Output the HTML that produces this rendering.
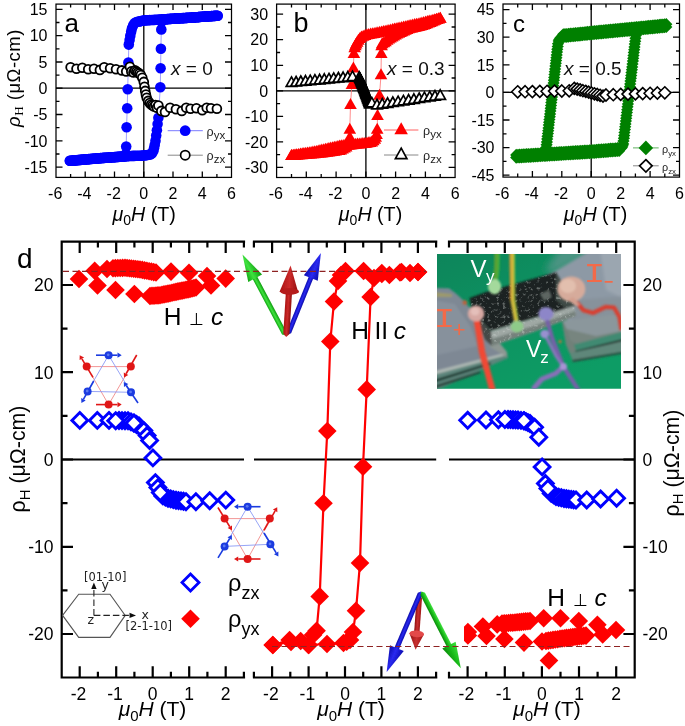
<!DOCTYPE html>
<html lang="en"><head><meta charset="utf-8"><title>Hall resistivity figure</title>
<style>html,body{margin:0;padding:0;background:#fff}body{width:685px;height:726px;overflow:hidden}svg{display:block}text{font-kerning:normal}</style></head><body>
<svg width="685" height="726" viewBox="0 0 685 726">
<defs>
<filter id="soft" x="-5%" y="-5%" width="110%" height="110%"><feGaussianBlur stdDeviation="0.45"/></filter>
<filter id="pblur" x="-10%" y="-10%" width="120%" height="120%"><feGaussianBlur stdDeviation="1.5"/></filter>
<filter id="speck" x="0" y="0" width="100%" height="100%"><feTurbulence type="fractalNoise" baseFrequency="0.32" numOctaves="3" seed="11" result="n"/><feColorMatrix in="n" type="matrix" values="0 0 0 0 1  0 0 0 0 1  0 0 0 0 1  4.5 0 0 0 -2.55" result="m"/><feComposite in="SourceGraphic" in2="m" operator="in"/><feGaussianBlur stdDeviation="0.5"/></filter>
<filter id="pblur3" x="-30%" y="-30%" width="160%" height="160%"><feGaussianBlur stdDeviation="4"/></filter>
<filter id="pblur2" x="-10%" y="-10%" width="120%" height="120%"><feGaussianBlur stdDeviation="0.8"/></filter>
<filter id="allsoft" x="0" y="0" width="100%" height="100%"><feGaussianBlur stdDeviation="0.35"/></filter>
<clipPath id="pclip"><rect x="437" y="254" width="184" height="134.7"/></clipPath>
<linearGradient id="pgreen" x1="0" y1="0" x2="0.6" y2="1"><stop offset="0" stop-color="#09855a"/><stop offset="0.45" stop-color="#0c9160"/><stop offset="1" stop-color="#0e9c65"/></linearGradient>
<linearGradient id="gG" gradientUnits="objectBoundingBox" x1="0" y1="0" x2="0" y2="1"><stop offset="0" stop-color="#0fa50f"/><stop offset="0.45" stop-color="#3fe23f"/><stop offset="1" stop-color="#0c9a0c"/></linearGradient>
<linearGradient id="gG2" gradientUnits="objectBoundingBox" x1="0" y1="0" x2="0" y2="1"><stop offset="0" stop-color="#3fe23f"/><stop offset="0.55" stop-color="#18b818"/><stop offset="1" stop-color="#0a8a0a"/></linearGradient>
<linearGradient id="gB" gradientUnits="objectBoundingBox" x1="0" y1="0" x2="0" y2="1"><stop offset="0" stop-color="#0a0ab0"/><stop offset="0.5" stop-color="#2a2af0"/><stop offset="1" stop-color="#0a0aa8"/></linearGradient>
<linearGradient id="gR" gradientUnits="objectBoundingBox" x1="0" y1="0" x2="0" y2="1"><stop offset="0" stop-color="#a81212"/><stop offset="0.5" stop-color="#cc2a2a"/><stop offset="1" stop-color="#8e0e0e"/></linearGradient>
<linearGradient id="gR2" gradientUnits="objectBoundingBox" x1="0" y1="0" x2="0" y2="1"><stop offset="0" stop-color="#a01515"/><stop offset="0.5" stop-color="#c93030"/><stop offset="1" stop-color="#8e1010"/></linearGradient>
</defs>
<rect width="685" height="726" fill="#fff"/>
<g filter="url(#allsoft)">
<g id="panel-a"><rect x="56" y="4.1" width="175.5" height="173.3" fill="#fff" stroke="#000" stroke-width="1.25"/>
<path d="M56 88.2H231.5 M143.8 4.1V177.4" stroke="#000" stroke-width="1.3" fill="none"/>
<path d="M70.6 4.1v3.5 M70.6 177.4v-3.5 M85.2 4.1v6 M85.2 177.4v-6 M99.9 4.1v3.5 M99.9 177.4v-3.5 M114.5 4.1v6 M114.5 177.4v-6 M129.1 4.1v3.5 M129.1 177.4v-3.5 M143.8 4.1v6 M143.8 177.4v-6 M158.4 4.1v3.5 M158.4 177.4v-3.5 M173 4.1v6 M173 177.4v-6 M187.6 4.1v3.5 M187.6 177.4v-3.5 M202.3 4.1v6 M202.3 177.4v-6 M216.9 4.1v3.5 M216.9 177.4v-3.5 M56 9.4h6.5 M231.5 9.4h-6.5 M56 35.7h6.5 M231.5 35.7h-6.5 M56 62h6.5 M231.5 62h-6.5 M56 88.2h6.5 M231.5 88.2h-6.5 M56 114.5h6.5 M231.5 114.5h-6.5 M56 140.8h6.5 M231.5 140.8h-6.5 M56 167.1h6.5 M231.5 167.1h-6.5 M56 22.5h3.5 M231.5 22.5h-3.5 M56 48.8h3.5 M231.5 48.8h-3.5 M56 75.1h3.5 M231.5 75.1h-3.5 M56 101.4h3.5 M231.5 101.4h-3.5 M56 127.7h3.5 M231.5 127.7h-3.5 M56 154h3.5 M231.5 154h-3.5" stroke="#000" stroke-width="1.3" fill="none"/>
<text x="47.5" y="15.1" font-size="16" text-anchor="end" fill="#000" font-family='"Liberation Sans", sans-serif' >15</text>
<text x="47.5" y="41.4" font-size="16" text-anchor="end" fill="#000" font-family='"Liberation Sans", sans-serif' >10</text>
<text x="47.5" y="67.7" font-size="16" text-anchor="end" fill="#000" font-family='"Liberation Sans", sans-serif' >5</text>
<text x="47.5" y="94" font-size="16" text-anchor="end" fill="#000" font-family='"Liberation Sans", sans-serif' >0</text>
<text x="47.5" y="120.2" font-size="16" text-anchor="end" fill="#000" font-family='"Liberation Sans", sans-serif' >-5</text>
<text x="47.5" y="146.5" font-size="16" text-anchor="end" fill="#000" font-family='"Liberation Sans", sans-serif' >-10</text>
<text x="47.5" y="172.8" font-size="16" text-anchor="end" fill="#000" font-family='"Liberation Sans", sans-serif' >-15</text>
<text x="55.2" y="198.8" font-size="16" text-anchor="middle" fill="#000" font-family='"Liberation Sans", sans-serif' >-6</text>
<text x="84.4" y="198.8" font-size="16" text-anchor="middle" fill="#000" font-family='"Liberation Sans", sans-serif' >-4</text>
<text x="113.7" y="198.8" font-size="16" text-anchor="middle" fill="#000" font-family='"Liberation Sans", sans-serif' >-2</text>
<text x="143.8" y="198.8" font-size="16" text-anchor="middle" fill="#000" font-family='"Liberation Sans", sans-serif' >0</text>
<text x="173" y="198.8" font-size="16" text-anchor="middle" fill="#000" font-family='"Liberation Sans", sans-serif' >2</text>
<text x="202.3" y="198.8" font-size="16" text-anchor="middle" fill="#000" font-family='"Liberation Sans", sans-serif' >4</text>
<text x="231.5" y="198.8" font-size="16" text-anchor="middle" fill="#000" font-family='"Liberation Sans", sans-serif' >6</text>
<text x="144.2" y="220.8" font-size="19.7" text-anchor="middle" font-family='"Liberation Sans", sans-serif'><tspan font-style="italic">μ</tspan><tspan font-size="14" dy="4.5">0</tspan><tspan font-style="italic" dy="-4.5">H</tspan> (T)</text>
<polyline points="217.6,15.7 216.2,15.8 214.7,15.9 213.2,16 211.7,16.1 210.2,16.2 208.8,16.3 207.3,16.4 205.8,16.5 204.3,16.6 202.9,16.7 201.4,16.8 199.9,16.9 198.4,17 197,17.2 195.5,17.3 194,17.4 192.5,17.5 191.1,17.6 189.6,17.7 188.1,17.8 186.6,17.9 185.2,18 183.7,18.1 182.2,18.1 180.7,18.2 179.2,18.3 177.8,18.4 176.3,18.5 174.8,18.6 173.3,18.7 171.9,18.8 170.4,18.9 168.9,19 167.4,19.1 166,19.2 164.5,19.3 163,19.4 161.5,19.4 160.1,19.5 158.6,19.6 157.1,19.7 155.6,19.8 154.2,19.9 152.7,20 151.2,20 149.7,20.1 148.2,20.2 146.8,20.3 145.3,20.4 143.8,20.4 142.3,20.7 140.9,21.1 139.4,21.4 137.9,21.7 136.4,22 134.7,23.1 133.2,25.2 132,28.3 131.2,31.5 130.3,35.7 129.6,39.9 128.8,44.6 128.4,62.5 127.7,89.3 127.2,108.2 126.6,127.2 126.2,146.6 125.9,154 124.7,156.4 123.2,156.5 121.8,156.6 120.3,156.7 118.8,156.8 117.3,156.9 115.8,157 114.4,157.1 112.9,157.2 111.4,157.3 109.9,157.4 108.4,157.6 106.9,157.7 105.5,157.8 104,157.9 102.5,158 101,158.1 99.5,158.2 98,158.3 96.6,158.5 95.1,158.6 93.6,158.7 92.1,158.8 90.6,159 89.1,159.1 87.7,159.2 86.2,159.4 84.7,159.5 83.2,159.6 81.7,159.8 80.2,159.9 78.8,160 77.3,160.1 75.8,160.3 74.3,160.4 72.8,160.5 71.4,160.7 69.9,160.8 69.9,160.8 71.3,160.7 72.8,160.5 74.3,160.4 75.7,160.3 77.2,160.2 78.6,160 80.1,159.9 81.6,159.8 83,159.6 84.5,159.5 86,159.4 87.4,159.3 88.9,159.1 90.4,159 91.8,158.9 93.3,158.7 94.7,158.6 96.2,158.5 97.7,158.4 99.1,158.2 100.6,158.1 102.1,158 103.5,157.9 105,157.8 106.4,157.7 107.9,157.6 109.4,157.5 110.8,157.4 112.3,157.3 113.8,157.2 115.2,157.1 116.7,157 118.1,156.9 119.6,156.7 121.1,156.6 122.5,156.5 124,156.4 125.5,156.3 126.9,156.2 128.4,156.1 129.9,156 131.3,156 132.8,155.9 134.2,155.9 135.7,155.8 137.2,155.8 138.6,155.7 140.1,155.7 141.6,155.6 143,155.6 144.5,155.4 145.9,155.2 147.4,155 148.9,154.7 150.3,154.5 151.8,153.4 153.3,151.3 154,148.2 154.7,145 155.5,140.8 156.2,135.6 156.9,130.3 157.6,124 158.4,117.7 160.3,87.2 160.6,68.3 160.9,48.8 161.3,29.4 161.6,21.5 162.8,19.4 164.3,19.3 165.7,19.2 167.2,19.1 168.7,19 170.2,18.9 171.7,18.8 173.1,18.7 174.6,18.6 176.1,18.5 177.6,18.4 179.1,18.3 180.6,18.3 182,18.2 183.5,18.1 185,18 186.5,17.9 188,17.8 189.5,17.7 190.9,17.6 192.4,17.5 193.9,17.4 195.4,17.3 196.9,17.2 198.4,17.1 199.8,17 201.3,16.8 202.8,16.7 204.3,16.6 205.8,16.5 207.3,16.4 208.7,16.3 210.2,16.2 211.7,16.1 213.2,16 214.7,15.9 216.1,15.8 217.6,15.7" fill="none" stroke="#8a8aff" stroke-width="0.8" />
<circle cx="217.6" cy="15.7" r="5.3" fill="#0000ff" stroke="none" stroke-width="0"/>
<circle cx="216.2" cy="15.8" r="5.3" fill="#0000ff" stroke="none" stroke-width="0"/>
<circle cx="214.7" cy="15.9" r="5.3" fill="#0000ff" stroke="none" stroke-width="0"/>
<circle cx="213.2" cy="16" r="5.3" fill="#0000ff" stroke="none" stroke-width="0"/>
<circle cx="211.7" cy="16.1" r="5.3" fill="#0000ff" stroke="none" stroke-width="0"/>
<circle cx="210.2" cy="16.2" r="5.3" fill="#0000ff" stroke="none" stroke-width="0"/>
<circle cx="208.8" cy="16.3" r="5.3" fill="#0000ff" stroke="none" stroke-width="0"/>
<circle cx="207.3" cy="16.4" r="5.3" fill="#0000ff" stroke="none" stroke-width="0"/>
<circle cx="205.8" cy="16.5" r="5.3" fill="#0000ff" stroke="none" stroke-width="0"/>
<circle cx="204.3" cy="16.6" r="5.3" fill="#0000ff" stroke="none" stroke-width="0"/>
<circle cx="202.9" cy="16.7" r="5.3" fill="#0000ff" stroke="none" stroke-width="0"/>
<circle cx="201.4" cy="16.8" r="5.3" fill="#0000ff" stroke="none" stroke-width="0"/>
<circle cx="199.9" cy="16.9" r="5.3" fill="#0000ff" stroke="none" stroke-width="0"/>
<circle cx="198.4" cy="17" r="5.3" fill="#0000ff" stroke="none" stroke-width="0"/>
<circle cx="197" cy="17.2" r="5.3" fill="#0000ff" stroke="none" stroke-width="0"/>
<circle cx="195.5" cy="17.3" r="5.3" fill="#0000ff" stroke="none" stroke-width="0"/>
<circle cx="194" cy="17.4" r="5.3" fill="#0000ff" stroke="none" stroke-width="0"/>
<circle cx="192.5" cy="17.5" r="5.3" fill="#0000ff" stroke="none" stroke-width="0"/>
<circle cx="191.1" cy="17.6" r="5.3" fill="#0000ff" stroke="none" stroke-width="0"/>
<circle cx="189.6" cy="17.7" r="5.3" fill="#0000ff" stroke="none" stroke-width="0"/>
<circle cx="188.1" cy="17.8" r="5.3" fill="#0000ff" stroke="none" stroke-width="0"/>
<circle cx="186.6" cy="17.9" r="5.3" fill="#0000ff" stroke="none" stroke-width="0"/>
<circle cx="185.2" cy="18" r="5.3" fill="#0000ff" stroke="none" stroke-width="0"/>
<circle cx="183.7" cy="18.1" r="5.3" fill="#0000ff" stroke="none" stroke-width="0"/>
<circle cx="182.2" cy="18.1" r="5.3" fill="#0000ff" stroke="none" stroke-width="0"/>
<circle cx="180.7" cy="18.2" r="5.3" fill="#0000ff" stroke="none" stroke-width="0"/>
<circle cx="179.2" cy="18.3" r="5.3" fill="#0000ff" stroke="none" stroke-width="0"/>
<circle cx="177.8" cy="18.4" r="5.3" fill="#0000ff" stroke="none" stroke-width="0"/>
<circle cx="176.3" cy="18.5" r="5.3" fill="#0000ff" stroke="none" stroke-width="0"/>
<circle cx="174.8" cy="18.6" r="5.3" fill="#0000ff" stroke="none" stroke-width="0"/>
<circle cx="173.3" cy="18.7" r="5.3" fill="#0000ff" stroke="none" stroke-width="0"/>
<circle cx="171.9" cy="18.8" r="5.3" fill="#0000ff" stroke="none" stroke-width="0"/>
<circle cx="170.4" cy="18.9" r="5.3" fill="#0000ff" stroke="none" stroke-width="0"/>
<circle cx="168.9" cy="19" r="5.3" fill="#0000ff" stroke="none" stroke-width="0"/>
<circle cx="167.4" cy="19.1" r="5.3" fill="#0000ff" stroke="none" stroke-width="0"/>
<circle cx="166" cy="19.2" r="5.3" fill="#0000ff" stroke="none" stroke-width="0"/>
<circle cx="164.5" cy="19.3" r="5.3" fill="#0000ff" stroke="none" stroke-width="0"/>
<circle cx="163" cy="19.4" r="5.3" fill="#0000ff" stroke="none" stroke-width="0"/>
<circle cx="161.5" cy="19.4" r="5.3" fill="#0000ff" stroke="none" stroke-width="0"/>
<circle cx="160.1" cy="19.5" r="5.3" fill="#0000ff" stroke="none" stroke-width="0"/>
<circle cx="158.6" cy="19.6" r="5.3" fill="#0000ff" stroke="none" stroke-width="0"/>
<circle cx="157.1" cy="19.7" r="5.3" fill="#0000ff" stroke="none" stroke-width="0"/>
<circle cx="155.6" cy="19.8" r="5.3" fill="#0000ff" stroke="none" stroke-width="0"/>
<circle cx="154.2" cy="19.9" r="5.3" fill="#0000ff" stroke="none" stroke-width="0"/>
<circle cx="152.7" cy="20" r="5.3" fill="#0000ff" stroke="none" stroke-width="0"/>
<circle cx="151.2" cy="20" r="5.3" fill="#0000ff" stroke="none" stroke-width="0"/>
<circle cx="149.7" cy="20.1" r="5.3" fill="#0000ff" stroke="none" stroke-width="0"/>
<circle cx="148.2" cy="20.2" r="5.3" fill="#0000ff" stroke="none" stroke-width="0"/>
<circle cx="146.8" cy="20.3" r="5.3" fill="#0000ff" stroke="none" stroke-width="0"/>
<circle cx="145.3" cy="20.4" r="5.3" fill="#0000ff" stroke="none" stroke-width="0"/>
<circle cx="143.8" cy="20.4" r="5.3" fill="#0000ff" stroke="none" stroke-width="0"/>
<circle cx="142.3" cy="20.7" r="5.3" fill="#0000ff" stroke="none" stroke-width="0"/>
<circle cx="140.9" cy="21.1" r="5.3" fill="#0000ff" stroke="none" stroke-width="0"/>
<circle cx="139.4" cy="21.4" r="5.3" fill="#0000ff" stroke="none" stroke-width="0"/>
<circle cx="137.9" cy="21.7" r="5.3" fill="#0000ff" stroke="none" stroke-width="0"/>
<circle cx="136.4" cy="22" r="5.3" fill="#0000ff" stroke="none" stroke-width="0"/>
<circle cx="134.7" cy="23.1" r="5.3" fill="#0000ff" stroke="none" stroke-width="0"/>
<circle cx="133.2" cy="25.2" r="5.3" fill="#0000ff" stroke="none" stroke-width="0"/>
<circle cx="132" cy="28.3" r="5.3" fill="#0000ff" stroke="none" stroke-width="0"/>
<circle cx="131.2" cy="31.5" r="5.3" fill="#0000ff" stroke="none" stroke-width="0"/>
<circle cx="130.3" cy="35.7" r="5.3" fill="#0000ff" stroke="none" stroke-width="0"/>
<circle cx="129.6" cy="39.9" r="5.3" fill="#0000ff" stroke="none" stroke-width="0"/>
<circle cx="128.8" cy="44.6" r="5.3" fill="#0000ff" stroke="none" stroke-width="0"/>
<circle cx="128.4" cy="62.5" r="5.3" fill="#0000ff" stroke="none" stroke-width="0"/>
<circle cx="127.7" cy="89.3" r="5.3" fill="#0000ff" stroke="none" stroke-width="0"/>
<circle cx="127.2" cy="108.2" r="5.3" fill="#0000ff" stroke="none" stroke-width="0"/>
<circle cx="126.6" cy="127.2" r="5.3" fill="#0000ff" stroke="none" stroke-width="0"/>
<circle cx="126.2" cy="146.6" r="5.3" fill="#0000ff" stroke="none" stroke-width="0"/>
<circle cx="125.9" cy="154" r="5.3" fill="#0000ff" stroke="none" stroke-width="0"/>
<circle cx="124.7" cy="156.4" r="5.3" fill="#0000ff" stroke="none" stroke-width="0"/>
<circle cx="123.2" cy="156.5" r="5.3" fill="#0000ff" stroke="none" stroke-width="0"/>
<circle cx="121.8" cy="156.6" r="5.3" fill="#0000ff" stroke="none" stroke-width="0"/>
<circle cx="120.3" cy="156.7" r="5.3" fill="#0000ff" stroke="none" stroke-width="0"/>
<circle cx="118.8" cy="156.8" r="5.3" fill="#0000ff" stroke="none" stroke-width="0"/>
<circle cx="117.3" cy="156.9" r="5.3" fill="#0000ff" stroke="none" stroke-width="0"/>
<circle cx="115.8" cy="157" r="5.3" fill="#0000ff" stroke="none" stroke-width="0"/>
<circle cx="114.4" cy="157.1" r="5.3" fill="#0000ff" stroke="none" stroke-width="0"/>
<circle cx="112.9" cy="157.2" r="5.3" fill="#0000ff" stroke="none" stroke-width="0"/>
<circle cx="111.4" cy="157.3" r="5.3" fill="#0000ff" stroke="none" stroke-width="0"/>
<circle cx="109.9" cy="157.4" r="5.3" fill="#0000ff" stroke="none" stroke-width="0"/>
<circle cx="108.4" cy="157.6" r="5.3" fill="#0000ff" stroke="none" stroke-width="0"/>
<circle cx="106.9" cy="157.7" r="5.3" fill="#0000ff" stroke="none" stroke-width="0"/>
<circle cx="105.5" cy="157.8" r="5.3" fill="#0000ff" stroke="none" stroke-width="0"/>
<circle cx="104" cy="157.9" r="5.3" fill="#0000ff" stroke="none" stroke-width="0"/>
<circle cx="102.5" cy="158" r="5.3" fill="#0000ff" stroke="none" stroke-width="0"/>
<circle cx="101" cy="158.1" r="5.3" fill="#0000ff" stroke="none" stroke-width="0"/>
<circle cx="99.5" cy="158.2" r="5.3" fill="#0000ff" stroke="none" stroke-width="0"/>
<circle cx="98" cy="158.3" r="5.3" fill="#0000ff" stroke="none" stroke-width="0"/>
<circle cx="96.6" cy="158.5" r="5.3" fill="#0000ff" stroke="none" stroke-width="0"/>
<circle cx="95.1" cy="158.6" r="5.3" fill="#0000ff" stroke="none" stroke-width="0"/>
<circle cx="93.6" cy="158.7" r="5.3" fill="#0000ff" stroke="none" stroke-width="0"/>
<circle cx="92.1" cy="158.8" r="5.3" fill="#0000ff" stroke="none" stroke-width="0"/>
<circle cx="90.6" cy="159" r="5.3" fill="#0000ff" stroke="none" stroke-width="0"/>
<circle cx="89.1" cy="159.1" r="5.3" fill="#0000ff" stroke="none" stroke-width="0"/>
<circle cx="87.7" cy="159.2" r="5.3" fill="#0000ff" stroke="none" stroke-width="0"/>
<circle cx="86.2" cy="159.4" r="5.3" fill="#0000ff" stroke="none" stroke-width="0"/>
<circle cx="84.7" cy="159.5" r="5.3" fill="#0000ff" stroke="none" stroke-width="0"/>
<circle cx="83.2" cy="159.6" r="5.3" fill="#0000ff" stroke="none" stroke-width="0"/>
<circle cx="81.7" cy="159.8" r="5.3" fill="#0000ff" stroke="none" stroke-width="0"/>
<circle cx="80.2" cy="159.9" r="5.3" fill="#0000ff" stroke="none" stroke-width="0"/>
<circle cx="78.8" cy="160" r="5.3" fill="#0000ff" stroke="none" stroke-width="0"/>
<circle cx="77.3" cy="160.1" r="5.3" fill="#0000ff" stroke="none" stroke-width="0"/>
<circle cx="75.8" cy="160.3" r="5.3" fill="#0000ff" stroke="none" stroke-width="0"/>
<circle cx="74.3" cy="160.4" r="5.3" fill="#0000ff" stroke="none" stroke-width="0"/>
<circle cx="72.8" cy="160.5" r="5.3" fill="#0000ff" stroke="none" stroke-width="0"/>
<circle cx="71.4" cy="160.7" r="5.3" fill="#0000ff" stroke="none" stroke-width="0"/>
<circle cx="69.9" cy="160.8" r="5.3" fill="#0000ff" stroke="none" stroke-width="0"/>
<circle cx="69.9" cy="160.8" r="5.3" fill="#0000ff" stroke="none" stroke-width="0"/>
<circle cx="71.3" cy="160.7" r="5.3" fill="#0000ff" stroke="none" stroke-width="0"/>
<circle cx="72.8" cy="160.5" r="5.3" fill="#0000ff" stroke="none" stroke-width="0"/>
<circle cx="74.3" cy="160.4" r="5.3" fill="#0000ff" stroke="none" stroke-width="0"/>
<circle cx="75.7" cy="160.3" r="5.3" fill="#0000ff" stroke="none" stroke-width="0"/>
<circle cx="77.2" cy="160.2" r="5.3" fill="#0000ff" stroke="none" stroke-width="0"/>
<circle cx="78.6" cy="160" r="5.3" fill="#0000ff" stroke="none" stroke-width="0"/>
<circle cx="80.1" cy="159.9" r="5.3" fill="#0000ff" stroke="none" stroke-width="0"/>
<circle cx="81.6" cy="159.8" r="5.3" fill="#0000ff" stroke="none" stroke-width="0"/>
<circle cx="83" cy="159.6" r="5.3" fill="#0000ff" stroke="none" stroke-width="0"/>
<circle cx="84.5" cy="159.5" r="5.3" fill="#0000ff" stroke="none" stroke-width="0"/>
<circle cx="86" cy="159.4" r="5.3" fill="#0000ff" stroke="none" stroke-width="0"/>
<circle cx="87.4" cy="159.3" r="5.3" fill="#0000ff" stroke="none" stroke-width="0"/>
<circle cx="88.9" cy="159.1" r="5.3" fill="#0000ff" stroke="none" stroke-width="0"/>
<circle cx="90.4" cy="159" r="5.3" fill="#0000ff" stroke="none" stroke-width="0"/>
<circle cx="91.8" cy="158.9" r="5.3" fill="#0000ff" stroke="none" stroke-width="0"/>
<circle cx="93.3" cy="158.7" r="5.3" fill="#0000ff" stroke="none" stroke-width="0"/>
<circle cx="94.7" cy="158.6" r="5.3" fill="#0000ff" stroke="none" stroke-width="0"/>
<circle cx="96.2" cy="158.5" r="5.3" fill="#0000ff" stroke="none" stroke-width="0"/>
<circle cx="97.7" cy="158.4" r="5.3" fill="#0000ff" stroke="none" stroke-width="0"/>
<circle cx="99.1" cy="158.2" r="5.3" fill="#0000ff" stroke="none" stroke-width="0"/>
<circle cx="100.6" cy="158.1" r="5.3" fill="#0000ff" stroke="none" stroke-width="0"/>
<circle cx="102.1" cy="158" r="5.3" fill="#0000ff" stroke="none" stroke-width="0"/>
<circle cx="103.5" cy="157.9" r="5.3" fill="#0000ff" stroke="none" stroke-width="0"/>
<circle cx="105" cy="157.8" r="5.3" fill="#0000ff" stroke="none" stroke-width="0"/>
<circle cx="106.4" cy="157.7" r="5.3" fill="#0000ff" stroke="none" stroke-width="0"/>
<circle cx="107.9" cy="157.6" r="5.3" fill="#0000ff" stroke="none" stroke-width="0"/>
<circle cx="109.4" cy="157.5" r="5.3" fill="#0000ff" stroke="none" stroke-width="0"/>
<circle cx="110.8" cy="157.4" r="5.3" fill="#0000ff" stroke="none" stroke-width="0"/>
<circle cx="112.3" cy="157.3" r="5.3" fill="#0000ff" stroke="none" stroke-width="0"/>
<circle cx="113.8" cy="157.2" r="5.3" fill="#0000ff" stroke="none" stroke-width="0"/>
<circle cx="115.2" cy="157.1" r="5.3" fill="#0000ff" stroke="none" stroke-width="0"/>
<circle cx="116.7" cy="157" r="5.3" fill="#0000ff" stroke="none" stroke-width="0"/>
<circle cx="118.1" cy="156.9" r="5.3" fill="#0000ff" stroke="none" stroke-width="0"/>
<circle cx="119.6" cy="156.7" r="5.3" fill="#0000ff" stroke="none" stroke-width="0"/>
<circle cx="121.1" cy="156.6" r="5.3" fill="#0000ff" stroke="none" stroke-width="0"/>
<circle cx="122.5" cy="156.5" r="5.3" fill="#0000ff" stroke="none" stroke-width="0"/>
<circle cx="124" cy="156.4" r="5.3" fill="#0000ff" stroke="none" stroke-width="0"/>
<circle cx="125.5" cy="156.3" r="5.3" fill="#0000ff" stroke="none" stroke-width="0"/>
<circle cx="126.9" cy="156.2" r="5.3" fill="#0000ff" stroke="none" stroke-width="0"/>
<circle cx="128.4" cy="156.1" r="5.3" fill="#0000ff" stroke="none" stroke-width="0"/>
<circle cx="129.9" cy="156" r="5.3" fill="#0000ff" stroke="none" stroke-width="0"/>
<circle cx="131.3" cy="156" r="5.3" fill="#0000ff" stroke="none" stroke-width="0"/>
<circle cx="132.8" cy="155.9" r="5.3" fill="#0000ff" stroke="none" stroke-width="0"/>
<circle cx="134.2" cy="155.9" r="5.3" fill="#0000ff" stroke="none" stroke-width="0"/>
<circle cx="135.7" cy="155.8" r="5.3" fill="#0000ff" stroke="none" stroke-width="0"/>
<circle cx="137.2" cy="155.8" r="5.3" fill="#0000ff" stroke="none" stroke-width="0"/>
<circle cx="138.6" cy="155.7" r="5.3" fill="#0000ff" stroke="none" stroke-width="0"/>
<circle cx="140.1" cy="155.7" r="5.3" fill="#0000ff" stroke="none" stroke-width="0"/>
<circle cx="141.6" cy="155.6" r="5.3" fill="#0000ff" stroke="none" stroke-width="0"/>
<circle cx="143" cy="155.6" r="5.3" fill="#0000ff" stroke="none" stroke-width="0"/>
<circle cx="144.5" cy="155.4" r="5.3" fill="#0000ff" stroke="none" stroke-width="0"/>
<circle cx="145.9" cy="155.2" r="5.3" fill="#0000ff" stroke="none" stroke-width="0"/>
<circle cx="147.4" cy="155" r="5.3" fill="#0000ff" stroke="none" stroke-width="0"/>
<circle cx="148.9" cy="154.7" r="5.3" fill="#0000ff" stroke="none" stroke-width="0"/>
<circle cx="150.3" cy="154.5" r="5.3" fill="#0000ff" stroke="none" stroke-width="0"/>
<circle cx="151.8" cy="153.4" r="5.3" fill="#0000ff" stroke="none" stroke-width="0"/>
<circle cx="153.3" cy="151.3" r="5.3" fill="#0000ff" stroke="none" stroke-width="0"/>
<circle cx="154" cy="148.2" r="5.3" fill="#0000ff" stroke="none" stroke-width="0"/>
<circle cx="154.7" cy="145" r="5.3" fill="#0000ff" stroke="none" stroke-width="0"/>
<circle cx="155.5" cy="140.8" r="5.3" fill="#0000ff" stroke="none" stroke-width="0"/>
<circle cx="156.2" cy="135.6" r="5.3" fill="#0000ff" stroke="none" stroke-width="0"/>
<circle cx="156.9" cy="130.3" r="5.3" fill="#0000ff" stroke="none" stroke-width="0"/>
<circle cx="157.6" cy="124" r="5.3" fill="#0000ff" stroke="none" stroke-width="0"/>
<circle cx="158.4" cy="117.7" r="5.3" fill="#0000ff" stroke="none" stroke-width="0"/>
<circle cx="160.3" cy="87.2" r="5.3" fill="#0000ff" stroke="none" stroke-width="0"/>
<circle cx="160.6" cy="68.3" r="5.3" fill="#0000ff" stroke="none" stroke-width="0"/>
<circle cx="160.9" cy="48.8" r="5.3" fill="#0000ff" stroke="none" stroke-width="0"/>
<circle cx="161.3" cy="29.4" r="5.3" fill="#0000ff" stroke="none" stroke-width="0"/>
<circle cx="161.6" cy="21.5" r="5.3" fill="#0000ff" stroke="none" stroke-width="0"/>
<circle cx="162.8" cy="19.4" r="5.3" fill="#0000ff" stroke="none" stroke-width="0"/>
<circle cx="164.3" cy="19.3" r="5.3" fill="#0000ff" stroke="none" stroke-width="0"/>
<circle cx="165.7" cy="19.2" r="5.3" fill="#0000ff" stroke="none" stroke-width="0"/>
<circle cx="167.2" cy="19.1" r="5.3" fill="#0000ff" stroke="none" stroke-width="0"/>
<circle cx="168.7" cy="19" r="5.3" fill="#0000ff" stroke="none" stroke-width="0"/>
<circle cx="170.2" cy="18.9" r="5.3" fill="#0000ff" stroke="none" stroke-width="0"/>
<circle cx="171.7" cy="18.8" r="5.3" fill="#0000ff" stroke="none" stroke-width="0"/>
<circle cx="173.1" cy="18.7" r="5.3" fill="#0000ff" stroke="none" stroke-width="0"/>
<circle cx="174.6" cy="18.6" r="5.3" fill="#0000ff" stroke="none" stroke-width="0"/>
<circle cx="176.1" cy="18.5" r="5.3" fill="#0000ff" stroke="none" stroke-width="0"/>
<circle cx="177.6" cy="18.4" r="5.3" fill="#0000ff" stroke="none" stroke-width="0"/>
<circle cx="179.1" cy="18.3" r="5.3" fill="#0000ff" stroke="none" stroke-width="0"/>
<circle cx="180.6" cy="18.3" r="5.3" fill="#0000ff" stroke="none" stroke-width="0"/>
<circle cx="182" cy="18.2" r="5.3" fill="#0000ff" stroke="none" stroke-width="0"/>
<circle cx="183.5" cy="18.1" r="5.3" fill="#0000ff" stroke="none" stroke-width="0"/>
<circle cx="185" cy="18" r="5.3" fill="#0000ff" stroke="none" stroke-width="0"/>
<circle cx="186.5" cy="17.9" r="5.3" fill="#0000ff" stroke="none" stroke-width="0"/>
<circle cx="188" cy="17.8" r="5.3" fill="#0000ff" stroke="none" stroke-width="0"/>
<circle cx="189.5" cy="17.7" r="5.3" fill="#0000ff" stroke="none" stroke-width="0"/>
<circle cx="190.9" cy="17.6" r="5.3" fill="#0000ff" stroke="none" stroke-width="0"/>
<circle cx="192.4" cy="17.5" r="5.3" fill="#0000ff" stroke="none" stroke-width="0"/>
<circle cx="193.9" cy="17.4" r="5.3" fill="#0000ff" stroke="none" stroke-width="0"/>
<circle cx="195.4" cy="17.3" r="5.3" fill="#0000ff" stroke="none" stroke-width="0"/>
<circle cx="196.9" cy="17.2" r="5.3" fill="#0000ff" stroke="none" stroke-width="0"/>
<circle cx="198.4" cy="17.1" r="5.3" fill="#0000ff" stroke="none" stroke-width="0"/>
<circle cx="199.8" cy="17" r="5.3" fill="#0000ff" stroke="none" stroke-width="0"/>
<circle cx="201.3" cy="16.8" r="5.3" fill="#0000ff" stroke="none" stroke-width="0"/>
<circle cx="202.8" cy="16.7" r="5.3" fill="#0000ff" stroke="none" stroke-width="0"/>
<circle cx="204.3" cy="16.6" r="5.3" fill="#0000ff" stroke="none" stroke-width="0"/>
<circle cx="205.8" cy="16.5" r="5.3" fill="#0000ff" stroke="none" stroke-width="0"/>
<circle cx="207.3" cy="16.4" r="5.3" fill="#0000ff" stroke="none" stroke-width="0"/>
<circle cx="208.7" cy="16.3" r="5.3" fill="#0000ff" stroke="none" stroke-width="0"/>
<circle cx="210.2" cy="16.2" r="5.3" fill="#0000ff" stroke="none" stroke-width="0"/>
<circle cx="211.7" cy="16.1" r="5.3" fill="#0000ff" stroke="none" stroke-width="0"/>
<circle cx="213.2" cy="16" r="5.3" fill="#0000ff" stroke="none" stroke-width="0"/>
<circle cx="214.7" cy="15.9" r="5.3" fill="#0000ff" stroke="none" stroke-width="0"/>
<circle cx="216.1" cy="15.8" r="5.3" fill="#0000ff" stroke="none" stroke-width="0"/>
<circle cx="217.6" cy="15.7" r="5.3" fill="#0000ff" stroke="none" stroke-width="0"/>
<polyline points="70.6,67.2 76.5,68.8 82.3,67.7 88.2,69.3 94,68.8 99.9,69.9 104.2,67.2 110.1,68.3 116,69.3 121.8,70.4 126.2,71.4 129.9,66.7 131.3,71.4 133.5,72.5 135,70.4 136.4,71.4 137.9,72.5 139.4,73.5 140.8,75.1 142.3,77.7 143.8,81.9 144.5,86.7 145.2,90.9 145.9,94.6 146.7,97.7 148.1,100.9 149.6,103 151.1,104.5 152.5,105.6 154,106.6 155.5,105.1 156.9,107.7 158.4,105.6 161.3,110.9 165,111.9 170.1,107.7 175.9,109.3 181.8,110.9 186.2,107.7 190.6,108.8 196.4,108.2 202.3,110.3 206.7,107.7 211,108.2 216.9,108.8" fill="none" stroke="#000" stroke-width="0.8" />
<circle cx="70.6" cy="67.2" r="4.4" fill="#fff" stroke="#000" stroke-width="1.8"/>
<circle cx="76.5" cy="68.8" r="4.4" fill="#fff" stroke="#000" stroke-width="1.8"/>
<circle cx="82.3" cy="67.7" r="4.4" fill="#fff" stroke="#000" stroke-width="1.8"/>
<circle cx="88.2" cy="69.3" r="4.4" fill="#fff" stroke="#000" stroke-width="1.8"/>
<circle cx="94" cy="68.8" r="4.4" fill="#fff" stroke="#000" stroke-width="1.8"/>
<circle cx="99.9" cy="69.9" r="4.4" fill="#fff" stroke="#000" stroke-width="1.8"/>
<circle cx="104.2" cy="67.2" r="4.4" fill="#fff" stroke="#000" stroke-width="1.8"/>
<circle cx="110.1" cy="68.3" r="4.4" fill="#fff" stroke="#000" stroke-width="1.8"/>
<circle cx="116" cy="69.3" r="4.4" fill="#fff" stroke="#000" stroke-width="1.8"/>
<circle cx="121.8" cy="70.4" r="4.4" fill="#fff" stroke="#000" stroke-width="1.8"/>
<circle cx="126.2" cy="71.4" r="4.4" fill="#fff" stroke="#000" stroke-width="1.8"/>
<circle cx="129.9" cy="66.7" r="4.4" fill="#fff" stroke="#000" stroke-width="1.8"/>
<circle cx="131.3" cy="71.4" r="4.4" fill="#fff" stroke="#000" stroke-width="1.8"/>
<circle cx="133.5" cy="72.5" r="4.4" fill="#fff" stroke="#000" stroke-width="1.8"/>
<circle cx="135" cy="70.4" r="4.4" fill="#fff" stroke="#000" stroke-width="1.8"/>
<circle cx="136.4" cy="71.4" r="4.4" fill="#fff" stroke="#000" stroke-width="1.8"/>
<circle cx="137.9" cy="72.5" r="4.4" fill="#fff" stroke="#000" stroke-width="1.8"/>
<circle cx="139.4" cy="73.5" r="4.4" fill="#fff" stroke="#000" stroke-width="1.8"/>
<circle cx="140.8" cy="75.1" r="4.4" fill="#fff" stroke="#000" stroke-width="1.8"/>
<circle cx="142.3" cy="77.7" r="4.4" fill="#fff" stroke="#000" stroke-width="1.8"/>
<circle cx="143.8" cy="81.9" r="4.4" fill="#fff" stroke="#000" stroke-width="1.8"/>
<circle cx="144.5" cy="86.7" r="4.4" fill="#fff" stroke="#000" stroke-width="1.8"/>
<circle cx="145.2" cy="90.9" r="4.4" fill="#fff" stroke="#000" stroke-width="1.8"/>
<circle cx="145.9" cy="94.6" r="4.4" fill="#fff" stroke="#000" stroke-width="1.8"/>
<circle cx="146.7" cy="97.7" r="4.4" fill="#fff" stroke="#000" stroke-width="1.8"/>
<circle cx="148.1" cy="100.9" r="4.4" fill="#fff" stroke="#000" stroke-width="1.8"/>
<circle cx="149.6" cy="103" r="4.4" fill="#fff" stroke="#000" stroke-width="1.8"/>
<circle cx="151.1" cy="104.5" r="4.4" fill="#fff" stroke="#000" stroke-width="1.8"/>
<circle cx="152.5" cy="105.6" r="4.4" fill="#fff" stroke="#000" stroke-width="1.8"/>
<circle cx="154" cy="106.6" r="4.4" fill="#fff" stroke="#000" stroke-width="1.8"/>
<circle cx="155.5" cy="105.1" r="4.4" fill="#fff" stroke="#000" stroke-width="1.8"/>
<circle cx="156.9" cy="107.7" r="4.4" fill="#fff" stroke="#000" stroke-width="1.8"/>
<circle cx="158.4" cy="105.6" r="4.4" fill="#fff" stroke="#000" stroke-width="1.8"/>
<circle cx="161.3" cy="110.9" r="4.4" fill="#fff" stroke="#000" stroke-width="1.8"/>
<circle cx="165" cy="111.9" r="4.4" fill="#fff" stroke="#000" stroke-width="1.8"/>
<circle cx="170.1" cy="107.7" r="4.4" fill="#fff" stroke="#000" stroke-width="1.8"/>
<circle cx="175.9" cy="109.3" r="4.4" fill="#fff" stroke="#000" stroke-width="1.8"/>
<circle cx="181.8" cy="110.9" r="4.4" fill="#fff" stroke="#000" stroke-width="1.8"/>
<circle cx="186.2" cy="107.7" r="4.4" fill="#fff" stroke="#000" stroke-width="1.8"/>
<circle cx="190.6" cy="108.8" r="4.4" fill="#fff" stroke="#000" stroke-width="1.8"/>
<circle cx="196.4" cy="108.2" r="4.4" fill="#fff" stroke="#000" stroke-width="1.8"/>
<circle cx="202.3" cy="110.3" r="4.4" fill="#fff" stroke="#000" stroke-width="1.8"/>
<circle cx="206.7" cy="107.7" r="4.4" fill="#fff" stroke="#000" stroke-width="1.8"/>
<circle cx="211" cy="108.2" r="4.4" fill="#fff" stroke="#000" stroke-width="1.8"/>
<circle cx="216.9" cy="108.8" r="4.4" fill="#fff" stroke="#000" stroke-width="1.8"/>
<text x="64.5" y="31.5" font-size="26" text-anchor="start" fill="#000" font-family='"Liberation Sans", sans-serif' >a</text>
<text x="171" y="75" font-size="19" font-family='"Liberation Sans", sans-serif' fill="#111"><tspan font-style="italic">x</tspan> = 0</text>
<path d="M167.7 130.7H202.8" stroke="#7a7aff" stroke-width="1"/>
<circle cx="185.2" cy="130.7" r="5.4" fill="#0000ff" stroke="none" stroke-width="0"/>
<path d="M167.7 155.2H202.8" stroke="#888" stroke-width="1"/>
<circle cx="185.2" cy="155.2" r="4.6" fill="#fff" stroke="#000" stroke-width="1.7"/>
<text x="206.5" y="135.9" font-size="12.5" fill="#222" font-family='"Liberation Sans", sans-serif'>ρ<tspan font-size="11.5" dy="3">yx</tspan></text>
<text x="206.5" y="160.4" font-size="12.5" fill="#222" font-family='"Liberation Sans", sans-serif'>ρ<tspan font-size="11.5" dy="3">zx</tspan></text>
<text transform="translate(19.5,78) rotate(-90)" font-size="18.5" letter-spacing="0.5" text-anchor="middle" font-family='"Liberation Sans", sans-serif'><tspan font-style="italic">ρ</tspan><tspan font-size="13" dy="3" font-family='"Liberation Serif", serif'>H</tspan><tspan dy="-3"> (μΩ-cm)</tspan></text></g>
<g id="panel-b"><rect x="276.6" y="4.1" width="178.5" height="173.4" fill="#fff" stroke="#000" stroke-width="1.25"/>
<path d="M276.6 90.8H455.1 M365.9 4.1V177.5" stroke="#000" stroke-width="1.3" fill="none"/>
<path d="M291.5 4.1v3.5 M291.5 177.5v-3.5 M306.3 4.1v6 M306.3 177.5v-6 M321.2 4.1v3.5 M321.2 177.5v-3.5 M336.1 4.1v6 M336.1 177.5v-6 M351 4.1v3.5 M351 177.5v-3.5 M365.9 4.1v6 M365.9 177.5v-6 M380.7 4.1v3.5 M380.7 177.5v-3.5 M395.6 4.1v6 M395.6 177.5v-6 M410.5 4.1v3.5 M410.5 177.5v-3.5 M425.4 4.1v6 M425.4 177.5v-6 M440.2 4.1v3.5 M440.2 177.5v-3.5 M276.6 14.2h6.5 M455.1 14.2h-6.5 M276.6 39.7h6.5 M455.1 39.7h-6.5 M276.6 65.3h6.5 M455.1 65.3h-6.5 M276.6 90.8h6.5 M455.1 90.8h-6.5 M276.6 116.3h6.5 M455.1 116.3h-6.5 M276.6 141.9h6.5 M455.1 141.9h-6.5 M276.6 167.4h6.5 M455.1 167.4h-6.5 M276.6 27h3.5 M455.1 27h-3.5 M276.6 52.5h3.5 M455.1 52.5h-3.5 M276.6 78h3.5 M455.1 78h-3.5 M276.6 103.6h3.5 M455.1 103.6h-3.5 M276.6 129.1h3.5 M455.1 129.1h-3.5 M276.6 154.6h3.5 M455.1 154.6h-3.5" stroke="#000" stroke-width="1.3" fill="none"/>
<text x="268.1" y="19.9" font-size="16" text-anchor="end" fill="#000" font-family='"Liberation Sans", sans-serif' >30</text>
<text x="268.1" y="45.4" font-size="16" text-anchor="end" fill="#000" font-family='"Liberation Sans", sans-serif' >20</text>
<text x="268.1" y="71" font-size="16" text-anchor="end" fill="#000" font-family='"Liberation Sans", sans-serif' >10</text>
<text x="268.1" y="96.5" font-size="16" text-anchor="end" fill="#000" font-family='"Liberation Sans", sans-serif' >0</text>
<text x="268.1" y="122" font-size="16" text-anchor="end" fill="#000" font-family='"Liberation Sans", sans-serif' >-10</text>
<text x="268.1" y="147.6" font-size="16" text-anchor="end" fill="#000" font-family='"Liberation Sans", sans-serif' >-20</text>
<text x="268.1" y="173.1" font-size="16" text-anchor="end" fill="#000" font-family='"Liberation Sans", sans-serif' >-30</text>
<text x="275.8" y="198.8" font-size="16" text-anchor="middle" fill="#000" font-family='"Liberation Sans", sans-serif' >-6</text>
<text x="305.5" y="198.8" font-size="16" text-anchor="middle" fill="#000" font-family='"Liberation Sans", sans-serif' >-4</text>
<text x="335.3" y="198.8" font-size="16" text-anchor="middle" fill="#000" font-family='"Liberation Sans", sans-serif' >-2</text>
<text x="365.9" y="198.8" font-size="16" text-anchor="middle" fill="#000" font-family='"Liberation Sans", sans-serif' >0</text>
<text x="395.6" y="198.8" font-size="16" text-anchor="middle" fill="#000" font-family='"Liberation Sans", sans-serif' >2</text>
<text x="425.4" y="198.8" font-size="16" text-anchor="middle" fill="#000" font-family='"Liberation Sans", sans-serif' >4</text>
<text x="455.1" y="198.8" font-size="16" text-anchor="middle" fill="#000" font-family='"Liberation Sans", sans-serif' >6</text>
<text x="370.5" y="220.8" font-size="19.7" text-anchor="middle" font-family='"Liberation Sans", sans-serif'><tspan font-style="italic">μ</tspan><tspan font-size="14" dy="4.5">0</tspan><tspan font-style="italic" dy="-4.5">H</tspan> (T)</text>
<polyline points="440.2,18.3 438.4,18.8 436.6,19.3 434.7,19.8 432.9,20.3 431.1,20.8 429.2,21.2 427.4,21.7 425.6,22.2 423.7,22.7 421.9,23.2 420.1,23.6 418.2,24 416.4,24.3 414.6,24.7 412.7,25.1 410.9,25.5 409.1,25.9 407.2,26.4 405.4,26.8 403.6,27.2 401.7,27.6 399.9,28 398.1,28.4 396.2,28.8 394.4,29.2 392.6,29.7 390.7,30.1 388.9,30.5 387.1,30.9 385.2,31.3 383.4,31.7 381.6,32 379.7,32.4 377.9,32.8 376.1,33.1 374.2,33.5 372.4,33.8 370.6,34.2 368.7,34.6 366.9,34.9 365.1,35.5 363.2,36.3 361.4,37.2 359.9,38.5 358.4,40.3 357.2,42.3 356.2,44.1 355.4,45.9 354.7,47.9 353.9,53.5 353.4,68.2 351.9,84.5 350.5,104.5 349.8,129.4 349.8,137.3 349.8,142.6 348,145 346.2,147.1 344.5,148.1 342.7,149.1 340.9,150.1 339.2,150.5 337.4,150.7 335.6,151 333.9,151.3 332.1,151.5 330.3,151.8 328.6,152 326.8,152.3 325,152.5 323.3,152.8 321.5,153.1 319.7,153.2 318,153.4 316.2,153.6 314.4,153.8 312.7,153.9 310.9,154.1 309.1,154.2 307.4,154.4 305.6,154.5 303.8,154.7 302.1,154.8 300.3,154.9 298.5,155.1 296.8,155.2 295,155.4 293.2,155.5 291.5,155.6 291.5,155.6 293.2,155.4 295,155.1 296.8,154.8 298.6,154.5 300.4,154.2 302.2,153.9 303.9,153.6 305.7,153.4 307.5,153.1 309.3,152.8 311.1,152.5 312.9,152.2 314.7,151.9 316.4,151.5 318.2,151.1 320,150.6 321.8,150.2 323.6,149.8 325.4,149.4 327.2,149 328.9,148.6 330.7,148.2 332.5,147.8 334.3,147.4 336.1,147 337.9,146.6 339.7,146.1 341.4,145.9 343.2,145.7 345,145.5 346.8,145.3 348.6,145.1 350.4,145 352.2,144.8 353.9,144.6 355.7,144.4 357.5,144.2 359.3,144.1 361.1,143.9 362.9,143.7 364.7,143.5 366.4,143.3 368.2,142.9 370,142.5 371.8,142.1 373.3,140.8 374.8,139.3 375.7,137.3 376.6,134.7 377.2,129.4 377.5,115.7 379.5,95.3 381,74.8 381.3,53.5 381.6,45.9 382.2,43.8 383.9,42.8 385.5,41.8 387.2,40.4 388.9,39.1 390.5,38 392.2,37 393.8,36 395.5,35.1 397.1,34.1 398.8,33.4 400.5,32.6 402.1,31.9 403.8,31.1 405.4,30.4 407.1,29.6 408.7,28.9 410.4,28.4 412.1,28 413.7,27.7 415.4,27.3 417,26.9 418.7,26.5 420.4,26.1 422,25.7 423.7,25.2 425.3,24.5 427,23.8 428.6,23.1 430.3,22.5 432,21.8 433.6,21.1 435.3,20.4 436.9,19.7 438.6,19 440.2,18.3" fill="none" stroke="#ff7070" stroke-width="0.8" />
<path d="M440.2 11.7L446.6 22.7L433.9 22.7Z" fill="#ff0000" stroke="none" stroke-width="0"/>
<path d="M438.4 12.2L444.7 23.2L432.1 23.2Z" fill="#ff0000" stroke="none" stroke-width="0"/>
<path d="M436.6 12.7L442.9 23.7L430.3 23.7Z" fill="#ff0000" stroke="none" stroke-width="0"/>
<path d="M434.7 13.2L441 24.2L428.4 24.2Z" fill="#ff0000" stroke="none" stroke-width="0"/>
<path d="M432.9 13.7L439.2 24.7L426.6 24.7Z" fill="#ff0000" stroke="none" stroke-width="0"/>
<path d="M431.1 14.2L437.4 25.2L424.8 25.2Z" fill="#ff0000" stroke="none" stroke-width="0"/>
<path d="M429.2 14.6L435.5 25.6L422.9 25.6Z" fill="#ff0000" stroke="none" stroke-width="0"/>
<path d="M427.4 15.1L433.7 26.1L421.1 26.1Z" fill="#ff0000" stroke="none" stroke-width="0"/>
<path d="M425.6 15.6L431.9 26.6L419.3 26.6Z" fill="#ff0000" stroke="none" stroke-width="0"/>
<path d="M423.7 16.1L430 27.1L417.4 27.1Z" fill="#ff0000" stroke="none" stroke-width="0"/>
<path d="M421.9 16.6L428.2 27.6L415.6 27.6Z" fill="#ff0000" stroke="none" stroke-width="0"/>
<path d="M420.1 17L426.4 28L413.8 28Z" fill="#ff0000" stroke="none" stroke-width="0"/>
<path d="M418.2 17.4L424.5 28.4L411.9 28.4Z" fill="#ff0000" stroke="none" stroke-width="0"/>
<path d="M416.4 17.7L422.7 28.7L410.1 28.7Z" fill="#ff0000" stroke="none" stroke-width="0"/>
<path d="M414.6 18.1L420.9 29.1L408.3 29.1Z" fill="#ff0000" stroke="none" stroke-width="0"/>
<path d="M412.7 18.5L419 29.5L406.4 29.5Z" fill="#ff0000" stroke="none" stroke-width="0"/>
<path d="M410.9 18.9L417.2 29.9L404.6 29.9Z" fill="#ff0000" stroke="none" stroke-width="0"/>
<path d="M409.1 19.3L415.4 30.3L402.8 30.3Z" fill="#ff0000" stroke="none" stroke-width="0"/>
<path d="M407.2 19.8L413.5 30.8L400.9 30.8Z" fill="#ff0000" stroke="none" stroke-width="0"/>
<path d="M405.4 20.2L411.7 31.2L399.1 31.2Z" fill="#ff0000" stroke="none" stroke-width="0"/>
<path d="M403.6 20.6L409.9 31.6L397.3 31.6Z" fill="#ff0000" stroke="none" stroke-width="0"/>
<path d="M401.7 21L408 32L395.4 32Z" fill="#ff0000" stroke="none" stroke-width="0"/>
<path d="M399.9 21.4L406.2 32.4L393.6 32.4Z" fill="#ff0000" stroke="none" stroke-width="0"/>
<path d="M398.1 21.8L404.4 32.8L391.8 32.8Z" fill="#ff0000" stroke="none" stroke-width="0"/>
<path d="M396.2 22.2L402.5 33.2L389.9 33.2Z" fill="#ff0000" stroke="none" stroke-width="0"/>
<path d="M394.4 22.6L400.7 33.6L388.1 33.6Z" fill="#ff0000" stroke="none" stroke-width="0"/>
<path d="M392.6 23.1L398.9 34.1L386.3 34.1Z" fill="#ff0000" stroke="none" stroke-width="0"/>
<path d="M390.7 23.5L397 34.5L384.4 34.5Z" fill="#ff0000" stroke="none" stroke-width="0"/>
<path d="M388.9 23.9L395.2 34.9L382.6 34.9Z" fill="#ff0000" stroke="none" stroke-width="0"/>
<path d="M387.1 24.3L393.4 35.3L380.8 35.3Z" fill="#ff0000" stroke="none" stroke-width="0"/>
<path d="M385.2 24.7L391.5 35.7L378.9 35.7Z" fill="#ff0000" stroke="none" stroke-width="0"/>
<path d="M383.4 25.1L389.7 36.1L377.1 36.1Z" fill="#ff0000" stroke="none" stroke-width="0"/>
<path d="M381.6 25.4L387.9 36.4L375.3 36.4Z" fill="#ff0000" stroke="none" stroke-width="0"/>
<path d="M379.7 25.8L386 36.8L373.4 36.8Z" fill="#ff0000" stroke="none" stroke-width="0"/>
<path d="M377.9 26.2L384.2 37.2L371.6 37.2Z" fill="#ff0000" stroke="none" stroke-width="0"/>
<path d="M376.1 26.5L382.4 37.5L369.8 37.5Z" fill="#ff0000" stroke="none" stroke-width="0"/>
<path d="M374.2 26.9L380.5 37.9L367.9 37.9Z" fill="#ff0000" stroke="none" stroke-width="0"/>
<path d="M372.4 27.2L378.7 38.2L366.1 38.2Z" fill="#ff0000" stroke="none" stroke-width="0"/>
<path d="M370.6 27.6L376.9 38.6L364.3 38.6Z" fill="#ff0000" stroke="none" stroke-width="0"/>
<path d="M368.7 28L375 39L362.4 39Z" fill="#ff0000" stroke="none" stroke-width="0"/>
<path d="M366.9 28.3L373.2 39.3L360.6 39.3Z" fill="#ff0000" stroke="none" stroke-width="0"/>
<path d="M365.1 28.9L371.4 39.9L358.8 39.9Z" fill="#ff0000" stroke="none" stroke-width="0"/>
<path d="M363.2 29.7L369.5 40.7L356.9 40.7Z" fill="#ff0000" stroke="none" stroke-width="0"/>
<path d="M361.4 30.6L367.7 41.6L355.1 41.6Z" fill="#ff0000" stroke="none" stroke-width="0"/>
<path d="M359.9 31.9L366.2 42.9L353.6 42.9Z" fill="#ff0000" stroke="none" stroke-width="0"/>
<path d="M358.4 33.7L364.7 44.7L352.1 44.7Z" fill="#ff0000" stroke="none" stroke-width="0"/>
<path d="M357.2 35.7L363.5 46.7L350.9 46.7Z" fill="#ff0000" stroke="none" stroke-width="0"/>
<path d="M356.2 37.5L362.5 48.5L349.9 48.5Z" fill="#ff0000" stroke="none" stroke-width="0"/>
<path d="M355.4 39.3L361.7 50.3L349.1 50.3Z" fill="#ff0000" stroke="none" stroke-width="0"/>
<path d="M354.7 41.3L361 52.3L348.4 52.3Z" fill="#ff0000" stroke="none" stroke-width="0"/>
<path d="M353.9 46.9L360.2 57.9L347.6 57.9Z" fill="#ff0000" stroke="none" stroke-width="0"/>
<path d="M353.4 61.6L359.7 72.6L347.1 72.6Z" fill="#ff0000" stroke="none" stroke-width="0"/>
<path d="M351.9 77.9L358.2 88.9L345.6 88.9Z" fill="#ff0000" stroke="none" stroke-width="0"/>
<path d="M350.5 97.9L356.8 108.9L344.2 108.9Z" fill="#ff0000" stroke="none" stroke-width="0"/>
<path d="M349.8 122.8L356.1 133.8L343.5 133.8Z" fill="#ff0000" stroke="none" stroke-width="0"/>
<path d="M349.8 130.7L356.1 141.7L343.5 141.7Z" fill="#ff0000" stroke="none" stroke-width="0"/>
<path d="M349.8 136L356.1 147L343.5 147Z" fill="#ff0000" stroke="none" stroke-width="0"/>
<path d="M348 138.4L354.3 149.4L341.7 149.4Z" fill="#ff0000" stroke="none" stroke-width="0"/>
<path d="M346.2 140.5L352.5 151.5L339.9 151.5Z" fill="#ff0000" stroke="none" stroke-width="0"/>
<path d="M344.5 141.5L350.8 152.5L338.2 152.5Z" fill="#ff0000" stroke="none" stroke-width="0"/>
<path d="M342.7 142.5L349 153.5L336.4 153.5Z" fill="#ff0000" stroke="none" stroke-width="0"/>
<path d="M340.9 143.5L347.2 154.5L334.6 154.5Z" fill="#ff0000" stroke="none" stroke-width="0"/>
<path d="M339.2 143.9L345.5 154.9L332.9 154.9Z" fill="#ff0000" stroke="none" stroke-width="0"/>
<path d="M337.4 144.1L343.7 155.1L331.1 155.1Z" fill="#ff0000" stroke="none" stroke-width="0"/>
<path d="M335.6 144.4L341.9 155.4L329.3 155.4Z" fill="#ff0000" stroke="none" stroke-width="0"/>
<path d="M333.9 144.7L340.2 155.7L327.6 155.7Z" fill="#ff0000" stroke="none" stroke-width="0"/>
<path d="M332.1 144.9L338.4 155.9L325.8 155.9Z" fill="#ff0000" stroke="none" stroke-width="0"/>
<path d="M330.3 145.2L336.6 156.2L324 156.2Z" fill="#ff0000" stroke="none" stroke-width="0"/>
<path d="M328.6 145.4L334.9 156.4L322.3 156.4Z" fill="#ff0000" stroke="none" stroke-width="0"/>
<path d="M326.8 145.7L333.1 156.7L320.5 156.7Z" fill="#ff0000" stroke="none" stroke-width="0"/>
<path d="M325 145.9L331.3 156.9L318.7 156.9Z" fill="#ff0000" stroke="none" stroke-width="0"/>
<path d="M323.3 146.2L329.6 157.2L317 157.2Z" fill="#ff0000" stroke="none" stroke-width="0"/>
<path d="M321.5 146.5L327.8 157.5L315.2 157.5Z" fill="#ff0000" stroke="none" stroke-width="0"/>
<path d="M319.7 146.6L326 157.6L313.4 157.6Z" fill="#ff0000" stroke="none" stroke-width="0"/>
<path d="M318 146.8L324.3 157.8L311.7 157.8Z" fill="#ff0000" stroke="none" stroke-width="0"/>
<path d="M316.2 147L322.5 158L309.9 158Z" fill="#ff0000" stroke="none" stroke-width="0"/>
<path d="M314.4 147.2L320.7 158.2L308.1 158.2Z" fill="#ff0000" stroke="none" stroke-width="0"/>
<path d="M312.7 147.3L319 158.3L306.4 158.3Z" fill="#ff0000" stroke="none" stroke-width="0"/>
<path d="M310.9 147.5L317.2 158.5L304.6 158.5Z" fill="#ff0000" stroke="none" stroke-width="0"/>
<path d="M309.1 147.6L315.4 158.6L302.8 158.6Z" fill="#ff0000" stroke="none" stroke-width="0"/>
<path d="M307.4 147.8L313.7 158.8L301.1 158.8Z" fill="#ff0000" stroke="none" stroke-width="0"/>
<path d="M305.6 147.9L311.9 158.9L299.3 158.9Z" fill="#ff0000" stroke="none" stroke-width="0"/>
<path d="M303.8 148.1L310.1 159.1L297.5 159.1Z" fill="#ff0000" stroke="none" stroke-width="0"/>
<path d="M302.1 148.2L308.4 159.2L295.8 159.2Z" fill="#ff0000" stroke="none" stroke-width="0"/>
<path d="M300.3 148.3L306.6 159.3L294 159.3Z" fill="#ff0000" stroke="none" stroke-width="0"/>
<path d="M298.5 148.5L304.8 159.5L292.2 159.5Z" fill="#ff0000" stroke="none" stroke-width="0"/>
<path d="M296.8 148.6L303.1 159.6L290.5 159.6Z" fill="#ff0000" stroke="none" stroke-width="0"/>
<path d="M295 148.8L301.3 159.8L288.7 159.8Z" fill="#ff0000" stroke="none" stroke-width="0"/>
<path d="M293.2 148.9L299.5 159.9L286.9 159.9Z" fill="#ff0000" stroke="none" stroke-width="0"/>
<path d="M291.5 149L297.8 160L285.2 160Z" fill="#ff0000" stroke="none" stroke-width="0"/>
<path d="M291.5 149L297.8 160L285.2 160Z" fill="#ff0000" stroke="none" stroke-width="0"/>
<path d="M293.2 148.8L299.5 159.8L286.9 159.8Z" fill="#ff0000" stroke="none" stroke-width="0"/>
<path d="M295 148.5L301.3 159.5L288.7 159.5Z" fill="#ff0000" stroke="none" stroke-width="0"/>
<path d="M296.8 148.2L303.1 159.2L290.5 159.2Z" fill="#ff0000" stroke="none" stroke-width="0"/>
<path d="M298.6 147.9L304.9 158.9L292.3 158.9Z" fill="#ff0000" stroke="none" stroke-width="0"/>
<path d="M300.4 147.6L306.7 158.6L294.1 158.6Z" fill="#ff0000" stroke="none" stroke-width="0"/>
<path d="M302.2 147.3L308.5 158.3L295.9 158.3Z" fill="#ff0000" stroke="none" stroke-width="0"/>
<path d="M303.9 147L310.2 158L297.6 158Z" fill="#ff0000" stroke="none" stroke-width="0"/>
<path d="M305.7 146.8L312 157.8L299.4 157.8Z" fill="#ff0000" stroke="none" stroke-width="0"/>
<path d="M307.5 146.5L313.8 157.5L301.2 157.5Z" fill="#ff0000" stroke="none" stroke-width="0"/>
<path d="M309.3 146.2L315.6 157.2L303 157.2Z" fill="#ff0000" stroke="none" stroke-width="0"/>
<path d="M311.1 145.9L317.4 156.9L304.8 156.9Z" fill="#ff0000" stroke="none" stroke-width="0"/>
<path d="M312.9 145.6L319.2 156.6L306.6 156.6Z" fill="#ff0000" stroke="none" stroke-width="0"/>
<path d="M314.7 145.3L321 156.3L308.4 156.3Z" fill="#ff0000" stroke="none" stroke-width="0"/>
<path d="M316.4 144.9L322.7 155.9L310.1 155.9Z" fill="#ff0000" stroke="none" stroke-width="0"/>
<path d="M318.2 144.5L324.5 155.5L311.9 155.5Z" fill="#ff0000" stroke="none" stroke-width="0"/>
<path d="M320 144L326.3 155L313.7 155Z" fill="#ff0000" stroke="none" stroke-width="0"/>
<path d="M321.8 143.6L328.1 154.6L315.5 154.6Z" fill="#ff0000" stroke="none" stroke-width="0"/>
<path d="M323.6 143.2L329.9 154.2L317.3 154.2Z" fill="#ff0000" stroke="none" stroke-width="0"/>
<path d="M325.4 142.8L331.7 153.8L319.1 153.8Z" fill="#ff0000" stroke="none" stroke-width="0"/>
<path d="M327.2 142.4L333.5 153.4L320.9 153.4Z" fill="#ff0000" stroke="none" stroke-width="0"/>
<path d="M328.9 142L335.2 153L322.6 153Z" fill="#ff0000" stroke="none" stroke-width="0"/>
<path d="M330.7 141.6L337 152.6L324.4 152.6Z" fill="#ff0000" stroke="none" stroke-width="0"/>
<path d="M332.5 141.2L338.8 152.2L326.2 152.2Z" fill="#ff0000" stroke="none" stroke-width="0"/>
<path d="M334.3 140.8L340.6 151.8L328 151.8Z" fill="#ff0000" stroke="none" stroke-width="0"/>
<path d="M336.1 140.4L342.4 151.4L329.8 151.4Z" fill="#ff0000" stroke="none" stroke-width="0"/>
<path d="M337.9 140L344.2 151L331.6 151Z" fill="#ff0000" stroke="none" stroke-width="0"/>
<path d="M339.7 139.5L346 150.5L333.4 150.5Z" fill="#ff0000" stroke="none" stroke-width="0"/>
<path d="M341.4 139.3L347.7 150.3L335.1 150.3Z" fill="#ff0000" stroke="none" stroke-width="0"/>
<path d="M343.2 139.1L349.5 150.1L336.9 150.1Z" fill="#ff0000" stroke="none" stroke-width="0"/>
<path d="M345 138.9L351.3 149.9L338.7 149.9Z" fill="#ff0000" stroke="none" stroke-width="0"/>
<path d="M346.8 138.7L353.1 149.7L340.5 149.7Z" fill="#ff0000" stroke="none" stroke-width="0"/>
<path d="M348.6 138.5L354.9 149.5L342.3 149.5Z" fill="#ff0000" stroke="none" stroke-width="0"/>
<path d="M350.4 138.4L356.7 149.4L344.1 149.4Z" fill="#ff0000" stroke="none" stroke-width="0"/>
<path d="M352.2 138.2L358.5 149.2L345.9 149.2Z" fill="#ff0000" stroke="none" stroke-width="0"/>
<path d="M353.9 138L360.2 149L347.6 149Z" fill="#ff0000" stroke="none" stroke-width="0"/>
<path d="M355.7 137.8L362 148.8L349.4 148.8Z" fill="#ff0000" stroke="none" stroke-width="0"/>
<path d="M357.5 137.6L363.8 148.6L351.2 148.6Z" fill="#ff0000" stroke="none" stroke-width="0"/>
<path d="M359.3 137.5L365.6 148.5L353 148.5Z" fill="#ff0000" stroke="none" stroke-width="0"/>
<path d="M361.1 137.3L367.4 148.3L354.8 148.3Z" fill="#ff0000" stroke="none" stroke-width="0"/>
<path d="M362.9 137.1L369.2 148.1L356.6 148.1Z" fill="#ff0000" stroke="none" stroke-width="0"/>
<path d="M364.7 136.9L371 147.9L358.4 147.9Z" fill="#ff0000" stroke="none" stroke-width="0"/>
<path d="M366.4 136.7L372.7 147.7L360.1 147.7Z" fill="#ff0000" stroke="none" stroke-width="0"/>
<path d="M368.2 136.3L374.5 147.3L361.9 147.3Z" fill="#ff0000" stroke="none" stroke-width="0"/>
<path d="M370 135.9L376.3 146.9L363.7 146.9Z" fill="#ff0000" stroke="none" stroke-width="0"/>
<path d="M371.8 135.5L378.1 146.5L365.5 146.5Z" fill="#ff0000" stroke="none" stroke-width="0"/>
<path d="M373.3 134.2L379.6 145.2L367 145.2Z" fill="#ff0000" stroke="none" stroke-width="0"/>
<path d="M374.8 132.7L381.1 143.7L368.5 143.7Z" fill="#ff0000" stroke="none" stroke-width="0"/>
<path d="M375.7 130.7L382 141.7L369.4 141.7Z" fill="#ff0000" stroke="none" stroke-width="0"/>
<path d="M376.6 128.1L382.9 139.1L370.3 139.1Z" fill="#ff0000" stroke="none" stroke-width="0"/>
<path d="M377.2 122.8L383.5 133.8L370.9 133.8Z" fill="#ff0000" stroke="none" stroke-width="0"/>
<path d="M377.5 109.1L383.8 120.1L371.2 120.1Z" fill="#ff0000" stroke="none" stroke-width="0"/>
<path d="M379.5 88.7L385.8 99.7L373.2 99.7Z" fill="#ff0000" stroke="none" stroke-width="0"/>
<path d="M381 68.2L387.3 79.2L374.7 79.2Z" fill="#ff0000" stroke="none" stroke-width="0"/>
<path d="M381.3 46.9L387.6 57.9L375 57.9Z" fill="#ff0000" stroke="none" stroke-width="0"/>
<path d="M381.6 39.3L387.9 50.3L375.3 50.3Z" fill="#ff0000" stroke="none" stroke-width="0"/>
<path d="M382.2 37.2L388.5 48.2L375.9 48.2Z" fill="#ff0000" stroke="none" stroke-width="0"/>
<path d="M383.9 36.2L390.2 47.2L377.6 47.2Z" fill="#ff0000" stroke="none" stroke-width="0"/>
<path d="M385.5 35.2L391.8 46.2L379.2 46.2Z" fill="#ff0000" stroke="none" stroke-width="0"/>
<path d="M387.2 33.8L393.5 44.8L380.9 44.8Z" fill="#ff0000" stroke="none" stroke-width="0"/>
<path d="M388.9 32.5L395.2 43.5L382.6 43.5Z" fill="#ff0000" stroke="none" stroke-width="0"/>
<path d="M390.5 31.4L396.8 42.4L384.2 42.4Z" fill="#ff0000" stroke="none" stroke-width="0"/>
<path d="M392.2 30.4L398.5 41.4L385.9 41.4Z" fill="#ff0000" stroke="none" stroke-width="0"/>
<path d="M393.8 29.4L400.1 40.4L387.5 40.4Z" fill="#ff0000" stroke="none" stroke-width="0"/>
<path d="M395.5 28.5L401.8 39.5L389.2 39.5Z" fill="#ff0000" stroke="none" stroke-width="0"/>
<path d="M397.1 27.5L403.4 38.5L390.8 38.5Z" fill="#ff0000" stroke="none" stroke-width="0"/>
<path d="M398.8 26.8L405.1 37.8L392.5 37.8Z" fill="#ff0000" stroke="none" stroke-width="0"/>
<path d="M400.5 26L406.8 37L394.2 37Z" fill="#ff0000" stroke="none" stroke-width="0"/>
<path d="M402.1 25.3L408.4 36.3L395.8 36.3Z" fill="#ff0000" stroke="none" stroke-width="0"/>
<path d="M403.8 24.5L410.1 35.5L397.5 35.5Z" fill="#ff0000" stroke="none" stroke-width="0"/>
<path d="M405.4 23.8L411.7 34.8L399.1 34.8Z" fill="#ff0000" stroke="none" stroke-width="0"/>
<path d="M407.1 23L413.4 34L400.8 34Z" fill="#ff0000" stroke="none" stroke-width="0"/>
<path d="M408.7 22.3L415 33.3L402.4 33.3Z" fill="#ff0000" stroke="none" stroke-width="0"/>
<path d="M410.4 21.8L416.7 32.8L404.1 32.8Z" fill="#ff0000" stroke="none" stroke-width="0"/>
<path d="M412.1 21.4L418.4 32.4L405.8 32.4Z" fill="#ff0000" stroke="none" stroke-width="0"/>
<path d="M413.7 21.1L420 32.1L407.4 32.1Z" fill="#ff0000" stroke="none" stroke-width="0"/>
<path d="M415.4 20.7L421.7 31.7L409.1 31.7Z" fill="#ff0000" stroke="none" stroke-width="0"/>
<path d="M417 20.3L423.3 31.3L410.7 31.3Z" fill="#ff0000" stroke="none" stroke-width="0"/>
<path d="M418.7 19.9L425 30.9L412.4 30.9Z" fill="#ff0000" stroke="none" stroke-width="0"/>
<path d="M420.4 19.5L426.7 30.5L414.1 30.5Z" fill="#ff0000" stroke="none" stroke-width="0"/>
<path d="M422 19.1L428.3 30.1L415.7 30.1Z" fill="#ff0000" stroke="none" stroke-width="0"/>
<path d="M423.7 18.6L430 29.6L417.4 29.6Z" fill="#ff0000" stroke="none" stroke-width="0"/>
<path d="M425.3 17.9L431.6 28.9L419 28.9Z" fill="#ff0000" stroke="none" stroke-width="0"/>
<path d="M427 17.2L433.3 28.2L420.7 28.2Z" fill="#ff0000" stroke="none" stroke-width="0"/>
<path d="M428.6 16.5L434.9 27.5L422.3 27.5Z" fill="#ff0000" stroke="none" stroke-width="0"/>
<path d="M430.3 15.9L436.6 26.9L424 26.9Z" fill="#ff0000" stroke="none" stroke-width="0"/>
<path d="M432 15.2L438.3 26.2L425.7 26.2Z" fill="#ff0000" stroke="none" stroke-width="0"/>
<path d="M433.6 14.5L439.9 25.5L427.3 25.5Z" fill="#ff0000" stroke="none" stroke-width="0"/>
<path d="M435.3 13.8L441.6 24.8L429 24.8Z" fill="#ff0000" stroke="none" stroke-width="0"/>
<path d="M436.9 13.1L443.2 24.1L430.6 24.1Z" fill="#ff0000" stroke="none" stroke-width="0"/>
<path d="M438.6 12.4L444.9 23.4L432.3 23.4Z" fill="#ff0000" stroke="none" stroke-width="0"/>
<path d="M440.2 11.7L446.6 22.7L433.9 22.7Z" fill="#ff0000" stroke="none" stroke-width="0"/>
<polyline points="291.5,82.6 296.1,82.2 300.8,81.7 305.5,81.3 310.2,80.9 314.9,80.4 319.6,80 324.3,79.5 329,79.1 333.7,78.6 338.4,78.2 343.1,77.8 347.8,77.3 352.5,76.9 359.2,77.3 359.5,77.8 359.8,78.5 360.1,79.2 360.4,79.9 360.7,80.7 361,81.4 361.4,82.2 361.7,83 362,83.8 362.3,84.5 362.6,85.4 362.9,86.2 363.3,87 363.6,87.8 363.9,88.6 364.2,89.5 364.5,90.3 364.8,91.2 365.2,92 365.5,92.9 365.8,93.7 366.1,94.6 366.4,95.5 366.7,96.3 367,97.2 367.4,98.1 367.7,99 368,99.9 368.3,100.7 368.6,101.6 368.9,102.5 369.3,103.4 369.6,104.3 377,105.1 382.3,104.3 387.6,103.5 392.8,102.7 398.1,101.9 403.4,101.1 408.6,100.3 413.9,99.5 419.2,98.7 424.4,97.9 429.7,97.1 435,96.3 440.2,95.5" fill="none" stroke="#000" stroke-width="1.0" />
<path d="M291.5 76.9L296.7 86.4L286.2 86.4Z" fill="#fff" stroke="#000" stroke-width="1.7"/>
<path d="M296.1 76.5L301.4 86L290.9 86Z" fill="#fff" stroke="#000" stroke-width="1.7"/>
<path d="M300.8 76L306.1 85.5L295.6 85.5Z" fill="#fff" stroke="#000" stroke-width="1.7"/>
<path d="M305.5 75.6L310.8 85.1L300.3 85.1Z" fill="#fff" stroke="#000" stroke-width="1.7"/>
<path d="M310.2 75.2L315.5 84.7L305 84.7Z" fill="#fff" stroke="#000" stroke-width="1.7"/>
<path d="M314.9 74.7L320.2 84.2L309.7 84.2Z" fill="#fff" stroke="#000" stroke-width="1.7"/>
<path d="M319.6 74.3L324.9 83.8L314.4 83.8Z" fill="#fff" stroke="#000" stroke-width="1.7"/>
<path d="M324.3 73.8L329.6 83.3L319.1 83.3Z" fill="#fff" stroke="#000" stroke-width="1.7"/>
<path d="M329 73.4L334.2 82.9L323.7 82.9Z" fill="#fff" stroke="#000" stroke-width="1.7"/>
<path d="M333.7 72.9L338.9 82.4L328.4 82.4Z" fill="#fff" stroke="#000" stroke-width="1.7"/>
<path d="M338.4 72.5L343.6 82L333.1 82Z" fill="#fff" stroke="#000" stroke-width="1.7"/>
<path d="M343.1 72.1L348.3 81.6L337.8 81.6Z" fill="#fff" stroke="#000" stroke-width="1.7"/>
<path d="M347.8 71.6L353 81.1L342.5 81.1Z" fill="#fff" stroke="#000" stroke-width="1.7"/>
<path d="M352.5 71.2L357.7 80.7L347.2 80.7Z" fill="#fff" stroke="#000" stroke-width="1.7"/>
<path d="M359.2 71.9L363.9 80.9L354.4 80.9Z" fill="#000" stroke="#000" stroke-width="1.7"/>
<path d="M359.5 72.4L364.2 81.4L354.7 81.4Z" fill="#000" stroke="#000" stroke-width="1.7"/>
<path d="M359.8 73.1L364.5 82.1L355 82.1Z" fill="#000" stroke="#000" stroke-width="1.7"/>
<path d="M360.1 73.8L364.9 82.8L355.4 82.8Z" fill="#000" stroke="#000" stroke-width="1.7"/>
<path d="M360.4 74.5L365.2 83.5L355.7 83.5Z" fill="#000" stroke="#000" stroke-width="1.7"/>
<path d="M360.7 75.3L365.5 84.3L356 84.3Z" fill="#000" stroke="#000" stroke-width="1.7"/>
<path d="M361 76L365.8 85L356.3 85Z" fill="#000" stroke="#000" stroke-width="1.7"/>
<path d="M361.4 76.8L366.1 85.8L356.6 85.8Z" fill="#000" stroke="#000" stroke-width="1.7"/>
<path d="M361.7 77.6L366.4 86.6L356.9 86.6Z" fill="#000" stroke="#000" stroke-width="1.7"/>
<path d="M362 78.4L366.7 87.4L357.2 87.4Z" fill="#000" stroke="#000" stroke-width="1.7"/>
<path d="M362.3 79.1L367.1 88.1L357.6 88.1Z" fill="#000" stroke="#000" stroke-width="1.7"/>
<path d="M362.6 80L367.4 89L357.9 89Z" fill="#000" stroke="#000" stroke-width="1.7"/>
<path d="M362.9 80.8L367.7 89.8L358.2 89.8Z" fill="#000" stroke="#000" stroke-width="1.7"/>
<path d="M363.3 81.6L368 90.6L358.5 90.6Z" fill="#000" stroke="#000" stroke-width="1.7"/>
<path d="M363.6 82.4L368.3 91.4L358.8 91.4Z" fill="#000" stroke="#000" stroke-width="1.7"/>
<path d="M363.9 83.2L368.6 92.2L359.1 92.2Z" fill="#000" stroke="#000" stroke-width="1.7"/>
<path d="M364.2 84.1L369 93.1L359.5 93.1Z" fill="#000" stroke="#000" stroke-width="1.7"/>
<path d="M364.5 84.9L369.3 93.9L359.8 93.9Z" fill="#000" stroke="#000" stroke-width="1.7"/>
<path d="M364.8 85.8L369.6 94.8L360.1 94.8Z" fill="#000" stroke="#000" stroke-width="1.7"/>
<path d="M365.2 86.6L369.9 95.6L360.4 95.6Z" fill="#000" stroke="#000" stroke-width="1.7"/>
<path d="M365.5 87.5L370.2 96.5L360.7 96.5Z" fill="#000" stroke="#000" stroke-width="1.7"/>
<path d="M365.8 88.3L370.5 97.3L361 97.3Z" fill="#000" stroke="#000" stroke-width="1.7"/>
<path d="M366.1 89.2L370.8 98.2L361.3 98.2Z" fill="#000" stroke="#000" stroke-width="1.7"/>
<path d="M366.4 90.1L371.2 99.1L361.7 99.1Z" fill="#000" stroke="#000" stroke-width="1.7"/>
<path d="M366.7 90.9L371.5 99.9L362 99.9Z" fill="#000" stroke="#000" stroke-width="1.7"/>
<path d="M367 91.8L371.8 100.8L362.3 100.8Z" fill="#000" stroke="#000" stroke-width="1.7"/>
<path d="M367.4 92.7L372.1 101.7L362.6 101.7Z" fill="#000" stroke="#000" stroke-width="1.7"/>
<path d="M367.7 93.6L372.4 102.6L362.9 102.6Z" fill="#000" stroke="#000" stroke-width="1.7"/>
<path d="M368 94.5L372.7 103.5L363.2 103.5Z" fill="#000" stroke="#000" stroke-width="1.7"/>
<path d="M368.3 95.3L373.1 104.3L363.6 104.3Z" fill="#000" stroke="#000" stroke-width="1.7"/>
<path d="M368.6 96.2L373.4 105.2L363.9 105.2Z" fill="#000" stroke="#000" stroke-width="1.7"/>
<path d="M368.9 97.1L373.7 106.1L364.2 106.1Z" fill="#000" stroke="#000" stroke-width="1.7"/>
<path d="M369.3 98L374 107L364.5 107Z" fill="#000" stroke="#000" stroke-width="1.7"/>
<path d="M369.6 98.9L374.3 107.9L364.8 107.9Z" fill="#000" stroke="#000" stroke-width="1.7"/>
<path d="M371.8 97.4L377.1 106.9L366.6 106.9Z" fill="#fff" stroke="#000" stroke-width="1.7"/>
<path d="M377 99.4L382.3 108.9L371.8 108.9Z" fill="#fff" stroke="#000" stroke-width="1.7"/>
<path d="M382.3 98.6L387.5 108.1L377 108.1Z" fill="#fff" stroke="#000" stroke-width="1.7"/>
<path d="M387.6 97.8L392.8 107.3L382.3 107.3Z" fill="#fff" stroke="#000" stroke-width="1.7"/>
<path d="M392.8 97L398.1 106.5L387.6 106.5Z" fill="#fff" stroke="#000" stroke-width="1.7"/>
<path d="M398.1 96.2L403.3 105.7L392.8 105.7Z" fill="#fff" stroke="#000" stroke-width="1.7"/>
<path d="M403.4 95.4L408.6 104.9L398.1 104.9Z" fill="#fff" stroke="#000" stroke-width="1.7"/>
<path d="M408.6 94.6L413.9 104.1L403.4 104.1Z" fill="#fff" stroke="#000" stroke-width="1.7"/>
<path d="M413.9 93.8L419.2 103.3L408.7 103.3Z" fill="#fff" stroke="#000" stroke-width="1.7"/>
<path d="M419.2 93L424.4 102.5L413.9 102.5Z" fill="#fff" stroke="#000" stroke-width="1.7"/>
<path d="M424.4 92.2L429.7 101.7L419.2 101.7Z" fill="#fff" stroke="#000" stroke-width="1.7"/>
<path d="M429.7 91.4L435 100.9L424.5 100.9Z" fill="#fff" stroke="#000" stroke-width="1.7"/>
<path d="M435 90.6L440.2 100.1L429.7 100.1Z" fill="#fff" stroke="#000" stroke-width="1.7"/>
<path d="M440.2 89.8L445.5 99.3L435 99.3Z" fill="#fff" stroke="#000" stroke-width="1.7"/>
<text x="293.5" y="31.5" font-size="27" text-anchor="start" fill="#000" font-family='"Liberation Sans", sans-serif' >b</text>
<text x="387" y="74.5" font-size="19" font-family='"Liberation Sans", sans-serif' fill="#111"><tspan font-style="italic">x</tspan> = 0.3</text>
<path d="M384 130H418.4" stroke="#ff6060" stroke-width="1"/>
<path d="M401.2 122.3L407.9 134.3L394.4 134.3Z" fill="#ff0000" stroke="none" stroke-width="0"/>
<path d="M384 155H418.4" stroke="#888" stroke-width="1"/>
<path d="M401.2 148.2L406.9 158.7L395.4 158.7Z" fill="#fff" stroke="#000" stroke-width="1.7"/>
<text x="423" y="135.2" font-size="12.5" fill="#222" font-family='"Liberation Sans", sans-serif'>ρ<tspan font-size="11.5" dy="3">yx</tspan></text>
<text x="423" y="160.2" font-size="12.5" fill="#222" font-family='"Liberation Sans", sans-serif'>ρ<tspan font-size="11.5" dy="3">zx</tspan></text></g>
<g id="panel-c"><rect x="503" y="4" width="176.5" height="173.1" fill="#fff" stroke="#000" stroke-width="1.25"/>
<path d="M503 92.4H679.5 M591.2 4V177.1" stroke="#000" stroke-width="1.3" fill="none"/>
<path d="M517.7 4v3.5 M517.7 177.1v-3.5 M532.4 4v6 M532.4 177.1v-6 M547.1 4v3.5 M547.1 177.1v-3.5 M561.8 4v6 M561.8 177.1v-6 M576.5 4v3.5 M576.5 177.1v-3.5 M591.2 4v6 M591.2 177.1v-6 M606 4v3.5 M606 177.1v-3.5 M620.7 4v6 M620.7 177.1v-6 M635.4 4v3.5 M635.4 177.1v-3.5 M650.1 4v6 M650.1 177.1v-6 M664.8 4v3.5 M664.8 177.1v-3.5 M503 9.6h6.5 M679.5 9.6h-6.5 M503 37.2h6.5 M679.5 37.2h-6.5 M503 64.8h6.5 M679.5 64.8h-6.5 M503 92.4h6.5 M679.5 92.4h-6.5 M503 120h6.5 M679.5 120h-6.5 M503 147.6h6.5 M679.5 147.6h-6.5 M503 175.2h6.5 M679.5 175.2h-6.5 M503 23.4h3.5 M679.5 23.4h-3.5 M503 51h3.5 M679.5 51h-3.5 M503 78.6h3.5 M679.5 78.6h-3.5 M503 106.2h3.5 M679.5 106.2h-3.5 M503 133.8h3.5 M679.5 133.8h-3.5 M503 161.4h3.5 M679.5 161.4h-3.5" stroke="#000" stroke-width="1.3" fill="none"/>
<text x="494.5" y="15.3" font-size="16" text-anchor="end" fill="#000" font-family='"Liberation Sans", sans-serif' >45</text>
<text x="494.5" y="42.9" font-size="16" text-anchor="end" fill="#000" font-family='"Liberation Sans", sans-serif' >30</text>
<text x="494.5" y="70.5" font-size="16" text-anchor="end" fill="#000" font-family='"Liberation Sans", sans-serif' >15</text>
<text x="494.5" y="98.1" font-size="16" text-anchor="end" fill="#000" font-family='"Liberation Sans", sans-serif' >0</text>
<text x="494.5" y="125.7" font-size="16" text-anchor="end" fill="#000" font-family='"Liberation Sans", sans-serif' >-15</text>
<text x="494.5" y="153.3" font-size="16" text-anchor="end" fill="#000" font-family='"Liberation Sans", sans-serif' >-30</text>
<text x="494.5" y="180.9" font-size="16" text-anchor="end" fill="#000" font-family='"Liberation Sans", sans-serif' >-45</text>
<text x="502.2" y="198.8" font-size="16" text-anchor="middle" fill="#000" font-family='"Liberation Sans", sans-serif' >-6</text>
<text x="531.6" y="198.8" font-size="16" text-anchor="middle" fill="#000" font-family='"Liberation Sans", sans-serif' >-4</text>
<text x="561" y="198.8" font-size="16" text-anchor="middle" fill="#000" font-family='"Liberation Sans", sans-serif' >-2</text>
<text x="591.2" y="198.8" font-size="16" text-anchor="middle" fill="#000" font-family='"Liberation Sans", sans-serif' >0</text>
<text x="620.7" y="198.8" font-size="16" text-anchor="middle" fill="#000" font-family='"Liberation Sans", sans-serif' >2</text>
<text x="650.1" y="198.8" font-size="16" text-anchor="middle" fill="#000" font-family='"Liberation Sans", sans-serif' >4</text>
<text x="679.5" y="198.8" font-size="16" text-anchor="middle" fill="#000" font-family='"Liberation Sans", sans-serif' >6</text>
<text x="595.5" y="220.8" font-size="19.7" text-anchor="middle" font-family='"Liberation Sans", sans-serif'><tspan font-style="italic">μ</tspan><tspan font-size="14" dy="4.5">0</tspan><tspan font-style="italic" dy="-4.5">H</tspan> (T)</text>
<path d="M666.3 18.1L672.4 24.2L666.3 30.3L660.2 24.2Z" fill="#008000" stroke="none" stroke-width="0" stroke-linejoin="miter"/>
<path d="M664.5 18.3L670.6 24.4L664.5 30.5L658.4 24.4Z" fill="#008000" stroke="none" stroke-width="0" stroke-linejoin="miter"/>
<path d="M662.8 18.5L668.9 24.6L662.8 30.7L656.7 24.6Z" fill="#008000" stroke="none" stroke-width="0" stroke-linejoin="miter"/>
<path d="M661 18.6L667.1 24.7L661 30.8L654.9 24.7Z" fill="#008000" stroke="none" stroke-width="0" stroke-linejoin="miter"/>
<path d="M659.3 18.8L665.4 24.9L659.3 31L653.2 24.9Z" fill="#008000" stroke="none" stroke-width="0" stroke-linejoin="miter"/>
<path d="M657.5 19L663.6 25.1L657.5 31.2L651.4 25.1Z" fill="#008000" stroke="none" stroke-width="0" stroke-linejoin="miter"/>
<path d="M655.8 19.2L661.9 25.3L655.8 31.4L649.7 25.3Z" fill="#008000" stroke="none" stroke-width="0" stroke-linejoin="miter"/>
<path d="M654.1 19.3L660.2 25.4L654.1 31.5L648 25.4Z" fill="#008000" stroke="none" stroke-width="0" stroke-linejoin="miter"/>
<path d="M652.3 19.5L658.4 25.6L652.3 31.7L646.2 25.6Z" fill="#008000" stroke="none" stroke-width="0" stroke-linejoin="miter"/>
<path d="M650.6 19.7L656.7 25.8L650.6 31.9L644.5 25.8Z" fill="#008000" stroke="none" stroke-width="0" stroke-linejoin="miter"/>
<path d="M648.8 19.8L654.9 25.9L648.8 32L642.7 25.9Z" fill="#008000" stroke="none" stroke-width="0" stroke-linejoin="miter"/>
<path d="M647.1 20L653.2 26.1L647.1 32.2L641 26.1Z" fill="#008000" stroke="none" stroke-width="0" stroke-linejoin="miter"/>
<path d="M645.3 20.2L651.4 26.3L645.3 32.4L639.2 26.3Z" fill="#008000" stroke="none" stroke-width="0" stroke-linejoin="miter"/>
<path d="M643.6 20.4L649.7 26.5L643.6 32.6L637.5 26.5Z" fill="#008000" stroke="none" stroke-width="0" stroke-linejoin="miter"/>
<path d="M641.8 20.5L647.9 26.6L641.8 32.7L635.7 26.6Z" fill="#008000" stroke="none" stroke-width="0" stroke-linejoin="miter"/>
<path d="M640.1 20.7L646.2 26.8L640.1 32.9L634 26.8Z" fill="#008000" stroke="none" stroke-width="0" stroke-linejoin="miter"/>
<path d="M638.3 20.9L644.4 27L638.3 33.1L632.2 27Z" fill="#008000" stroke="none" stroke-width="0" stroke-linejoin="miter"/>
<path d="M636.6 21L642.7 27.1L636.6 33.2L630.5 27.1Z" fill="#008000" stroke="none" stroke-width="0" stroke-linejoin="miter"/>
<path d="M634.9 21.2L641 27.3L634.9 33.4L628.8 27.3Z" fill="#008000" stroke="none" stroke-width="0" stroke-linejoin="miter"/>
<path d="M633.1 21.4L639.2 27.5L633.1 33.6L627 27.5Z" fill="#008000" stroke="none" stroke-width="0" stroke-linejoin="miter"/>
<path d="M631.4 21.6L637.5 27.7L631.4 33.8L625.3 27.7Z" fill="#008000" stroke="none" stroke-width="0" stroke-linejoin="miter"/>
<path d="M629.6 21.7L635.7 27.8L629.6 33.9L623.5 27.8Z" fill="#008000" stroke="none" stroke-width="0" stroke-linejoin="miter"/>
<path d="M627.9 21.9L634 28L627.9 34.1L621.8 28Z" fill="#008000" stroke="none" stroke-width="0" stroke-linejoin="miter"/>
<path d="M626.1 22.1L632.2 28.2L626.1 34.3L620 28.2Z" fill="#008000" stroke="none" stroke-width="0" stroke-linejoin="miter"/>
<path d="M624.4 22.2L630.5 28.3L624.4 34.4L618.3 28.3Z" fill="#008000" stroke="none" stroke-width="0" stroke-linejoin="miter"/>
<path d="M622.6 22.4L628.7 28.5L622.6 34.6L616.5 28.5Z" fill="#008000" stroke="none" stroke-width="0" stroke-linejoin="miter"/>
<path d="M620.9 22.6L627 28.7L620.9 34.8L614.8 28.7Z" fill="#008000" stroke="none" stroke-width="0" stroke-linejoin="miter"/>
<path d="M619.1 22.8L625.2 28.9L619.1 35L613 28.9Z" fill="#008000" stroke="none" stroke-width="0" stroke-linejoin="miter"/>
<path d="M617.4 22.9L623.5 29L617.4 35.1L611.3 29Z" fill="#008000" stroke="none" stroke-width="0" stroke-linejoin="miter"/>
<path d="M615.7 23.1L621.8 29.2L615.7 35.3L609.6 29.2Z" fill="#008000" stroke="none" stroke-width="0" stroke-linejoin="miter"/>
<path d="M613.9 23.3L620 29.4L613.9 35.5L607.8 29.4Z" fill="#008000" stroke="none" stroke-width="0" stroke-linejoin="miter"/>
<path d="M612.2 23.4L618.3 29.5L612.2 35.6L606.1 29.5Z" fill="#008000" stroke="none" stroke-width="0" stroke-linejoin="miter"/>
<path d="M610.4 23.6L616.5 29.7L610.4 35.8L604.3 29.7Z" fill="#008000" stroke="none" stroke-width="0" stroke-linejoin="miter"/>
<path d="M608.7 23.8L614.8 29.9L608.7 36L602.6 29.9Z" fill="#008000" stroke="none" stroke-width="0" stroke-linejoin="miter"/>
<path d="M606.9 23.9L613 30L606.9 36.1L600.8 30Z" fill="#008000" stroke="none" stroke-width="0" stroke-linejoin="miter"/>
<path d="M605.2 24.1L611.3 30.2L605.2 36.3L599.1 30.2Z" fill="#008000" stroke="none" stroke-width="0" stroke-linejoin="miter"/>
<path d="M603.4 24.3L609.5 30.4L603.4 36.5L597.3 30.4Z" fill="#008000" stroke="none" stroke-width="0" stroke-linejoin="miter"/>
<path d="M601.7 24.5L607.8 30.6L601.7 36.7L595.6 30.6Z" fill="#008000" stroke="none" stroke-width="0" stroke-linejoin="miter"/>
<path d="M600 24.6L606.1 30.7L600 36.8L593.9 30.7Z" fill="#008000" stroke="none" stroke-width="0" stroke-linejoin="miter"/>
<path d="M598.2 24.8L604.3 30.9L598.2 37L592.1 30.9Z" fill="#008000" stroke="none" stroke-width="0" stroke-linejoin="miter"/>
<path d="M596.5 25L602.6 31.1L596.5 37.2L590.4 31.1Z" fill="#008000" stroke="none" stroke-width="0" stroke-linejoin="miter"/>
<path d="M594.7 25.1L600.8 31.2L594.7 37.3L588.6 31.2Z" fill="#008000" stroke="none" stroke-width="0" stroke-linejoin="miter"/>
<path d="M593 25.3L599.1 31.4L593 37.5L586.9 31.4Z" fill="#008000" stroke="none" stroke-width="0" stroke-linejoin="miter"/>
<path d="M591.2 25.5L597.3 31.6L591.2 37.7L585.1 31.6Z" fill="#008000" stroke="none" stroke-width="0" stroke-linejoin="miter"/>
<path d="M589.5 25.7L595.6 31.8L589.5 37.9L583.4 31.8Z" fill="#008000" stroke="none" stroke-width="0" stroke-linejoin="miter"/>
<path d="M587.7 25.8L593.8 31.9L587.7 38L581.6 31.9Z" fill="#008000" stroke="none" stroke-width="0" stroke-linejoin="miter"/>
<path d="M586 26L592.1 32.1L586 38.2L579.9 32.1Z" fill="#008000" stroke="none" stroke-width="0" stroke-linejoin="miter"/>
<path d="M584.2 26.2L590.3 32.3L584.2 38.4L578.1 32.3Z" fill="#008000" stroke="none" stroke-width="0" stroke-linejoin="miter"/>
<path d="M582.5 26.4L588.6 32.5L582.5 38.6L576.4 32.5Z" fill="#008000" stroke="none" stroke-width="0" stroke-linejoin="miter"/>
<path d="M580.8 26.5L586.9 32.6L580.8 38.7L574.7 32.6Z" fill="#008000" stroke="none" stroke-width="0" stroke-linejoin="miter"/>
<path d="M579 26.7L585.1 32.8L579 38.9L572.9 32.8Z" fill="#008000" stroke="none" stroke-width="0" stroke-linejoin="miter"/>
<path d="M577.3 26.9L583.4 33L577.3 39.1L571.2 33Z" fill="#008000" stroke="none" stroke-width="0" stroke-linejoin="miter"/>
<path d="M575.5 27L581.6 33.1L575.5 39.2L569.4 33.1Z" fill="#008000" stroke="none" stroke-width="0" stroke-linejoin="miter"/>
<path d="M573.8 27.2L579.9 33.3L573.8 39.4L567.7 33.3Z" fill="#008000" stroke="none" stroke-width="0" stroke-linejoin="miter"/>
<path d="M572 27.4L578.1 33.5L572 39.6L565.9 33.5Z" fill="#008000" stroke="none" stroke-width="0" stroke-linejoin="miter"/>
<path d="M570.3 27.6L576.4 33.7L570.3 39.8L564.2 33.7Z" fill="#008000" stroke="none" stroke-width="0" stroke-linejoin="miter"/>
<path d="M568.5 27.7L574.6 33.8L568.5 39.9L562.4 33.8Z" fill="#008000" stroke="none" stroke-width="0" stroke-linejoin="miter"/>
<path d="M566.8 27.9L572.9 34L566.8 40.1L560.7 34Z" fill="#008000" stroke="none" stroke-width="0" stroke-linejoin="miter"/>
<path d="M565 28.1L571.1 34.2L565 40.3L558.9 34.2Z" fill="#008000" stroke="none" stroke-width="0" stroke-linejoin="miter"/>
<path d="M563.3 28.2L569.4 34.3L563.3 40.4L557.2 34.3Z" fill="#008000" stroke="none" stroke-width="0" stroke-linejoin="miter"/>
<path d="M666.3 20.9L672.4 27L666.3 33.1L660.2 27Z" fill="#008000" stroke="none" stroke-width="0" stroke-linejoin="miter"/>
<path d="M664.5 21.1L670.6 27.2L664.5 33.3L658.4 27.2Z" fill="#008000" stroke="none" stroke-width="0" stroke-linejoin="miter"/>
<path d="M662.8 21.2L668.9 27.3L662.8 33.4L656.7 27.3Z" fill="#008000" stroke="none" stroke-width="0" stroke-linejoin="miter"/>
<path d="M661 21.4L667.1 27.5L661 33.6L654.9 27.5Z" fill="#008000" stroke="none" stroke-width="0" stroke-linejoin="miter"/>
<path d="M659.3 21.6L665.4 27.7L659.3 33.8L653.2 27.7Z" fill="#008000" stroke="none" stroke-width="0" stroke-linejoin="miter"/>
<path d="M657.5 21.7L663.6 27.8L657.5 33.9L651.4 27.8Z" fill="#008000" stroke="none" stroke-width="0" stroke-linejoin="miter"/>
<path d="M655.8 21.9L661.9 28L655.8 34.1L649.7 28Z" fill="#008000" stroke="none" stroke-width="0" stroke-linejoin="miter"/>
<path d="M654.1 22.1L660.2 28.2L654.1 34.3L648 28.2Z" fill="#008000" stroke="none" stroke-width="0" stroke-linejoin="miter"/>
<path d="M652.3 22.3L658.4 28.4L652.3 34.5L646.2 28.4Z" fill="#008000" stroke="none" stroke-width="0" stroke-linejoin="miter"/>
<path d="M650.6 22.4L656.7 28.5L650.6 34.6L644.5 28.5Z" fill="#008000" stroke="none" stroke-width="0" stroke-linejoin="miter"/>
<path d="M648.8 22.6L654.9 28.7L648.8 34.8L642.7 28.7Z" fill="#008000" stroke="none" stroke-width="0" stroke-linejoin="miter"/>
<path d="M647.1 22.8L653.2 28.9L647.1 35L641 28.9Z" fill="#008000" stroke="none" stroke-width="0" stroke-linejoin="miter"/>
<path d="M645.3 22.9L651.4 29L645.3 35.1L639.2 29Z" fill="#008000" stroke="none" stroke-width="0" stroke-linejoin="miter"/>
<path d="M643.6 23.1L649.7 29.2L643.6 35.3L637.5 29.2Z" fill="#008000" stroke="none" stroke-width="0" stroke-linejoin="miter"/>
<path d="M641.8 23.3L647.9 29.4L641.8 35.5L635.7 29.4Z" fill="#008000" stroke="none" stroke-width="0" stroke-linejoin="miter"/>
<path d="M640.1 23.5L646.2 29.6L640.1 35.7L634 29.6Z" fill="#008000" stroke="none" stroke-width="0" stroke-linejoin="miter"/>
<path d="M638.3 23.6L644.4 29.7L638.3 35.8L632.2 29.7Z" fill="#008000" stroke="none" stroke-width="0" stroke-linejoin="miter"/>
<path d="M636.6 23.8L642.7 29.9L636.6 36L630.5 29.9Z" fill="#008000" stroke="none" stroke-width="0" stroke-linejoin="miter"/>
<path d="M634.9 24L641 30.1L634.9 36.2L628.8 30.1Z" fill="#008000" stroke="none" stroke-width="0" stroke-linejoin="miter"/>
<path d="M633.1 24.1L639.2 30.2L633.1 36.3L627 30.2Z" fill="#008000" stroke="none" stroke-width="0" stroke-linejoin="miter"/>
<path d="M631.4 24.3L637.5 30.4L631.4 36.5L625.3 30.4Z" fill="#008000" stroke="none" stroke-width="0" stroke-linejoin="miter"/>
<path d="M629.6 24.5L635.7 30.6L629.6 36.7L623.5 30.6Z" fill="#008000" stroke="none" stroke-width="0" stroke-linejoin="miter"/>
<path d="M627.9 24.7L634 30.8L627.9 36.9L621.8 30.8Z" fill="#008000" stroke="none" stroke-width="0" stroke-linejoin="miter"/>
<path d="M626.1 24.8L632.2 30.9L626.1 37L620 30.9Z" fill="#008000" stroke="none" stroke-width="0" stroke-linejoin="miter"/>
<path d="M624.4 25L630.5 31.1L624.4 37.2L618.3 31.1Z" fill="#008000" stroke="none" stroke-width="0" stroke-linejoin="miter"/>
<path d="M622.6 25.2L628.7 31.3L622.6 37.4L616.5 31.3Z" fill="#008000" stroke="none" stroke-width="0" stroke-linejoin="miter"/>
<path d="M620.9 25.3L627 31.4L620.9 37.5L614.8 31.4Z" fill="#008000" stroke="none" stroke-width="0" stroke-linejoin="miter"/>
<path d="M619.1 25.5L625.2 31.6L619.1 37.7L613 31.6Z" fill="#008000" stroke="none" stroke-width="0" stroke-linejoin="miter"/>
<path d="M617.4 25.7L623.5 31.8L617.4 37.9L611.3 31.8Z" fill="#008000" stroke="none" stroke-width="0" stroke-linejoin="miter"/>
<path d="M615.7 25.9L621.8 32L615.7 38.1L609.6 32Z" fill="#008000" stroke="none" stroke-width="0" stroke-linejoin="miter"/>
<path d="M613.9 26L620 32.1L613.9 38.2L607.8 32.1Z" fill="#008000" stroke="none" stroke-width="0" stroke-linejoin="miter"/>
<path d="M612.2 26.2L618.3 32.3L612.2 38.4L606.1 32.3Z" fill="#008000" stroke="none" stroke-width="0" stroke-linejoin="miter"/>
<path d="M610.4 26.4L616.5 32.5L610.4 38.6L604.3 32.5Z" fill="#008000" stroke="none" stroke-width="0" stroke-linejoin="miter"/>
<path d="M608.7 26.5L614.8 32.6L608.7 38.7L602.6 32.6Z" fill="#008000" stroke="none" stroke-width="0" stroke-linejoin="miter"/>
<path d="M606.9 26.7L613 32.8L606.9 38.9L600.8 32.8Z" fill="#008000" stroke="none" stroke-width="0" stroke-linejoin="miter"/>
<path d="M605.2 26.9L611.3 33L605.2 39.1L599.1 33Z" fill="#008000" stroke="none" stroke-width="0" stroke-linejoin="miter"/>
<path d="M603.4 27.1L609.5 33.2L603.4 39.3L597.3 33.2Z" fill="#008000" stroke="none" stroke-width="0" stroke-linejoin="miter"/>
<path d="M601.7 27.2L607.8 33.3L601.7 39.4L595.6 33.3Z" fill="#008000" stroke="none" stroke-width="0" stroke-linejoin="miter"/>
<path d="M600 27.4L606.1 33.5L600 39.6L593.9 33.5Z" fill="#008000" stroke="none" stroke-width="0" stroke-linejoin="miter"/>
<path d="M598.2 27.6L604.3 33.7L598.2 39.8L592.1 33.7Z" fill="#008000" stroke="none" stroke-width="0" stroke-linejoin="miter"/>
<path d="M596.5 27.7L602.6 33.8L596.5 39.9L590.4 33.8Z" fill="#008000" stroke="none" stroke-width="0" stroke-linejoin="miter"/>
<path d="M594.7 27.9L600.8 34L594.7 40.1L588.6 34Z" fill="#008000" stroke="none" stroke-width="0" stroke-linejoin="miter"/>
<path d="M593 28.1L599.1 34.2L593 40.3L586.9 34.2Z" fill="#008000" stroke="none" stroke-width="0" stroke-linejoin="miter"/>
<path d="M591.2 28.3L597.3 34.4L591.2 40.5L585.1 34.4Z" fill="#008000" stroke="none" stroke-width="0" stroke-linejoin="miter"/>
<path d="M589.5 28.4L595.6 34.5L589.5 40.6L583.4 34.5Z" fill="#008000" stroke="none" stroke-width="0" stroke-linejoin="miter"/>
<path d="M587.7 28.6L593.8 34.7L587.7 40.8L581.6 34.7Z" fill="#008000" stroke="none" stroke-width="0" stroke-linejoin="miter"/>
<path d="M586 28.8L592.1 34.9L586 41L579.9 34.9Z" fill="#008000" stroke="none" stroke-width="0" stroke-linejoin="miter"/>
<path d="M584.2 28.9L590.3 35L584.2 41.1L578.1 35Z" fill="#008000" stroke="none" stroke-width="0" stroke-linejoin="miter"/>
<path d="M582.5 29.1L588.6 35.2L582.5 41.3L576.4 35.2Z" fill="#008000" stroke="none" stroke-width="0" stroke-linejoin="miter"/>
<path d="M580.8 29.3L586.9 35.4L580.8 41.5L574.7 35.4Z" fill="#008000" stroke="none" stroke-width="0" stroke-linejoin="miter"/>
<path d="M579 29.5L585.1 35.6L579 41.7L572.9 35.6Z" fill="#008000" stroke="none" stroke-width="0" stroke-linejoin="miter"/>
<path d="M577.3 29.6L583.4 35.7L577.3 41.8L571.2 35.7Z" fill="#008000" stroke="none" stroke-width="0" stroke-linejoin="miter"/>
<path d="M575.5 29.8L581.6 35.9L575.5 42L569.4 35.9Z" fill="#008000" stroke="none" stroke-width="0" stroke-linejoin="miter"/>
<path d="M573.8 30L579.9 36.1L573.8 42.2L567.7 36.1Z" fill="#008000" stroke="none" stroke-width="0" stroke-linejoin="miter"/>
<path d="M572 30.1L578.1 36.2L572 42.3L565.9 36.2Z" fill="#008000" stroke="none" stroke-width="0" stroke-linejoin="miter"/>
<path d="M570.3 30.3L576.4 36.4L570.3 42.5L564.2 36.4Z" fill="#008000" stroke="none" stroke-width="0" stroke-linejoin="miter"/>
<path d="M568.5 30.5L574.6 36.6L568.5 42.7L562.4 36.6Z" fill="#008000" stroke="none" stroke-width="0" stroke-linejoin="miter"/>
<path d="M566.8 30.7L572.9 36.8L566.8 42.9L560.7 36.8Z" fill="#008000" stroke="none" stroke-width="0" stroke-linejoin="miter"/>
<path d="M565 30.8L571.1 36.9L565 43L558.9 36.9Z" fill="#008000" stroke="none" stroke-width="0" stroke-linejoin="miter"/>
<path d="M563.3 31L569.4 37.1L563.3 43.2L557.2 37.1Z" fill="#008000" stroke="none" stroke-width="0" stroke-linejoin="miter"/>
<path d="M561.8 30.5L567.9 36.6L561.8 42.7L555.7 36.6Z" fill="#008000" stroke="none" stroke-width="0" stroke-linejoin="miter"/>
<path d="M560.4 31.8L566.5 37.9L560.4 44L554.3 37.9Z" fill="#008000" stroke="none" stroke-width="0" stroke-linejoin="miter"/>
<path d="M559.3 33.3L565.4 39.4L559.3 45.5L553.2 39.4Z" fill="#008000" stroke="none" stroke-width="0" stroke-linejoin="miter"/>
<path d="M558.7 34.8L564.8 40.9L558.7 47L552.6 40.9Z" fill="#008000" stroke="none" stroke-width="0" stroke-linejoin="miter"/>
<path d="M558 37.6L564.1 43.7L558 49.8L551.9 43.7Z" fill="#008000" stroke="none" stroke-width="0" stroke-linejoin="miter"/>
<path d="M557.7 40.4L563.8 46.5L557.7 52.6L551.6 46.5Z" fill="#008000" stroke="none" stroke-width="0" stroke-linejoin="miter"/>
<path d="M557.3 43.2L563.4 49.3L557.3 55.4L551.2 49.3Z" fill="#008000" stroke="none" stroke-width="0" stroke-linejoin="miter"/>
<path d="M557 46L563.1 52.1L557 58.2L550.9 52.1Z" fill="#008000" stroke="none" stroke-width="0" stroke-linejoin="miter"/>
<path d="M556.7 48.8L562.8 54.9L556.7 61L550.6 54.9Z" fill="#008000" stroke="none" stroke-width="0" stroke-linejoin="miter"/>
<path d="M556.4 51.6L562.5 57.7L556.4 63.8L550.3 57.7Z" fill="#008000" stroke="none" stroke-width="0" stroke-linejoin="miter"/>
<path d="M556.1 54.4L562.2 60.5L556.1 66.6L550 60.5Z" fill="#008000" stroke="none" stroke-width="0" stroke-linejoin="miter"/>
<path d="M555.8 57.2L561.9 63.3L555.8 69.4L549.7 63.3Z" fill="#008000" stroke="none" stroke-width="0" stroke-linejoin="miter"/>
<path d="M555.4 60L561.5 66.1L555.4 72.2L549.3 66.1Z" fill="#008000" stroke="none" stroke-width="0" stroke-linejoin="miter"/>
<path d="M555.1 62.9L561.2 69L555.1 75.1L549 69Z" fill="#008000" stroke="none" stroke-width="0" stroke-linejoin="miter"/>
<path d="M554.8 65.7L560.9 71.8L554.8 77.9L548.7 71.8Z" fill="#008000" stroke="none" stroke-width="0" stroke-linejoin="miter"/>
<path d="M554.5 68.5L560.6 74.6L554.5 80.7L548.4 74.6Z" fill="#008000" stroke="none" stroke-width="0" stroke-linejoin="miter"/>
<path d="M554.2 71.3L560.3 77.4L554.2 83.5L548.1 77.4Z" fill="#008000" stroke="none" stroke-width="0" stroke-linejoin="miter"/>
<path d="M553.9 74.1L560 80.2L553.9 86.3L547.8 80.2Z" fill="#008000" stroke="none" stroke-width="0" stroke-linejoin="miter"/>
<path d="M553.6 76.9L559.7 83L553.6 89.1L547.5 83Z" fill="#008000" stroke="none" stroke-width="0" stroke-linejoin="miter"/>
<path d="M553.2 79.7L559.3 85.8L553.2 91.9L547.1 85.8Z" fill="#008000" stroke="none" stroke-width="0" stroke-linejoin="miter"/>
<path d="M552.9 82.5L559 88.6L552.9 94.7L546.8 88.6Z" fill="#008000" stroke="none" stroke-width="0" stroke-linejoin="miter"/>
<path d="M552.6 85.3L558.7 91.4L552.6 97.5L546.5 91.4Z" fill="#008000" stroke="none" stroke-width="0" stroke-linejoin="miter"/>
<path d="M552.3 88.1L558.4 94.2L552.3 100.3L546.2 94.2Z" fill="#008000" stroke="none" stroke-width="0" stroke-linejoin="miter"/>
<path d="M552 90.9L558.1 97L552 103.1L545.9 97Z" fill="#008000" stroke="none" stroke-width="0" stroke-linejoin="miter"/>
<path d="M551.7 93.7L557.8 99.8L551.7 105.9L545.6 99.8Z" fill="#008000" stroke="none" stroke-width="0" stroke-linejoin="miter"/>
<path d="M551.3 96.5L557.4 102.6L551.3 108.7L545.2 102.6Z" fill="#008000" stroke="none" stroke-width="0" stroke-linejoin="miter"/>
<path d="M551 99.3L557.1 105.4L551 111.5L544.9 105.4Z" fill="#008000" stroke="none" stroke-width="0" stroke-linejoin="miter"/>
<path d="M550.7 102.2L556.8 108.3L550.7 114.4L544.6 108.3Z" fill="#008000" stroke="none" stroke-width="0" stroke-linejoin="miter"/>
<path d="M550.4 105L556.5 111.1L550.4 117.2L544.3 111.1Z" fill="#008000" stroke="none" stroke-width="0" stroke-linejoin="miter"/>
<path d="M550.1 107.8L556.2 113.9L550.1 120L544 113.9Z" fill="#008000" stroke="none" stroke-width="0" stroke-linejoin="miter"/>
<path d="M549.8 110.6L555.9 116.7L549.8 122.8L543.7 116.7Z" fill="#008000" stroke="none" stroke-width="0" stroke-linejoin="miter"/>
<path d="M549.4 113.4L555.5 119.5L549.4 125.6L543.3 119.5Z" fill="#008000" stroke="none" stroke-width="0" stroke-linejoin="miter"/>
<path d="M549.1 116.2L555.2 122.3L549.1 128.4L543 122.3Z" fill="#008000" stroke="none" stroke-width="0" stroke-linejoin="miter"/>
<path d="M548.8 119L554.9 125.1L548.8 131.2L542.7 125.1Z" fill="#008000" stroke="none" stroke-width="0" stroke-linejoin="miter"/>
<path d="M548.5 121.8L554.6 127.9L548.5 134L542.4 127.9Z" fill="#008000" stroke="none" stroke-width="0" stroke-linejoin="miter"/>
<path d="M548.2 124.6L554.3 130.7L548.2 136.8L542.1 130.7Z" fill="#008000" stroke="none" stroke-width="0" stroke-linejoin="miter"/>
<path d="M547.9 127.4L554 133.5L547.9 139.6L541.8 133.5Z" fill="#008000" stroke="none" stroke-width="0" stroke-linejoin="miter"/>
<path d="M547.5 130.2L553.6 136.3L547.5 142.4L541.4 136.3Z" fill="#008000" stroke="none" stroke-width="0" stroke-linejoin="miter"/>
<path d="M547.2 133L553.3 139.1L547.2 145.2L541.1 139.1Z" fill="#008000" stroke="none" stroke-width="0" stroke-linejoin="miter"/>
<path d="M546.9 135.8L553 141.9L546.9 148L540.8 141.9Z" fill="#008000" stroke="none" stroke-width="0" stroke-linejoin="miter"/>
<path d="M546.6 138.6L552.7 144.7L546.6 150.8L540.5 144.7Z" fill="#008000" stroke="none" stroke-width="0" stroke-linejoin="miter"/>
<path d="M546.3 141.5L552.4 147.6L546.3 153.7L540.2 147.6Z" fill="#008000" stroke="none" stroke-width="0" stroke-linejoin="miter"/>
<path d="M546 144.3L552.1 150.4L546 156.5L539.9 150.4Z" fill="#008000" stroke="none" stroke-width="0" stroke-linejoin="miter"/>
<path d="M516.2 148.8L522.3 154.9L516.2 161L510.1 154.9Z" fill="#008000" stroke="none" stroke-width="0" stroke-linejoin="miter"/>
<path d="M518 148.7L524.1 154.8L518 160.9L511.9 154.8Z" fill="#008000" stroke="none" stroke-width="0" stroke-linejoin="miter"/>
<path d="M519.7 148.6L525.8 154.7L519.7 160.8L513.6 154.7Z" fill="#008000" stroke="none" stroke-width="0" stroke-linejoin="miter"/>
<path d="M521.5 148.4L527.6 154.5L521.5 160.6L515.4 154.5Z" fill="#008000" stroke="none" stroke-width="0" stroke-linejoin="miter"/>
<path d="M523.2 148.3L529.3 154.4L523.2 160.5L517.1 154.4Z" fill="#008000" stroke="none" stroke-width="0" stroke-linejoin="miter"/>
<path d="M525 148.2L531.1 154.3L525 160.4L518.9 154.3Z" fill="#008000" stroke="none" stroke-width="0" stroke-linejoin="miter"/>
<path d="M526.7 148.1L532.8 154.2L526.7 160.3L520.6 154.2Z" fill="#008000" stroke="none" stroke-width="0" stroke-linejoin="miter"/>
<path d="M528.4 148L534.5 154.1L528.4 160.2L522.3 154.1Z" fill="#008000" stroke="none" stroke-width="0" stroke-linejoin="miter"/>
<path d="M530.2 147.9L536.3 154L530.2 160.1L524.1 154Z" fill="#008000" stroke="none" stroke-width="0" stroke-linejoin="miter"/>
<path d="M531.9 147.8L538 153.9L531.9 160L525.8 153.9Z" fill="#008000" stroke="none" stroke-width="0" stroke-linejoin="miter"/>
<path d="M533.7 147.7L539.8 153.8L533.7 159.9L527.6 153.8Z" fill="#008000" stroke="none" stroke-width="0" stroke-linejoin="miter"/>
<path d="M535.4 147.6L541.5 153.7L535.4 159.8L529.3 153.7Z" fill="#008000" stroke="none" stroke-width="0" stroke-linejoin="miter"/>
<path d="M537.2 147.5L543.3 153.6L537.2 159.7L531.1 153.6Z" fill="#008000" stroke="none" stroke-width="0" stroke-linejoin="miter"/>
<path d="M538.9 147.4L545 153.5L538.9 159.6L532.8 153.5Z" fill="#008000" stroke="none" stroke-width="0" stroke-linejoin="miter"/>
<path d="M540.7 147.3L546.8 153.4L540.7 159.5L534.6 153.4Z" fill="#008000" stroke="none" stroke-width="0" stroke-linejoin="miter"/>
<path d="M542.4 147.2L548.5 153.3L542.4 159.4L536.3 153.3Z" fill="#008000" stroke="none" stroke-width="0" stroke-linejoin="miter"/>
<path d="M544.2 147.1L550.3 153.2L544.2 159.3L538.1 153.2Z" fill="#008000" stroke="none" stroke-width="0" stroke-linejoin="miter"/>
<path d="M545.9 146.9L552 153L545.9 159.1L539.8 153Z" fill="#008000" stroke="none" stroke-width="0" stroke-linejoin="miter"/>
<path d="M547.6 146.8L553.7 152.9L547.6 159L541.5 152.9Z" fill="#008000" stroke="none" stroke-width="0" stroke-linejoin="miter"/>
<path d="M549.4 146.7L555.5 152.8L549.4 158.9L543.3 152.8Z" fill="#008000" stroke="none" stroke-width="0" stroke-linejoin="miter"/>
<path d="M551.1 146.6L557.2 152.7L551.1 158.8L545 152.7Z" fill="#008000" stroke="none" stroke-width="0" stroke-linejoin="miter"/>
<path d="M552.9 146.5L559 152.6L552.9 158.7L546.8 152.6Z" fill="#008000" stroke="none" stroke-width="0" stroke-linejoin="miter"/>
<path d="M554.6 146.4L560.7 152.5L554.6 158.6L548.5 152.5Z" fill="#008000" stroke="none" stroke-width="0" stroke-linejoin="miter"/>
<path d="M556.4 146.3L562.5 152.4L556.4 158.5L550.3 152.4Z" fill="#008000" stroke="none" stroke-width="0" stroke-linejoin="miter"/>
<path d="M558.1 146.2L564.2 152.3L558.1 158.4L552 152.3Z" fill="#008000" stroke="none" stroke-width="0" stroke-linejoin="miter"/>
<path d="M559.9 146.1L566 152.2L559.9 158.3L553.8 152.2Z" fill="#008000" stroke="none" stroke-width="0" stroke-linejoin="miter"/>
<path d="M561.6 146L567.7 152.1L561.6 158.2L555.5 152.1Z" fill="#008000" stroke="none" stroke-width="0" stroke-linejoin="miter"/>
<path d="M563.4 145.9L569.5 152L563.4 158.1L557.3 152Z" fill="#008000" stroke="none" stroke-width="0" stroke-linejoin="miter"/>
<path d="M565.1 145.8L571.2 151.9L565.1 158L559 151.9Z" fill="#008000" stroke="none" stroke-width="0" stroke-linejoin="miter"/>
<path d="M566.8 145.7L572.9 151.8L566.8 157.9L560.7 151.8Z" fill="#008000" stroke="none" stroke-width="0" stroke-linejoin="miter"/>
<path d="M568.6 145.6L574.7 151.7L568.6 157.8L562.5 151.7Z" fill="#008000" stroke="none" stroke-width="0" stroke-linejoin="miter"/>
<path d="M570.3 145.5L576.4 151.6L570.3 157.7L564.2 151.6Z" fill="#008000" stroke="none" stroke-width="0" stroke-linejoin="miter"/>
<path d="M572.1 145.3L578.2 151.4L572.1 157.5L566 151.4Z" fill="#008000" stroke="none" stroke-width="0" stroke-linejoin="miter"/>
<path d="M573.8 145.2L579.9 151.3L573.8 157.4L567.7 151.3Z" fill="#008000" stroke="none" stroke-width="0" stroke-linejoin="miter"/>
<path d="M575.6 145.1L581.7 151.2L575.6 157.3L569.5 151.2Z" fill="#008000" stroke="none" stroke-width="0" stroke-linejoin="miter"/>
<path d="M577.3 145L583.4 151.1L577.3 157.2L571.2 151.1Z" fill="#008000" stroke="none" stroke-width="0" stroke-linejoin="miter"/>
<path d="M579.1 144.9L585.2 151L579.1 157.1L573 151Z" fill="#008000" stroke="none" stroke-width="0" stroke-linejoin="miter"/>
<path d="M580.8 144.8L586.9 150.9L580.8 157L574.7 150.9Z" fill="#008000" stroke="none" stroke-width="0" stroke-linejoin="miter"/>
<path d="M582.5 144.7L588.6 150.8L582.5 156.9L576.4 150.8Z" fill="#008000" stroke="none" stroke-width="0" stroke-linejoin="miter"/>
<path d="M584.3 144.6L590.4 150.7L584.3 156.8L578.2 150.7Z" fill="#008000" stroke="none" stroke-width="0" stroke-linejoin="miter"/>
<path d="M586 144.5L592.1 150.6L586 156.7L579.9 150.6Z" fill="#008000" stroke="none" stroke-width="0" stroke-linejoin="miter"/>
<path d="M587.8 144.4L593.9 150.5L587.8 156.6L581.7 150.5Z" fill="#008000" stroke="none" stroke-width="0" stroke-linejoin="miter"/>
<path d="M589.5 144.3L595.6 150.4L589.5 156.5L583.4 150.4Z" fill="#008000" stroke="none" stroke-width="0" stroke-linejoin="miter"/>
<path d="M591.3 144.2L597.4 150.3L591.3 156.4L585.2 150.3Z" fill="#008000" stroke="none" stroke-width="0" stroke-linejoin="miter"/>
<path d="M593 144L599.1 150.1L593 156.2L586.9 150.1Z" fill="#008000" stroke="none" stroke-width="0" stroke-linejoin="miter"/>
<path d="M594.8 143.9L600.9 150L594.8 156.1L588.7 150Z" fill="#008000" stroke="none" stroke-width="0" stroke-linejoin="miter"/>
<path d="M596.5 143.8L602.6 149.9L596.5 156L590.4 149.9Z" fill="#008000" stroke="none" stroke-width="0" stroke-linejoin="miter"/>
<path d="M598.3 143.6L604.4 149.7L598.3 155.8L592.2 149.7Z" fill="#008000" stroke="none" stroke-width="0" stroke-linejoin="miter"/>
<path d="M600 143.5L606.1 149.6L600 155.7L593.9 149.6Z" fill="#008000" stroke="none" stroke-width="0" stroke-linejoin="miter"/>
<path d="M601.7 143.3L607.8 149.4L601.7 155.5L595.6 149.4Z" fill="#008000" stroke="none" stroke-width="0" stroke-linejoin="miter"/>
<path d="M603.5 143.2L609.6 149.3L603.5 155.4L597.4 149.3Z" fill="#008000" stroke="none" stroke-width="0" stroke-linejoin="miter"/>
<path d="M605.2 143.1L611.3 149.2L605.2 155.3L599.1 149.2Z" fill="#008000" stroke="none" stroke-width="0" stroke-linejoin="miter"/>
<path d="M607 142.9L613.1 149L607 155.1L600.9 149Z" fill="#008000" stroke="none" stroke-width="0" stroke-linejoin="miter"/>
<path d="M608.7 142.8L614.8 148.9L608.7 155L602.6 148.9Z" fill="#008000" stroke="none" stroke-width="0" stroke-linejoin="miter"/>
<path d="M610.5 142.6L616.6 148.7L610.5 154.8L604.4 148.7Z" fill="#008000" stroke="none" stroke-width="0" stroke-linejoin="miter"/>
<path d="M612.2 142.5L618.3 148.6L612.2 154.7L606.1 148.6Z" fill="#008000" stroke="none" stroke-width="0" stroke-linejoin="miter"/>
<path d="M614 142.4L620.1 148.5L614 154.6L607.9 148.5Z" fill="#008000" stroke="none" stroke-width="0" stroke-linejoin="miter"/>
<path d="M615.7 142.2L621.8 148.3L615.7 154.4L609.6 148.3Z" fill="#008000" stroke="none" stroke-width="0" stroke-linejoin="miter"/>
<path d="M617.5 142.1L623.6 148.2L617.5 154.3L611.4 148.2Z" fill="#008000" stroke="none" stroke-width="0" stroke-linejoin="miter"/>
<path d="M619.2 142L625.3 148.1L619.2 154.2L613.1 148.1Z" fill="#008000" stroke="none" stroke-width="0" stroke-linejoin="miter"/>
<path d="M516.2 151.5L522.3 157.6L516.2 163.7L510.1 157.6Z" fill="#008000" stroke="none" stroke-width="0" stroke-linejoin="miter"/>
<path d="M518 151.4L524.1 157.5L518 163.6L511.9 157.5Z" fill="#008000" stroke="none" stroke-width="0" stroke-linejoin="miter"/>
<path d="M519.7 151.3L525.8 157.4L519.7 163.5L513.6 157.4Z" fill="#008000" stroke="none" stroke-width="0" stroke-linejoin="miter"/>
<path d="M521.5 151.2L527.6 157.3L521.5 163.4L515.4 157.3Z" fill="#008000" stroke="none" stroke-width="0" stroke-linejoin="miter"/>
<path d="M523.2 151.1L529.3 157.2L523.2 163.3L517.1 157.2Z" fill="#008000" stroke="none" stroke-width="0" stroke-linejoin="miter"/>
<path d="M525 151L531.1 157.1L525 163.2L518.9 157.1Z" fill="#008000" stroke="none" stroke-width="0" stroke-linejoin="miter"/>
<path d="M526.7 150.9L532.8 157L526.7 163.1L520.6 157Z" fill="#008000" stroke="none" stroke-width="0" stroke-linejoin="miter"/>
<path d="M528.4 150.8L534.5 156.9L528.4 163L522.3 156.9Z" fill="#008000" stroke="none" stroke-width="0" stroke-linejoin="miter"/>
<path d="M530.2 150.7L536.3 156.8L530.2 162.9L524.1 156.8Z" fill="#008000" stroke="none" stroke-width="0" stroke-linejoin="miter"/>
<path d="M531.9 150.6L538 156.7L531.9 162.8L525.8 156.7Z" fill="#008000" stroke="none" stroke-width="0" stroke-linejoin="miter"/>
<path d="M533.7 150.5L539.8 156.6L533.7 162.7L527.6 156.6Z" fill="#008000" stroke="none" stroke-width="0" stroke-linejoin="miter"/>
<path d="M535.4 150.4L541.5 156.5L535.4 162.6L529.3 156.5Z" fill="#008000" stroke="none" stroke-width="0" stroke-linejoin="miter"/>
<path d="M537.2 150.2L543.3 156.3L537.2 162.4L531.1 156.3Z" fill="#008000" stroke="none" stroke-width="0" stroke-linejoin="miter"/>
<path d="M538.9 150.1L545 156.2L538.9 162.3L532.8 156.2Z" fill="#008000" stroke="none" stroke-width="0" stroke-linejoin="miter"/>
<path d="M540.7 150L546.8 156.1L540.7 162.2L534.6 156.1Z" fill="#008000" stroke="none" stroke-width="0" stroke-linejoin="miter"/>
<path d="M542.4 149.9L548.5 156L542.4 162.1L536.3 156Z" fill="#008000" stroke="none" stroke-width="0" stroke-linejoin="miter"/>
<path d="M544.2 149.8L550.3 155.9L544.2 162L538.1 155.9Z" fill="#008000" stroke="none" stroke-width="0" stroke-linejoin="miter"/>
<path d="M545.9 149.7L552 155.8L545.9 161.9L539.8 155.8Z" fill="#008000" stroke="none" stroke-width="0" stroke-linejoin="miter"/>
<path d="M547.6 149.6L553.7 155.7L547.6 161.8L541.5 155.7Z" fill="#008000" stroke="none" stroke-width="0" stroke-linejoin="miter"/>
<path d="M549.4 149.5L555.5 155.6L549.4 161.7L543.3 155.6Z" fill="#008000" stroke="none" stroke-width="0" stroke-linejoin="miter"/>
<path d="M551.1 149.4L557.2 155.5L551.1 161.6L545 155.5Z" fill="#008000" stroke="none" stroke-width="0" stroke-linejoin="miter"/>
<path d="M552.9 149.3L559 155.4L552.9 161.5L546.8 155.4Z" fill="#008000" stroke="none" stroke-width="0" stroke-linejoin="miter"/>
<path d="M554.6 149.2L560.7 155.3L554.6 161.4L548.5 155.3Z" fill="#008000" stroke="none" stroke-width="0" stroke-linejoin="miter"/>
<path d="M556.4 149.1L562.5 155.2L556.4 161.3L550.3 155.2Z" fill="#008000" stroke="none" stroke-width="0" stroke-linejoin="miter"/>
<path d="M558.1 149L564.2 155.1L558.1 161.2L552 155.1Z" fill="#008000" stroke="none" stroke-width="0" stroke-linejoin="miter"/>
<path d="M559.9 148.9L566 155L559.9 161.1L553.8 155Z" fill="#008000" stroke="none" stroke-width="0" stroke-linejoin="miter"/>
<path d="M561.6 148.7L567.7 154.8L561.6 160.9L555.5 154.8Z" fill="#008000" stroke="none" stroke-width="0" stroke-linejoin="miter"/>
<path d="M563.4 148.6L569.5 154.7L563.4 160.8L557.3 154.7Z" fill="#008000" stroke="none" stroke-width="0" stroke-linejoin="miter"/>
<path d="M565.1 148.5L571.2 154.6L565.1 160.7L559 154.6Z" fill="#008000" stroke="none" stroke-width="0" stroke-linejoin="miter"/>
<path d="M566.8 148.4L572.9 154.5L566.8 160.6L560.7 154.5Z" fill="#008000" stroke="none" stroke-width="0" stroke-linejoin="miter"/>
<path d="M568.6 148.3L574.7 154.4L568.6 160.5L562.5 154.4Z" fill="#008000" stroke="none" stroke-width="0" stroke-linejoin="miter"/>
<path d="M570.3 148.2L576.4 154.3L570.3 160.4L564.2 154.3Z" fill="#008000" stroke="none" stroke-width="0" stroke-linejoin="miter"/>
<path d="M572.1 148.1L578.2 154.2L572.1 160.3L566 154.2Z" fill="#008000" stroke="none" stroke-width="0" stroke-linejoin="miter"/>
<path d="M573.8 148L579.9 154.1L573.8 160.2L567.7 154.1Z" fill="#008000" stroke="none" stroke-width="0" stroke-linejoin="miter"/>
<path d="M575.6 147.9L581.7 154L575.6 160.1L569.5 154Z" fill="#008000" stroke="none" stroke-width="0" stroke-linejoin="miter"/>
<path d="M577.3 147.8L583.4 153.9L577.3 160L571.2 153.9Z" fill="#008000" stroke="none" stroke-width="0" stroke-linejoin="miter"/>
<path d="M579.1 147.7L585.2 153.8L579.1 159.9L573 153.8Z" fill="#008000" stroke="none" stroke-width="0" stroke-linejoin="miter"/>
<path d="M580.8 147.6L586.9 153.7L580.8 159.8L574.7 153.7Z" fill="#008000" stroke="none" stroke-width="0" stroke-linejoin="miter"/>
<path d="M582.5 147.5L588.6 153.6L582.5 159.7L576.4 153.6Z" fill="#008000" stroke="none" stroke-width="0" stroke-linejoin="miter"/>
<path d="M584.3 147.4L590.4 153.5L584.3 159.6L578.2 153.5Z" fill="#008000" stroke="none" stroke-width="0" stroke-linejoin="miter"/>
<path d="M586 147.2L592.1 153.3L586 159.4L579.9 153.3Z" fill="#008000" stroke="none" stroke-width="0" stroke-linejoin="miter"/>
<path d="M587.8 147.1L593.9 153.2L587.8 159.3L581.7 153.2Z" fill="#008000" stroke="none" stroke-width="0" stroke-linejoin="miter"/>
<path d="M589.5 147L595.6 153.1L589.5 159.2L583.4 153.1Z" fill="#008000" stroke="none" stroke-width="0" stroke-linejoin="miter"/>
<path d="M591.3 146.9L597.4 153L591.3 159.1L585.2 153Z" fill="#008000" stroke="none" stroke-width="0" stroke-linejoin="miter"/>
<path d="M593 146.8L599.1 152.9L593 159L586.9 152.9Z" fill="#008000" stroke="none" stroke-width="0" stroke-linejoin="miter"/>
<path d="M594.8 146.7L600.9 152.8L594.8 158.9L588.7 152.8Z" fill="#008000" stroke="none" stroke-width="0" stroke-linejoin="miter"/>
<path d="M596.5 146.5L602.6 152.6L596.5 158.7L590.4 152.6Z" fill="#008000" stroke="none" stroke-width="0" stroke-linejoin="miter"/>
<path d="M598.3 146.4L604.4 152.5L598.3 158.6L592.2 152.5Z" fill="#008000" stroke="none" stroke-width="0" stroke-linejoin="miter"/>
<path d="M600 146.2L606.1 152.3L600 158.4L593.9 152.3Z" fill="#008000" stroke="none" stroke-width="0" stroke-linejoin="miter"/>
<path d="M601.7 146.1L607.8 152.2L601.7 158.3L595.6 152.2Z" fill="#008000" stroke="none" stroke-width="0" stroke-linejoin="miter"/>
<path d="M603.5 146L609.6 152.1L603.5 158.2L597.4 152.1Z" fill="#008000" stroke="none" stroke-width="0" stroke-linejoin="miter"/>
<path d="M605.2 145.8L611.3 151.9L605.2 158L599.1 151.9Z" fill="#008000" stroke="none" stroke-width="0" stroke-linejoin="miter"/>
<path d="M607 145.7L613.1 151.8L607 157.9L600.9 151.8Z" fill="#008000" stroke="none" stroke-width="0" stroke-linejoin="miter"/>
<path d="M608.7 145.5L614.8 151.6L608.7 157.7L602.6 151.6Z" fill="#008000" stroke="none" stroke-width="0" stroke-linejoin="miter"/>
<path d="M610.5 145.4L616.6 151.5L610.5 157.6L604.4 151.5Z" fill="#008000" stroke="none" stroke-width="0" stroke-linejoin="miter"/>
<path d="M612.2 145.3L618.3 151.4L612.2 157.5L606.1 151.4Z" fill="#008000" stroke="none" stroke-width="0" stroke-linejoin="miter"/>
<path d="M614 145.1L620.1 151.2L614 157.3L607.9 151.2Z" fill="#008000" stroke="none" stroke-width="0" stroke-linejoin="miter"/>
<path d="M615.7 145L621.8 151.1L615.7 157.2L609.6 151.1Z" fill="#008000" stroke="none" stroke-width="0" stroke-linejoin="miter"/>
<path d="M617.5 144.9L623.6 151L617.5 157.1L611.4 151Z" fill="#008000" stroke="none" stroke-width="0" stroke-linejoin="miter"/>
<path d="M619.2 144.7L625.3 150.8L619.2 156.9L613.1 150.8Z" fill="#008000" stroke="none" stroke-width="0" stroke-linejoin="miter"/>
<path d="M620.7 142.4L626.8 148.5L620.7 154.6L614.6 148.5Z" fill="#008000" stroke="none" stroke-width="0" stroke-linejoin="miter"/>
<path d="M621.8 141.5L627.9 147.6L621.8 153.7L615.7 147.6Z" fill="#008000" stroke="none" stroke-width="0" stroke-linejoin="miter"/>
<path d="M622.6 139.7L628.7 145.8L622.6 151.9L616.5 145.8Z" fill="#008000" stroke="none" stroke-width="0" stroke-linejoin="miter"/>
<path d="M623.2 137.8L629.3 143.9L623.2 150L617.1 143.9Z" fill="#008000" stroke="none" stroke-width="0" stroke-linejoin="miter"/>
<path d="M623.5 135L629.6 141.1L623.5 147.2L617.4 141.1Z" fill="#008000" stroke="none" stroke-width="0" stroke-linejoin="miter"/>
<path d="M623.9 132.1L630 138.2L623.9 144.3L617.8 138.2Z" fill="#008000" stroke="none" stroke-width="0" stroke-linejoin="miter"/>
<path d="M624.2 129.3L630.3 135.4L624.2 141.5L618.1 135.4Z" fill="#008000" stroke="none" stroke-width="0" stroke-linejoin="miter"/>
<path d="M624.5 126.4L630.6 132.5L624.5 138.6L618.4 132.5Z" fill="#008000" stroke="none" stroke-width="0" stroke-linejoin="miter"/>
<path d="M624.9 123.5L631 129.6L624.9 135.7L618.8 129.6Z" fill="#008000" stroke="none" stroke-width="0" stroke-linejoin="miter"/>
<path d="M625.2 120.7L631.3 126.8L625.2 132.9L619.1 126.8Z" fill="#008000" stroke="none" stroke-width="0" stroke-linejoin="miter"/>
<path d="M625.5 117.8L631.6 123.9L625.5 130L619.4 123.9Z" fill="#008000" stroke="none" stroke-width="0" stroke-linejoin="miter"/>
<path d="M625.9 115L632 121.1L625.9 127.2L619.8 121.1Z" fill="#008000" stroke="none" stroke-width="0" stroke-linejoin="miter"/>
<path d="M626.2 112.1L632.3 118.2L626.2 124.3L620.1 118.2Z" fill="#008000" stroke="none" stroke-width="0" stroke-linejoin="miter"/>
<path d="M626.5 109.3L632.6 115.4L626.5 121.5L620.4 115.4Z" fill="#008000" stroke="none" stroke-width="0" stroke-linejoin="miter"/>
<path d="M626.9 106.4L633 112.5L626.9 118.6L620.8 112.5Z" fill="#008000" stroke="none" stroke-width="0" stroke-linejoin="miter"/>
<path d="M627.2 103.6L633.3 109.7L627.2 115.8L621.1 109.7Z" fill="#008000" stroke="none" stroke-width="0" stroke-linejoin="miter"/>
<path d="M627.5 100.7L633.6 106.8L627.5 112.9L621.4 106.8Z" fill="#008000" stroke="none" stroke-width="0" stroke-linejoin="miter"/>
<path d="M627.9 97.9L634 104L627.9 110.1L621.8 104Z" fill="#008000" stroke="none" stroke-width="0" stroke-linejoin="miter"/>
<path d="M628.2 95L634.3 101.1L628.2 107.2L622.1 101.1Z" fill="#008000" stroke="none" stroke-width="0" stroke-linejoin="miter"/>
<path d="M628.5 92.2L634.6 98.3L628.5 104.4L622.4 98.3Z" fill="#008000" stroke="none" stroke-width="0" stroke-linejoin="miter"/>
<path d="M628.9 89.3L635 95.4L628.9 101.5L622.8 95.4Z" fill="#008000" stroke="none" stroke-width="0" stroke-linejoin="miter"/>
<path d="M629.2 86.4L635.3 92.5L629.2 98.6L623.1 92.5Z" fill="#008000" stroke="none" stroke-width="0" stroke-linejoin="miter"/>
<path d="M629.5 83.6L635.6 89.7L629.5 95.8L623.4 89.7Z" fill="#008000" stroke="none" stroke-width="0" stroke-linejoin="miter"/>
<path d="M629.9 80.7L636 86.8L629.9 92.9L623.8 86.8Z" fill="#008000" stroke="none" stroke-width="0" stroke-linejoin="miter"/>
<path d="M630.2 77.9L636.3 84L630.2 90.1L624.1 84Z" fill="#008000" stroke="none" stroke-width="0" stroke-linejoin="miter"/>
<path d="M630.5 75L636.6 81.1L630.5 87.2L624.4 81.1Z" fill="#008000" stroke="none" stroke-width="0" stroke-linejoin="miter"/>
<path d="M630.9 72.2L637 78.3L630.9 84.4L624.8 78.3Z" fill="#008000" stroke="none" stroke-width="0" stroke-linejoin="miter"/>
<path d="M631.2 69.3L637.3 75.4L631.2 81.5L625.1 75.4Z" fill="#008000" stroke="none" stroke-width="0" stroke-linejoin="miter"/>
<path d="M631.5 66.5L637.6 72.6L631.5 78.7L625.4 72.6Z" fill="#008000" stroke="none" stroke-width="0" stroke-linejoin="miter"/>
<path d="M631.9 63.6L638 69.7L631.9 75.8L625.8 69.7Z" fill="#008000" stroke="none" stroke-width="0" stroke-linejoin="miter"/>
<path d="M632.2 60.8L638.3 66.9L632.2 73L626.1 66.9Z" fill="#008000" stroke="none" stroke-width="0" stroke-linejoin="miter"/>
<path d="M632.5 57.9L638.6 64L632.5 70.1L626.4 64Z" fill="#008000" stroke="none" stroke-width="0" stroke-linejoin="miter"/>
<path d="M632.9 55L639 61.1L632.9 67.2L626.8 61.1Z" fill="#008000" stroke="none" stroke-width="0" stroke-linejoin="miter"/>
<path d="M633.2 52.2L639.3 58.3L633.2 64.4L627.1 58.3Z" fill="#008000" stroke="none" stroke-width="0" stroke-linejoin="miter"/>
<path d="M633.5 49.3L639.6 55.4L633.5 61.5L627.4 55.4Z" fill="#008000" stroke="none" stroke-width="0" stroke-linejoin="miter"/>
<path d="M633.8 46.5L639.9 52.6L633.8 58.7L627.7 52.6Z" fill="#008000" stroke="none" stroke-width="0" stroke-linejoin="miter"/>
<path d="M634.2 43.6L640.3 49.7L634.2 55.8L628.1 49.7Z" fill="#008000" stroke="none" stroke-width="0" stroke-linejoin="miter"/>
<path d="M634.5 40.8L640.6 46.9L634.5 53L628.4 46.9Z" fill="#008000" stroke="none" stroke-width="0" stroke-linejoin="miter"/>
<path d="M634.8 37.9L640.9 44L634.8 50.1L628.7 44Z" fill="#008000" stroke="none" stroke-width="0" stroke-linejoin="miter"/>
<path d="M635.2 35.1L641.3 41.2L635.2 47.3L629.1 41.2Z" fill="#008000" stroke="none" stroke-width="0" stroke-linejoin="miter"/>
<path d="M635.5 32.2L641.6 38.3L635.5 44.4L629.4 38.3Z" fill="#008000" stroke="none" stroke-width="0" stroke-linejoin="miter"/>
<path d="M635.8 29.4L641.9 35.5L635.8 41.6L629.7 35.5Z" fill="#008000" stroke="none" stroke-width="0" stroke-linejoin="miter"/>
<path d="M636.2 26.5L642.3 32.6L636.2 38.7L630.1 32.6Z" fill="#008000" stroke="none" stroke-width="0" stroke-linejoin="miter"/>
<path d="M517.7 85.8L523.7 91.8L517.7 97.8L511.7 91.8Z" fill="#fff" stroke="#000" stroke-width="1.6" stroke-linejoin="miter"/>
<path d="M525.1 85.7L531.1 91.7L525.1 97.7L519.1 91.7Z" fill="#fff" stroke="#000" stroke-width="1.6" stroke-linejoin="miter"/>
<path d="M532.4 85.6L538.4 91.6L532.4 97.6L526.4 91.6Z" fill="#fff" stroke="#000" stroke-width="1.6" stroke-linejoin="miter"/>
<path d="M539.8 85.4L545.8 91.4L539.8 97.4L533.8 91.4Z" fill="#fff" stroke="#000" stroke-width="1.6" stroke-linejoin="miter"/>
<path d="M547.1 85.3L553.1 91.3L547.1 97.3L541.1 91.3Z" fill="#fff" stroke="#000" stroke-width="1.6" stroke-linejoin="miter"/>
<path d="M554.5 85.1L560.5 91.1L554.5 97.1L548.5 91.1Z" fill="#fff" stroke="#000" stroke-width="1.6" stroke-linejoin="miter"/>
<path d="M561.8 85L567.8 91L561.8 97L555.8 91Z" fill="#fff" stroke="#000" stroke-width="1.6" stroke-linejoin="miter"/>
<path d="M569.2 84.8L575.2 90.8L569.2 96.8L563.2 90.8Z" fill="#fff" stroke="#000" stroke-width="1.6" stroke-linejoin="miter"/>
<path d="M574.3 82.4L580.3 88.4L574.3 94.4L568.3 88.4Z" fill="#fff" stroke="#000" stroke-width="1.6" stroke-linejoin="miter"/>
<path d="M577.2 83.1L583.2 89.1L577.2 95.1L571.2 89.1Z" fill="#fff" stroke="#000" stroke-width="1.6" stroke-linejoin="miter"/>
<path d="M580.1 83.9L586.1 89.9L580.1 95.9L574.1 89.9Z" fill="#fff" stroke="#000" stroke-width="1.6" stroke-linejoin="miter"/>
<path d="M582.9 84.7L588.9 90.7L582.9 96.7L576.9 90.7Z" fill="#fff" stroke="#000" stroke-width="1.6" stroke-linejoin="miter"/>
<path d="M585.8 85.4L591.8 91.4L585.8 97.4L579.8 91.4Z" fill="#fff" stroke="#000" stroke-width="1.6" stroke-linejoin="miter"/>
<path d="M588.7 86.2L594.7 92.2L588.7 98.2L582.7 92.2Z" fill="#fff" stroke="#000" stroke-width="1.6" stroke-linejoin="miter"/>
<path d="M591.5 87L597.5 93L591.5 99L585.5 93Z" fill="#fff" stroke="#000" stroke-width="1.6" stroke-linejoin="miter"/>
<path d="M594.4 87.8L600.4 93.8L594.4 99.8L588.4 93.8Z" fill="#fff" stroke="#000" stroke-width="1.6" stroke-linejoin="miter"/>
<path d="M597.3 88.5L603.3 94.5L597.3 100.5L591.3 94.5Z" fill="#fff" stroke="#000" stroke-width="1.6" stroke-linejoin="miter"/>
<path d="M600.1 89.3L606.1 95.3L600.1 101.3L594.1 95.3Z" fill="#fff" stroke="#000" stroke-width="1.6" stroke-linejoin="miter"/>
<path d="M603 90.1L609 96.1L603 102.1L597 96.1Z" fill="#fff" stroke="#000" stroke-width="1.6" stroke-linejoin="miter"/>
<path d="M606 89L612 95L606 101L600 95Z" fill="#fff" stroke="#000" stroke-width="1.6" stroke-linejoin="miter"/>
<path d="M613.3 88.7L619.3 94.7L613.3 100.7L607.3 94.7Z" fill="#fff" stroke="#000" stroke-width="1.6" stroke-linejoin="miter"/>
<path d="M620.7 88.4L626.7 94.4L620.7 100.4L614.7 94.4Z" fill="#fff" stroke="#000" stroke-width="1.6" stroke-linejoin="miter"/>
<path d="M628 88.1L634 94.1L628 100.1L622 94.1Z" fill="#fff" stroke="#000" stroke-width="1.6" stroke-linejoin="miter"/>
<path d="M635.4 87.9L641.4 93.9L635.4 99.9L629.4 93.9Z" fill="#fff" stroke="#000" stroke-width="1.6" stroke-linejoin="miter"/>
<path d="M642.7 87.6L648.7 93.6L642.7 99.6L636.7 93.6Z" fill="#fff" stroke="#000" stroke-width="1.6" stroke-linejoin="miter"/>
<path d="M650.1 87.3L656.1 93.3L650.1 99.3L644.1 93.3Z" fill="#fff" stroke="#000" stroke-width="1.6" stroke-linejoin="miter"/>
<path d="M657.4 87L663.4 93L657.4 99L651.4 93Z" fill="#fff" stroke="#000" stroke-width="1.6" stroke-linejoin="miter"/>
<path d="M664.8 86.8L670.8 92.8L664.8 98.8L658.8 92.8Z" fill="#fff" stroke="#000" stroke-width="1.6" stroke-linejoin="miter"/>
<text x="513" y="31.8" font-size="24" text-anchor="start" fill="#000" font-family='"Liberation Sans", sans-serif' >c</text>
<text x="564" y="74.5" font-size="19" font-family='"Liberation Sans", sans-serif' fill="#111"><tspan font-style="italic">x</tspan> = 0.5</text>
<path d="M633 147.9H658.7" stroke="#60b060" stroke-width="1"/>
<path d="M645.9 140.6L653.1 147.9L645.9 155.2L638.6 147.9Z" fill="#008000" stroke="none" stroke-width="0" stroke-linejoin="miter"/>
<path d="M633 165.8H658.7" stroke="#888" stroke-width="1"/>
<path d="M645.9 159.6L652.1 165.8L645.9 172L639.6 165.8Z" fill="#fff" stroke="#000" stroke-width="1.7" stroke-linejoin="miter"/>
<text x="662" y="153.1" font-size="10.8" fill="#222" font-family='"Liberation Sans", sans-serif'>ρ<tspan font-size="7.8" dy="3">yx</tspan></text>
<text x="662" y="171" font-size="10.8" fill="#222" font-family='"Liberation Sans", sans-serif'>ρ<tspan font-size="7.8" dy="3">zx</tspan></text></g>
<g id="panel-d"><path d="M61.7 240.5V678.6 M634.7 240.5V678.6 M60.6 241.6H245.1 M60.6 677.5H245.1 M79.7 241.6v11.3 M79.7 677.5v-11.3 M97.9 241.6v5.8 M97.9 677.5v-5.8 M116.2 241.6v11.3 M116.2 677.5v-11.3 M134.4 241.6v5.8 M134.4 677.5v-5.8 M152.7 241.6v11.3 M152.7 677.5v-11.3 M170.9 241.6v5.8 M170.9 677.5v-5.8 M189.2 241.6v11.3 M189.2 677.5v-11.3 M207.4 241.6v5.8 M207.4 677.5v-5.8 M225.7 241.6v11.3 M225.7 677.5v-11.3 M243.9 241.6v5.8 M243.9 677.5v-5.8 M252.9 241.6H437.3 M252.9 677.5H437.3 M253.9 241.6v5.8 M253.9 677.5v-5.8 M272.1 241.6v11.3 M272.1 677.5v-11.3 M290.3 241.6v5.8 M290.3 677.5v-5.8 M308.6 241.6v11.3 M308.6 677.5v-11.3 M326.8 241.6v5.8 M326.8 677.5v-5.8 M345 241.6v11.3 M345 677.5v-11.3 M363.2 241.6v5.8 M363.2 677.5v-5.8 M381.4 241.6v11.3 M381.4 677.5v-11.3 M399.7 241.6v5.8 M399.7 677.5v-5.8 M417.9 241.6v11.3 M417.9 677.5v-11.3 M436.1 241.6v5.8 M436.1 677.5v-5.8 M447.9 241.6H635.8 M447.9 677.5H635.8 M449 241.6v5.8 M449 677.5v-5.8 M467.6 241.6v11.3 M467.6 677.5v-11.3 M486.2 241.6v5.8 M486.2 677.5v-5.8 M504.8 241.6v11.3 M504.8 677.5v-11.3 M523.3 241.6v5.8 M523.3 677.5v-5.8 M541.9 241.6v11.3 M541.9 677.5v-11.3 M560.5 241.6v5.8 M560.5 677.5v-5.8 M579 241.6v11.3 M579 677.5v-11.3 M597.6 241.6v5.8 M597.6 677.5v-5.8 M616.2 241.6v11.3 M616.2 677.5v-11.3 M61.7 634h11.3 M634.7 634h-11.3 M61.7 590.4h5.8 M634.7 590.4h-5.8 M61.7 546.8h11.3 M634.7 546.8h-11.3 M61.7 503.1h5.8 M634.7 503.1h-5.8 M61.7 459.5h11.3 M634.7 459.5h-11.3 M61.7 415.9h5.8 M634.7 415.9h-5.8 M61.7 372.2h11.3 M634.7 372.2h-11.3 M61.7 328.6h5.8 M634.7 328.6h-5.8 M61.7 285h11.3 M634.7 285h-11.3" stroke="#000" stroke-width="2.2" fill="none"/>
<path d="M61.7 459.5H244 M254 459.5H436.2 M449 459.5H634.7" stroke="#000" stroke-width="2" fill="none"/>
<text x="53.5" y="291.3" font-size="17.5" text-anchor="end" fill="#000" font-family='"Liberation Sans", sans-serif' >20</text>
<text x="642.5" y="291.3" font-size="17.5" text-anchor="start" fill="#000" font-family='"Liberation Sans", sans-serif' >20</text>
<text x="53.5" y="378.6" font-size="17.5" text-anchor="end" fill="#000" font-family='"Liberation Sans", sans-serif' >10</text>
<text x="642.5" y="378.6" font-size="17.5" text-anchor="start" fill="#000" font-family='"Liberation Sans", sans-serif' >10</text>
<text x="53.5" y="465.8" font-size="17.5" text-anchor="end" fill="#000" font-family='"Liberation Sans", sans-serif' >0</text>
<text x="642.5" y="465.8" font-size="17.5" text-anchor="start" fill="#000" font-family='"Liberation Sans", sans-serif' >0</text>
<text x="53.5" y="553" font-size="17.5" text-anchor="end" fill="#000" font-family='"Liberation Sans", sans-serif' >-10</text>
<text x="642.5" y="553" font-size="17.5" text-anchor="start" fill="#000" font-family='"Liberation Sans", sans-serif' >-10</text>
<text x="53.5" y="640.3" font-size="17.5" text-anchor="end" fill="#000" font-family='"Liberation Sans", sans-serif' >-20</text>
<text x="642.5" y="640.3" font-size="17.5" text-anchor="start" fill="#000" font-family='"Liberation Sans", sans-serif' >-20</text>
<text x="78.5" y="699.5" font-size="17.5" text-anchor="middle" fill="#000" font-family='"Liberation Sans", sans-serif' >-2</text>
<text x="115" y="699.5" font-size="17.5" text-anchor="middle" fill="#000" font-family='"Liberation Sans", sans-serif' >-1</text>
<text x="152.7" y="699.5" font-size="17.5" text-anchor="middle" fill="#000" font-family='"Liberation Sans", sans-serif' >0</text>
<text x="189.2" y="699.5" font-size="17.5" text-anchor="middle" fill="#000" font-family='"Liberation Sans", sans-serif' >1</text>
<text x="225.7" y="699.5" font-size="17.5" text-anchor="middle" fill="#000" font-family='"Liberation Sans", sans-serif' >2</text>
<text x="270.9" y="699.5" font-size="17.5" text-anchor="middle" fill="#000" font-family='"Liberation Sans", sans-serif' >-2</text>
<text x="307.4" y="699.5" font-size="17.5" text-anchor="middle" fill="#000" font-family='"Liberation Sans", sans-serif' >-1</text>
<text x="345" y="699.5" font-size="17.5" text-anchor="middle" fill="#000" font-family='"Liberation Sans", sans-serif' >0</text>
<text x="381.4" y="699.5" font-size="17.5" text-anchor="middle" fill="#000" font-family='"Liberation Sans", sans-serif' >1</text>
<text x="417.9" y="699.5" font-size="17.5" text-anchor="middle" fill="#000" font-family='"Liberation Sans", sans-serif' >2</text>
<text x="466.4" y="699.5" font-size="17.5" text-anchor="middle" fill="#000" font-family='"Liberation Sans", sans-serif' >-2</text>
<text x="503.6" y="699.5" font-size="17.5" text-anchor="middle" fill="#000" font-family='"Liberation Sans", sans-serif' >-1</text>
<text x="541.9" y="699.5" font-size="17.5" text-anchor="middle" fill="#000" font-family='"Liberation Sans", sans-serif' >0</text>
<text x="579" y="699.5" font-size="17.5" text-anchor="middle" fill="#000" font-family='"Liberation Sans", sans-serif' >1</text>
<text x="616.2" y="699.5" font-size="17.5" text-anchor="middle" fill="#000" font-family='"Liberation Sans", sans-serif' >2</text>
<text x="152.5" y="716" font-size="21" text-anchor="middle" font-family='"Liberation Sans", sans-serif'><tspan font-style="italic">μ</tspan><tspan font-size="15" dy="5">0</tspan><tspan font-style="italic" dy="-5">H</tspan> (T)</text>
<text x="351" y="716" font-size="21" text-anchor="middle" font-family='"Liberation Sans", sans-serif'><tspan font-style="italic">μ</tspan><tspan font-size="15" dy="5">0</tspan><tspan font-style="italic" dy="-5">H</tspan> (T)</text>
<text x="547" y="716" font-size="21" text-anchor="middle" font-family='"Liberation Sans", sans-serif'><tspan font-style="italic">μ</tspan><tspan font-size="15" dy="5">0</tspan><tspan font-style="italic" dy="-5">H</tspan> (T)</text>
<text transform="translate(25,459) rotate(-90)" font-size="21.3" text-anchor="middle" font-family='"Liberation Sans", sans-serif'>ρ<tspan font-size="15" dy="4.5">H</tspan><tspan dy="-4.5"> (μΩ-cm)</tspan></text>
<text transform="translate(678.5,463) rotate(-90)" font-size="21.3" text-anchor="middle" font-family='"Liberation Sans", sans-serif'>ρ<tspan font-size="15" dy="4.5">H</tspan><tspan dy="-4.5"> (μΩ-cm)</tspan></text>
<text x="17" y="268" font-size="28" text-anchor="start" fill="#000" font-family='"Liberation Sans", sans-serif' >d</text>
<path d="M79 269.7L88.3 279L79 288.3L69.7 279Z" fill="#ff0000" stroke="none" stroke-width="0" stroke-linejoin="miter"/>
<path d="M94.7 261.5L104 270.8L94.7 280.1L85.4 270.8Z" fill="#ff0000" stroke="none" stroke-width="0" stroke-linejoin="miter"/>
<path d="M107 259.7L116.3 269L107 278.3L97.7 269Z" fill="#ff0000" stroke="none" stroke-width="0" stroke-linejoin="miter"/>
<path d="M113 258.9L122.3 268.2L113 277.5L103.7 268.2Z" fill="#ff0000" stroke="none" stroke-width="0" stroke-linejoin="miter"/>
<path d="M115.4 258.8L124.7 268.1L115.4 277.4L106.1 268.1Z" fill="#ff0000" stroke="none" stroke-width="0" stroke-linejoin="miter"/>
<path d="M117.8 258.7L127.1 268L117.8 277.3L108.5 268Z" fill="#ff0000" stroke="none" stroke-width="0" stroke-linejoin="miter"/>
<path d="M120.2 258.7L129.5 268L120.2 277.3L110.9 268Z" fill="#ff0000" stroke="none" stroke-width="0" stroke-linejoin="miter"/>
<path d="M122.6 258.6L131.9 267.9L122.6 277.2L113.3 267.9Z" fill="#ff0000" stroke="none" stroke-width="0" stroke-linejoin="miter"/>
<path d="M125 258.5L134.3 267.8L125 277.1L115.7 267.8Z" fill="#ff0000" stroke="none" stroke-width="0" stroke-linejoin="miter"/>
<path d="M127.1 258.7L136.4 268L127.1 277.3L117.8 268Z" fill="#ff0000" stroke="none" stroke-width="0" stroke-linejoin="miter"/>
<path d="M129.3 259L138.6 268.3L129.3 277.6L120 268.3Z" fill="#ff0000" stroke="none" stroke-width="0" stroke-linejoin="miter"/>
<path d="M131.4 259.2L140.7 268.5L131.4 277.8L122.1 268.5Z" fill="#ff0000" stroke="none" stroke-width="0" stroke-linejoin="miter"/>
<path d="M133.6 259.5L142.9 268.8L133.6 278.1L124.3 268.8Z" fill="#ff0000" stroke="none" stroke-width="0" stroke-linejoin="miter"/>
<path d="M135.7 259.7L145 269L135.7 278.3L126.4 269Z" fill="#ff0000" stroke="none" stroke-width="0" stroke-linejoin="miter"/>
<path d="M137.9 260L147.2 269.3L137.9 278.6L128.6 269.3Z" fill="#ff0000" stroke="none" stroke-width="0" stroke-linejoin="miter"/>
<path d="M140 260.2L149.3 269.5L140 278.8L130.7 269.5Z" fill="#ff0000" stroke="none" stroke-width="0" stroke-linejoin="miter"/>
<path d="M142.3 260.6L151.6 269.9L142.3 279.2L133 269.9Z" fill="#ff0000" stroke="none" stroke-width="0" stroke-linejoin="miter"/>
<path d="M144.6 261.1L153.9 270.4L144.6 279.7L135.3 270.4Z" fill="#ff0000" stroke="none" stroke-width="0" stroke-linejoin="miter"/>
<path d="M146.9 261.5L156.2 270.8L146.9 280.1L137.6 270.8Z" fill="#ff0000" stroke="none" stroke-width="0" stroke-linejoin="miter"/>
<path d="M149.1 261.9L158.4 271.2L149.1 280.5L139.8 271.2Z" fill="#ff0000" stroke="none" stroke-width="0" stroke-linejoin="miter"/>
<path d="M151.4 262.3L160.7 271.6L151.4 280.9L142.1 271.6Z" fill="#ff0000" stroke="none" stroke-width="0" stroke-linejoin="miter"/>
<path d="M153.7 262.8L163 272.1L153.7 281.4L144.4 272.1Z" fill="#ff0000" stroke="none" stroke-width="0" stroke-linejoin="miter"/>
<path d="M156 263.2L165.3 272.5L156 281.8L146.7 272.5Z" fill="#ff0000" stroke="none" stroke-width="0" stroke-linejoin="miter"/>
<path d="M171 262.3L180.3 271.6L171 280.9L161.7 271.6Z" fill="#ff0000" stroke="none" stroke-width="0" stroke-linejoin="miter"/>
<path d="M189 263.5L198.3 272.8L189 282.1L179.7 272.8Z" fill="#ff0000" stroke="none" stroke-width="0" stroke-linejoin="miter"/>
<path d="M207 266.7L216.3 276L207 285.3L197.7 276Z" fill="#ff0000" stroke="none" stroke-width="0" stroke-linejoin="miter"/>
<path d="M225.7 269.3L235 278.6L225.7 287.9L216.4 278.6Z" fill="#ff0000" stroke="none" stroke-width="0" stroke-linejoin="miter"/>
<path d="M97.5 276.2L106.8 285.5L97.5 294.8L88.2 285.5Z" fill="#ff0000" stroke="none" stroke-width="0" stroke-linejoin="miter"/>
<path d="M115.5 280.7L124.8 290L115.5 299.3L106.2 290Z" fill="#ff0000" stroke="none" stroke-width="0" stroke-linejoin="miter"/>
<path d="M134.4 284.7L143.7 294L134.4 303.3L125.1 294Z" fill="#ff0000" stroke="none" stroke-width="0" stroke-linejoin="miter"/>
<path d="M150 286.7L159.3 296L150 305.3L140.7 296Z" fill="#ff0000" stroke="none" stroke-width="0" stroke-linejoin="miter"/>
<path d="M152 286.5L161.3 295.8L152 305.1L142.7 295.8Z" fill="#ff0000" stroke="none" stroke-width="0" stroke-linejoin="miter"/>
<path d="M154 286.4L163.3 295.7L154 305L144.7 295.7Z" fill="#ff0000" stroke="none" stroke-width="0" stroke-linejoin="miter"/>
<path d="M156 286.2L165.3 295.5L156 304.8L146.7 295.5Z" fill="#ff0000" stroke="none" stroke-width="0" stroke-linejoin="miter"/>
<path d="M158 286.1L167.3 295.4L158 304.7L148.7 295.4Z" fill="#ff0000" stroke="none" stroke-width="0" stroke-linejoin="miter"/>
<path d="M160 285.9L169.3 295.2L160 304.5L150.7 295.2Z" fill="#ff0000" stroke="none" stroke-width="0" stroke-linejoin="miter"/>
<path d="M162 285.5L171.3 294.8L162 304.1L152.7 294.8Z" fill="#ff0000" stroke="none" stroke-width="0" stroke-linejoin="miter"/>
<path d="M164 285.1L173.3 294.4L164 303.7L154.7 294.4Z" fill="#ff0000" stroke="none" stroke-width="0" stroke-linejoin="miter"/>
<path d="M166 284.7L175.3 294L166 303.3L156.7 294Z" fill="#ff0000" stroke="none" stroke-width="0" stroke-linejoin="miter"/>
<path d="M168 284.3L177.3 293.6L168 302.9L158.7 293.6Z" fill="#ff0000" stroke="none" stroke-width="0" stroke-linejoin="miter"/>
<path d="M170 283.9L179.3 293.2L170 302.5L160.7 293.2Z" fill="#ff0000" stroke="none" stroke-width="0" stroke-linejoin="miter"/>
<path d="M172 283.5L181.3 292.8L172 302.1L162.7 292.8Z" fill="#ff0000" stroke="none" stroke-width="0" stroke-linejoin="miter"/>
<path d="M174 283L183.3 292.3L174 301.6L164.7 292.3Z" fill="#ff0000" stroke="none" stroke-width="0" stroke-linejoin="miter"/>
<path d="M176 282.6L185.3 291.9L176 301.2L166.7 291.9Z" fill="#ff0000" stroke="none" stroke-width="0" stroke-linejoin="miter"/>
<path d="M178 282.1L187.3 291.4L178 300.7L168.7 291.4Z" fill="#ff0000" stroke="none" stroke-width="0" stroke-linejoin="miter"/>
<path d="M180 281.7L189.3 291L180 300.3L170.7 291Z" fill="#ff0000" stroke="none" stroke-width="0" stroke-linejoin="miter"/>
<path d="M182 281.3L191.3 290.6L182 299.9L172.7 290.6Z" fill="#ff0000" stroke="none" stroke-width="0" stroke-linejoin="miter"/>
<path d="M184 280.9L193.3 290.2L184 299.5L174.7 290.2Z" fill="#ff0000" stroke="none" stroke-width="0" stroke-linejoin="miter"/>
<path d="M186 280.5L195.3 289.8L186 299.1L176.7 289.8Z" fill="#ff0000" stroke="none" stroke-width="0" stroke-linejoin="miter"/>
<path d="M188 280.1L197.3 289.4L188 298.7L178.7 289.4Z" fill="#ff0000" stroke="none" stroke-width="0" stroke-linejoin="miter"/>
<path d="M190 279.7L199.3 289L190 298.3L180.7 289Z" fill="#ff0000" stroke="none" stroke-width="0" stroke-linejoin="miter"/>
<path d="M192 279.2L201.3 288.5L192 297.8L182.7 288.5Z" fill="#ff0000" stroke="none" stroke-width="0" stroke-linejoin="miter"/>
<path d="M194 278.7L203.3 288L194 297.3L184.7 288Z" fill="#ff0000" stroke="none" stroke-width="0" stroke-linejoin="miter"/>
<path d="M196 278.2L205.3 287.5L196 296.8L186.7 287.5Z" fill="#ff0000" stroke="none" stroke-width="0" stroke-linejoin="miter"/>
<path d="M211 276.2L220.3 285.5L211 294.8L201.7 285.5Z" fill="#ff0000" stroke="none" stroke-width="0" stroke-linejoin="miter"/>
<path d="M119 412.6L126.9 420.5L119 428.4L111.1 420.5Z" fill="#fff" stroke="#0000ff" stroke-width="2.9" stroke-linejoin="miter"/>
<path d="M122 412.7L129.9 420.6L122 428.5L114.1 420.6Z" fill="#fff" stroke="#0000ff" stroke-width="2.9" stroke-linejoin="miter"/>
<path d="M125 412.8L132.9 420.7L125 428.6L117.1 420.7Z" fill="#fff" stroke="#0000ff" stroke-width="2.9" stroke-linejoin="miter"/>
<path d="M128 412.9L135.9 420.8L128 428.7L120.1 420.8Z" fill="#fff" stroke="#0000ff" stroke-width="2.9" stroke-linejoin="miter"/>
<path d="M131 414L138.9 421.9L131 429.8L123.1 421.9Z" fill="#fff" stroke="#0000ff" stroke-width="2.9" stroke-linejoin="miter"/>
<path d="M134 415.1L141.9 423L134 430.9L126.1 423Z" fill="#fff" stroke="#0000ff" stroke-width="2.9" stroke-linejoin="miter"/>
<path d="M136.5 416.6L144.4 424.5L136.5 432.4L128.6 424.5Z" fill="#fff" stroke="#0000ff" stroke-width="2.9" stroke-linejoin="miter"/>
<path d="M139 418.1L146.9 426L139 433.9L131.1 426Z" fill="#fff" stroke="#0000ff" stroke-width="2.9" stroke-linejoin="miter"/>
<path d="M162.8 488L170.7 495.9L162.8 503.8L154.9 495.9Z" fill="#fff" stroke="#0000ff" stroke-width="2.9" stroke-linejoin="miter"/>
<path d="M165.4 489.2L173.3 497.1L165.4 505L157.5 497.1Z" fill="#fff" stroke="#0000ff" stroke-width="2.9" stroke-linejoin="miter"/>
<path d="M168 490.4L175.9 498.3L168 506.2L160.1 498.3Z" fill="#fff" stroke="#0000ff" stroke-width="2.9" stroke-linejoin="miter"/>
<path d="M170.7 491L178.6 498.9L170.7 506.8L162.8 498.9Z" fill="#fff" stroke="#0000ff" stroke-width="2.9" stroke-linejoin="miter"/>
<path d="M173.3 491.7L181.2 499.6L173.3 507.5L165.4 499.6Z" fill="#fff" stroke="#0000ff" stroke-width="2.9" stroke-linejoin="miter"/>
<path d="M176 492.3L183.9 500.2L176 508.1L168.1 500.2Z" fill="#fff" stroke="#0000ff" stroke-width="2.9" stroke-linejoin="miter"/>
<path d="M178.5 492.7L186.4 500.6L178.5 508.5L170.6 500.6Z" fill="#fff" stroke="#0000ff" stroke-width="2.9" stroke-linejoin="miter"/>
<path d="M181 493.1L188.9 500.9L181 508.8L173.1 500.9Z" fill="#fff" stroke="#0000ff" stroke-width="2.9" stroke-linejoin="miter"/>
<path d="M183.5 493.4L191.4 501.3L183.5 509.2L175.6 501.3Z" fill="#fff" stroke="#0000ff" stroke-width="2.9" stroke-linejoin="miter"/>
<path d="M186 493.8L193.9 501.7L186 509.6L178.1 501.7Z" fill="#fff" stroke="#0000ff" stroke-width="2.9" stroke-linejoin="miter"/>
<path d="M79.8 412.5L87.7 420.4L79.8 428.3L71.9 420.4Z" fill="#fff" stroke="#0000ff" stroke-width="2.9" stroke-linejoin="miter"/>
<path d="M97.3 412.5L105.2 420.4L97.3 428.3L89.4 420.4Z" fill="#fff" stroke="#0000ff" stroke-width="2.9" stroke-linejoin="miter"/>
<path d="M109 412.5L116.9 420.4L109 428.3L101.1 420.4Z" fill="#fff" stroke="#0000ff" stroke-width="2.9" stroke-linejoin="miter"/>
<path d="M115.7 412.8L123.6 420.7L115.7 428.6L107.8 420.7Z" fill="#fff" stroke="#0000ff" stroke-width="2.9" stroke-linejoin="miter"/>
<path d="M133.9 415.2L141.8 423.1L133.9 431L126 423.1Z" fill="#fff" stroke="#0000ff" stroke-width="2.9" stroke-linejoin="miter"/>
<path d="M143.8 422.7L151.7 430.6L143.8 438.5L135.9 430.6Z" fill="#fff" stroke="#0000ff" stroke-width="2.9" stroke-linejoin="miter"/>
<path d="M147.1 427.6L155 435.5L147.1 443.4L139.2 435.5Z" fill="#fff" stroke="#0000ff" stroke-width="2.9" stroke-linejoin="miter"/>
<path d="M149.6 432.6L157.5 440.5L149.6 448.4L141.7 440.5Z" fill="#fff" stroke="#0000ff" stroke-width="2.9" stroke-linejoin="miter"/>
<path d="M152.9 450L160.8 457.9L152.9 465.8L145 457.9Z" fill="#fff" stroke="#0000ff" stroke-width="2.9" stroke-linejoin="miter"/>
<path d="M155.4 474.7L163.3 482.6L155.4 490.5L147.5 482.6Z" fill="#fff" stroke="#0000ff" stroke-width="2.9" stroke-linejoin="miter"/>
<path d="M157.9 479.7L165.8 487.6L157.9 495.5L150 487.6Z" fill="#fff" stroke="#0000ff" stroke-width="2.9" stroke-linejoin="miter"/>
<path d="M160.3 484.7L168.2 492.6L160.3 500.5L152.4 492.6Z" fill="#fff" stroke="#0000ff" stroke-width="2.9" stroke-linejoin="miter"/>
<path d="M195.9 493.8L203.8 501.7L195.9 509.6L188 501.7Z" fill="#fff" stroke="#0000ff" stroke-width="2.9" stroke-linejoin="miter"/>
<path d="M209.7 492.8L217.6 500.7L209.7 508.6L201.8 500.7Z" fill="#fff" stroke="#0000ff" stroke-width="2.9" stroke-linejoin="miter"/>
<path d="M225.8 492.2L233.7 500.1L225.8 508L217.9 500.1Z" fill="#fff" stroke="#0000ff" stroke-width="2.9" stroke-linejoin="miter"/>
<path d="M508 411.6L515.9 419.5L508 427.4L500.1 419.5Z" fill="#fff" stroke="#0000ff" stroke-width="2.9" stroke-linejoin="miter"/>
<path d="M510.5 411.7L518.4 419.6L510.5 427.5L502.6 419.6Z" fill="#fff" stroke="#0000ff" stroke-width="2.9" stroke-linejoin="miter"/>
<path d="M513 411.9L520.9 419.8L513 427.6L505.1 419.8Z" fill="#fff" stroke="#0000ff" stroke-width="2.9" stroke-linejoin="miter"/>
<path d="M515.5 412L523.4 419.9L515.5 427.8L507.6 419.9Z" fill="#fff" stroke="#0000ff" stroke-width="2.9" stroke-linejoin="miter"/>
<path d="M518 412.1L525.9 420L518 427.9L510.1 420Z" fill="#fff" stroke="#0000ff" stroke-width="2.9" stroke-linejoin="miter"/>
<path d="M521 412.5L528.9 420.4L521 428.2L513.1 420.4Z" fill="#fff" stroke="#0000ff" stroke-width="2.9" stroke-linejoin="miter"/>
<path d="M524 412.8L531.9 420.7L524 428.6L516.1 420.7Z" fill="#fff" stroke="#0000ff" stroke-width="2.9" stroke-linejoin="miter"/>
<path d="M526 413.7L533.9 421.6L526 429.5L518.1 421.6Z" fill="#fff" stroke="#0000ff" stroke-width="2.9" stroke-linejoin="miter"/>
<path d="M528 414.7L535.9 422.6L528 430.5L520.1 422.6Z" fill="#fff" stroke="#0000ff" stroke-width="2.9" stroke-linejoin="miter"/>
<path d="M530 415.6L537.9 423.5L530 431.4L522.1 423.5Z" fill="#fff" stroke="#0000ff" stroke-width="2.9" stroke-linejoin="miter"/>
<path d="M551.2 485.5L559.1 493.4L551.2 501.3L543.3 493.4Z" fill="#fff" stroke="#0000ff" stroke-width="2.9" stroke-linejoin="miter"/>
<path d="M553.6 487.1L561.5 494.9L553.6 502.8L545.7 494.9Z" fill="#fff" stroke="#0000ff" stroke-width="2.9" stroke-linejoin="miter"/>
<path d="M556 488.6L563.9 496.5L556 504.4L548.1 496.5Z" fill="#fff" stroke="#0000ff" stroke-width="2.9" stroke-linejoin="miter"/>
<path d="M558.7 489.3L566.6 497.2L558.7 505.1L550.8 497.2Z" fill="#fff" stroke="#0000ff" stroke-width="2.9" stroke-linejoin="miter"/>
<path d="M561.3 489.9L569.2 497.8L561.3 505.7L553.4 497.8Z" fill="#fff" stroke="#0000ff" stroke-width="2.9" stroke-linejoin="miter"/>
<path d="M564 490.6L571.9 498.5L564 506.4L556.1 498.5Z" fill="#fff" stroke="#0000ff" stroke-width="2.9" stroke-linejoin="miter"/>
<path d="M566.4 490.9L574.3 498.8L566.4 506.7L558.5 498.8Z" fill="#fff" stroke="#0000ff" stroke-width="2.9" stroke-linejoin="miter"/>
<path d="M568.8 491.2L576.7 499.1L568.8 507L560.9 499.1Z" fill="#fff" stroke="#0000ff" stroke-width="2.9" stroke-linejoin="miter"/>
<path d="M571.2 491.5L579.1 499.4L571.2 507.3L563.3 499.4Z" fill="#fff" stroke="#0000ff" stroke-width="2.9" stroke-linejoin="miter"/>
<path d="M573.6 491.8L581.5 499.7L573.6 507.6L565.7 499.7Z" fill="#fff" stroke="#0000ff" stroke-width="2.9" stroke-linejoin="miter"/>
<path d="M576 492.1L583.9 500L576 507.9L568.1 500Z" fill="#fff" stroke="#0000ff" stroke-width="2.9" stroke-linejoin="miter"/>
<path d="M467.7 412.4L475.6 420.3L467.7 428.2L459.8 420.3Z" fill="#fff" stroke="#0000ff" stroke-width="2.9" stroke-linejoin="miter"/>
<path d="M486 412.1L493.9 420L486 427.9L478.1 420Z" fill="#fff" stroke="#0000ff" stroke-width="2.9" stroke-linejoin="miter"/>
<path d="M498.4 411.9L506.3 419.8L498.4 427.7L490.5 419.8Z" fill="#fff" stroke="#0000ff" stroke-width="2.9" stroke-linejoin="miter"/>
<path d="M504.9 411.6L512.8 419.5L504.9 427.4L497 419.5Z" fill="#fff" stroke="#0000ff" stroke-width="2.9" stroke-linejoin="miter"/>
<path d="M523.9 412.8L531.8 420.7L523.9 428.6L516 420.7Z" fill="#fff" stroke="#0000ff" stroke-width="2.9" stroke-linejoin="miter"/>
<path d="M534.6 419.4L542.5 427.3L534.6 435.2L526.7 427.3Z" fill="#fff" stroke="#0000ff" stroke-width="2.9" stroke-linejoin="miter"/>
<path d="M538.8 429.3L546.7 437.2L538.8 445.1L530.9 437.2Z" fill="#fff" stroke="#0000ff" stroke-width="2.9" stroke-linejoin="miter"/>
<path d="M542.1 459L550 466.9L542.1 474.8L534.2 466.9Z" fill="#fff" stroke="#0000ff" stroke-width="2.9" stroke-linejoin="miter"/>
<path d="M545.4 475.6L553.3 483.5L545.4 491.4L537.5 483.5Z" fill="#fff" stroke="#0000ff" stroke-width="2.9" stroke-linejoin="miter"/>
<path d="M547.9 480.5L555.8 488.4L547.9 496.3L540 488.4Z" fill="#fff" stroke="#0000ff" stroke-width="2.9" stroke-linejoin="miter"/>
<path d="M586.7 492.1L594.6 500L586.7 507.9L578.8 500Z" fill="#fff" stroke="#0000ff" stroke-width="2.9" stroke-linejoin="miter"/>
<path d="M600.6 491.1L608.5 499L600.6 506.9L592.7 499Z" fill="#fff" stroke="#0000ff" stroke-width="2.9" stroke-linejoin="miter"/>
<path d="M616.6 490.3L624.5 498.2L616.6 506.1L608.7 498.2Z" fill="#fff" stroke="#0000ff" stroke-width="2.9" stroke-linejoin="miter"/>
<path d="M467.9 622.7L477.2 632L467.9 641.3L458.6 632Z" fill="#ff0000" stroke="none" stroke-width="0" stroke-linejoin="miter"/>
<path d="M467.9 626.2L477.2 635.5L467.9 644.8L458.6 635.5Z" fill="#ff0000" stroke="none" stroke-width="0" stroke-linejoin="miter"/>
<path d="M482.9 617.2L492.2 626.5L482.9 635.8L473.6 626.5Z" fill="#ff0000" stroke="none" stroke-width="0" stroke-linejoin="miter"/>
<path d="M497.2 615.1L506.5 624.4L497.2 633.7L487.9 624.4Z" fill="#ff0000" stroke="none" stroke-width="0" stroke-linejoin="miter"/>
<path d="M502 614.2L511.3 623.5L502 632.8L492.7 623.5Z" fill="#ff0000" stroke="none" stroke-width="0" stroke-linejoin="miter"/>
<path d="M504.2 614L513.5 623.3L504.2 632.6L494.9 623.3Z" fill="#ff0000" stroke="none" stroke-width="0" stroke-linejoin="miter"/>
<path d="M506.3 613.9L515.6 623.2L506.3 632.5L497 623.2Z" fill="#ff0000" stroke="none" stroke-width="0" stroke-linejoin="miter"/>
<path d="M508.5 613.7L517.8 623L508.5 632.3L499.2 623Z" fill="#ff0000" stroke="none" stroke-width="0" stroke-linejoin="miter"/>
<path d="M510.7 613.5L520 622.8L510.7 632.1L501.4 622.8Z" fill="#ff0000" stroke="none" stroke-width="0" stroke-linejoin="miter"/>
<path d="M512.8 613.4L522.1 622.7L512.8 632L503.5 622.7Z" fill="#ff0000" stroke="none" stroke-width="0" stroke-linejoin="miter"/>
<path d="M515 613.2L524.3 622.5L515 631.8L505.7 622.5Z" fill="#ff0000" stroke="none" stroke-width="0" stroke-linejoin="miter"/>
<path d="M517.1 613L526.4 622.3L517.1 631.6L507.8 622.3Z" fill="#ff0000" stroke="none" stroke-width="0" stroke-linejoin="miter"/>
<path d="M519.3 612.8L528.6 622.1L519.3 631.4L510 622.1Z" fill="#ff0000" stroke="none" stroke-width="0" stroke-linejoin="miter"/>
<path d="M521.4 612.6L530.7 621.9L521.4 631.2L512.1 621.9Z" fill="#ff0000" stroke="none" stroke-width="0" stroke-linejoin="miter"/>
<path d="M523.6 612.3L532.9 621.6L523.6 630.9L514.3 621.6Z" fill="#ff0000" stroke="none" stroke-width="0" stroke-linejoin="miter"/>
<path d="M525.7 612.1L535 621.4L525.7 630.7L516.4 621.4Z" fill="#ff0000" stroke="none" stroke-width="0" stroke-linejoin="miter"/>
<path d="M527.9 611.9L537.2 621.2L527.9 630.5L518.6 621.2Z" fill="#ff0000" stroke="none" stroke-width="0" stroke-linejoin="miter"/>
<path d="M530 611.7L539.3 621L530 630.3L520.7 621Z" fill="#ff0000" stroke="none" stroke-width="0" stroke-linejoin="miter"/>
<path d="M543.7 609L553 618.3L543.7 627.6L534.4 618.3Z" fill="#ff0000" stroke="none" stroke-width="0" stroke-linejoin="miter"/>
<path d="M560.5 609L569.8 618.3L560.5 627.6L551.2 618.3Z" fill="#ff0000" stroke="none" stroke-width="0" stroke-linejoin="miter"/>
<path d="M578.8 611.7L588.1 621L578.8 630.3L569.5 621Z" fill="#ff0000" stroke="none" stroke-width="0" stroke-linejoin="miter"/>
<path d="M597.4 615.4L606.7 624.7L597.4 634L588.1 624.7Z" fill="#ff0000" stroke="none" stroke-width="0" stroke-linejoin="miter"/>
<path d="M616 620.7L625.3 630L616 639.3L606.7 630Z" fill="#ff0000" stroke="none" stroke-width="0" stroke-linejoin="miter"/>
<path d="M486.5 626.7L495.8 636L486.5 645.3L477.2 636Z" fill="#ff0000" stroke="none" stroke-width="0" stroke-linejoin="miter"/>
<path d="M504.4 629.7L513.7 639L504.4 648.3L495.1 639Z" fill="#ff0000" stroke="none" stroke-width="0" stroke-linejoin="miter"/>
<path d="M524 633.3L533.3 642.6L524 651.9L514.7 642.6Z" fill="#ff0000" stroke="none" stroke-width="0" stroke-linejoin="miter"/>
<path d="M542 632.2L551.3 641.5L542 650.8L532.7 641.5Z" fill="#ff0000" stroke="none" stroke-width="0" stroke-linejoin="miter"/>
<path d="M546 631.7L555.3 641L546 650.3L536.7 641Z" fill="#ff0000" stroke="none" stroke-width="0" stroke-linejoin="miter"/>
<path d="M548.3 631.3L557.6 640.6L548.3 649.9L539 640.6Z" fill="#ff0000" stroke="none" stroke-width="0" stroke-linejoin="miter"/>
<path d="M550.7 631L560 640.3L550.7 649.6L541.4 640.3Z" fill="#ff0000" stroke="none" stroke-width="0" stroke-linejoin="miter"/>
<path d="M553 630.6L562.3 639.9L553 649.2L543.7 639.9Z" fill="#ff0000" stroke="none" stroke-width="0" stroke-linejoin="miter"/>
<path d="M555.3 630.2L564.6 639.5L555.3 648.8L546 639.5Z" fill="#ff0000" stroke="none" stroke-width="0" stroke-linejoin="miter"/>
<path d="M557.7 629.9L567 639.2L557.7 648.5L548.4 639.2Z" fill="#ff0000" stroke="none" stroke-width="0" stroke-linejoin="miter"/>
<path d="M560 629.5L569.3 638.8L560 648.1L550.7 638.8Z" fill="#ff0000" stroke="none" stroke-width="0" stroke-linejoin="miter"/>
<path d="M562.1 629.2L571.4 638.5L562.1 647.8L552.8 638.5Z" fill="#ff0000" stroke="none" stroke-width="0" stroke-linejoin="miter"/>
<path d="M564.3 628.9L573.6 638.2L564.3 647.5L555 638.2Z" fill="#ff0000" stroke="none" stroke-width="0" stroke-linejoin="miter"/>
<path d="M566.4 628.6L575.7 637.9L566.4 647.2L557.1 637.9Z" fill="#ff0000" stroke="none" stroke-width="0" stroke-linejoin="miter"/>
<path d="M568.6 628.4L577.9 637.7L568.6 647L559.3 637.7Z" fill="#ff0000" stroke="none" stroke-width="0" stroke-linejoin="miter"/>
<path d="M570.7 628.1L580 637.4L570.7 646.7L561.4 637.4Z" fill="#ff0000" stroke="none" stroke-width="0" stroke-linejoin="miter"/>
<path d="M572.9 627.8L582.2 637.1L572.9 646.4L563.6 637.1Z" fill="#ff0000" stroke="none" stroke-width="0" stroke-linejoin="miter"/>
<path d="M575 627.5L584.3 636.8L575 646.1L565.7 636.8Z" fill="#ff0000" stroke="none" stroke-width="0" stroke-linejoin="miter"/>
<path d="M577.2 627.3L586.5 636.6L577.2 645.9L567.9 636.6Z" fill="#ff0000" stroke="none" stroke-width="0" stroke-linejoin="miter"/>
<path d="M579.4 627L588.7 636.3L579.4 645.6L570.1 636.3Z" fill="#ff0000" stroke="none" stroke-width="0" stroke-linejoin="miter"/>
<path d="M581.6 626.8L590.9 636.1L581.6 645.4L572.3 636.1Z" fill="#ff0000" stroke="none" stroke-width="0" stroke-linejoin="miter"/>
<path d="M583.8 626.5L593.1 635.8L583.8 645.1L574.5 635.8Z" fill="#ff0000" stroke="none" stroke-width="0" stroke-linejoin="miter"/>
<path d="M586 626.3L595.3 635.6L586 644.9L576.7 635.6Z" fill="#ff0000" stroke="none" stroke-width="0" stroke-linejoin="miter"/>
<path d="M602.7 625.1L612 634.4L602.7 643.7L593.4 634.4Z" fill="#ff0000" stroke="none" stroke-width="0" stroke-linejoin="miter"/>
<path d="M549 651.2L558.3 660.5L549 669.8L539.7 660.5Z" fill="#ff0000" stroke="none" stroke-width="0" stroke-linejoin="miter"/>
<polyline points="418,272 400,272.5 381.8,273 363.6,271 345.5,271 341,275 338,281 334,301.5 330.3,341.5 327.3,431 323.5,503.2 319.7,596.4 316.6,630.7 313,635 308.6,645 300.7,641 289.6,640 272.8,645" fill="none" stroke="#ff0000" stroke-width="2.2" stroke-linejoin="round"/>
<polyline points="272.8,645 291,642 308.6,645 327,644 343.5,643 346.7,641.8 350,640 353,632 356,610.7 360,563 363,466.8 366.7,389.4 370.6,297 374,278 381.8,274 389.4,275 401.5,272 410,273 418,272" fill="none" stroke="#ff0000" stroke-width="2.2" stroke-linejoin="round"/>
<path d="M418 262.7L427.3 272L418 281.3L408.7 272Z" fill="#ff0000" stroke="none" stroke-width="0" stroke-linejoin="miter"/>
<path d="M400 263.2L409.3 272.5L400 281.8L390.7 272.5Z" fill="#ff0000" stroke="none" stroke-width="0" stroke-linejoin="miter"/>
<path d="M381.8 263.7L391.1 273L381.8 282.3L372.5 273Z" fill="#ff0000" stroke="none" stroke-width="0" stroke-linejoin="miter"/>
<path d="M363.6 261.7L372.9 271L363.6 280.3L354.3 271Z" fill="#ff0000" stroke="none" stroke-width="0" stroke-linejoin="miter"/>
<path d="M345.5 261.7L354.8 271L345.5 280.3L336.2 271Z" fill="#ff0000" stroke="none" stroke-width="0" stroke-linejoin="miter"/>
<path d="M341 265.7L350.3 275L341 284.3L331.7 275Z" fill="#ff0000" stroke="none" stroke-width="0" stroke-linejoin="miter"/>
<path d="M338 271.7L347.3 281L338 290.3L328.7 281Z" fill="#ff0000" stroke="none" stroke-width="0" stroke-linejoin="miter"/>
<path d="M334 292.2L343.3 301.5L334 310.8L324.7 301.5Z" fill="#ff0000" stroke="none" stroke-width="0" stroke-linejoin="miter"/>
<path d="M330.3 332.2L339.6 341.5L330.3 350.8L321 341.5Z" fill="#ff0000" stroke="none" stroke-width="0" stroke-linejoin="miter"/>
<path d="M327.3 421.7L336.6 431L327.3 440.3L318 431Z" fill="#ff0000" stroke="none" stroke-width="0" stroke-linejoin="miter"/>
<path d="M323.5 493.9L332.8 503.2L323.5 512.5L314.2 503.2Z" fill="#ff0000" stroke="none" stroke-width="0" stroke-linejoin="miter"/>
<path d="M319.7 587.1L329 596.4L319.7 605.7L310.4 596.4Z" fill="#ff0000" stroke="none" stroke-width="0" stroke-linejoin="miter"/>
<path d="M316.6 621.4L325.9 630.7L316.6 640L307.3 630.7Z" fill="#ff0000" stroke="none" stroke-width="0" stroke-linejoin="miter"/>
<path d="M313 625.7L322.3 635L313 644.3L303.7 635Z" fill="#ff0000" stroke="none" stroke-width="0" stroke-linejoin="miter"/>
<path d="M308.6 635.7L317.9 645L308.6 654.3L299.3 645Z" fill="#ff0000" stroke="none" stroke-width="0" stroke-linejoin="miter"/>
<path d="M300.7 631.7L310 641L300.7 650.3L291.4 641Z" fill="#ff0000" stroke="none" stroke-width="0" stroke-linejoin="miter"/>
<path d="M289.6 630.7L298.9 640L289.6 649.3L280.3 640Z" fill="#ff0000" stroke="none" stroke-width="0" stroke-linejoin="miter"/>
<path d="M272.8 635.7L282.1 645L272.8 654.3L263.5 645Z" fill="#ff0000" stroke="none" stroke-width="0" stroke-linejoin="miter"/>
<path d="M272.8 635.7L282.1 645L272.8 654.3L263.5 645Z" fill="#ff0000" stroke="none" stroke-width="0" stroke-linejoin="miter"/>
<path d="M291 632.7L300.3 642L291 651.3L281.7 642Z" fill="#ff0000" stroke="none" stroke-width="0" stroke-linejoin="miter"/>
<path d="M308.6 635.7L317.9 645L308.6 654.3L299.3 645Z" fill="#ff0000" stroke="none" stroke-width="0" stroke-linejoin="miter"/>
<path d="M327 634.7L336.3 644L327 653.3L317.7 644Z" fill="#ff0000" stroke="none" stroke-width="0" stroke-linejoin="miter"/>
<path d="M343.5 633.7L352.8 643L343.5 652.3L334.2 643Z" fill="#ff0000" stroke="none" stroke-width="0" stroke-linejoin="miter"/>
<path d="M346.7 632.5L356 641.8L346.7 651.1L337.4 641.8Z" fill="#ff0000" stroke="none" stroke-width="0" stroke-linejoin="miter"/>
<path d="M350 630.7L359.3 640L350 649.3L340.7 640Z" fill="#ff0000" stroke="none" stroke-width="0" stroke-linejoin="miter"/>
<path d="M353 622.7L362.3 632L353 641.3L343.7 632Z" fill="#ff0000" stroke="none" stroke-width="0" stroke-linejoin="miter"/>
<path d="M356 601.4L365.3 610.7L356 620L346.7 610.7Z" fill="#ff0000" stroke="none" stroke-width="0" stroke-linejoin="miter"/>
<path d="M360 553.7L369.3 563L360 572.3L350.7 563Z" fill="#ff0000" stroke="none" stroke-width="0" stroke-linejoin="miter"/>
<path d="M363 457.5L372.3 466.8L363 476.1L353.7 466.8Z" fill="#ff0000" stroke="none" stroke-width="0" stroke-linejoin="miter"/>
<path d="M366.7 380.1L376 389.4L366.7 398.7L357.4 389.4Z" fill="#ff0000" stroke="none" stroke-width="0" stroke-linejoin="miter"/>
<path d="M370.6 287.7L379.9 297L370.6 306.3L361.3 297Z" fill="#ff0000" stroke="none" stroke-width="0" stroke-linejoin="miter"/>
<path d="M374 268.7L383.3 278L374 287.3L364.7 278Z" fill="#ff0000" stroke="none" stroke-width="0" stroke-linejoin="miter"/>
<path d="M381.8 264.7L391.1 274L381.8 283.3L372.5 274Z" fill="#ff0000" stroke="none" stroke-width="0" stroke-linejoin="miter"/>
<path d="M389.4 265.7L398.7 275L389.4 284.3L380.1 275Z" fill="#ff0000" stroke="none" stroke-width="0" stroke-linejoin="miter"/>
<path d="M401.5 262.7L410.8 272L401.5 281.3L392.2 272Z" fill="#ff0000" stroke="none" stroke-width="0" stroke-linejoin="miter"/>
<path d="M410 263.7L419.3 273L410 282.3L400.7 273Z" fill="#ff0000" stroke="none" stroke-width="0" stroke-linejoin="miter"/>
<path d="M418 262.7L427.3 272L418 281.3L408.7 272Z" fill="#ff0000" stroke="none" stroke-width="0" stroke-linejoin="miter"/>
<text y="325.2" font-size="24.5" font-family='"Liberation Sans", sans-serif' fill="#000"><tspan x="163.8">H</tspan><tspan x="189" font-size="17">⊥</tspan><tspan x="211" font-style="italic">c</tspan></text>
<text y="606" font-size="24.5" font-family='"Liberation Sans", sans-serif' fill="#000"><tspan x="547.3">H</tspan><tspan x="572.5" font-size="17">⊥</tspan><tspan x="594.5" font-style="italic">c</tspan></text>
<text y="339.3" font-size="24.5" font-family='"Liberation Sans", sans-serif' fill="#000"><tspan x="351.2">H</tspan><tspan x="374.5" font-size="24.5">II</tspan><tspan x="393.8" font-style="italic">c</tspan></text>
<path d="M190.5 573.9L199 582.4L190.5 590.9L182 582.4Z" fill="none" stroke="#0000ff" stroke-width="2.8" stroke-linejoin="miter"/>
<path d="M190.5 609.5L199.8 618.8L190.5 628.1L181.2 618.8Z" fill="#ff0000" stroke="none" stroke-width="0" stroke-linejoin="miter"/>
<text x="228" y="591" font-size="23.5" font-family='"Liberation Sans", sans-serif'>ρ<tspan font-size="18" dy="8">zx</tspan></text>
<text x="228" y="627.4" font-size="23.5" font-family='"Liberation Sans", sans-serif'>ρ<tspan font-size="18" dy="8">yx</tspan></text></g>
<rect x="452" y="616" width="12" height="36" fill="#fff"/>
<g id="hexagon"><path d="M62.6 615.4L78.7 594.2L110 594.2L125.2 615.4L110 637.4L78.7 637.4Z" fill="none" stroke="#555" stroke-width="1.1"/>
<path d="M93.9 615.4V588 M93.9 615.4H130" stroke="#222" stroke-width="1.1" stroke-dasharray="6.5 3" fill="none"/>
<path d="M93.9 582.5L96.6 589L91.2 589Z M136 615.4L129.5 612.7L129.5 618.1Z" fill="#111"/>
<text x="84" y="581" font-size="11.5" text-anchor="start" fill="#222" font-family='"DejaVu Sans", "Liberation Sans", sans-serif' >[01-10]</text>
<text x="125.5" y="629.5" font-size="11.5" text-anchor="start" fill="#222" font-family='"DejaVu Sans", "Liberation Sans", sans-serif' >[2-1-10]</text>
<text x="101.5" y="588.5" font-size="12.5" text-anchor="start" fill="#222" font-family='"DejaVu Sans", "Liberation Sans", sans-serif' >y</text>
<text x="141.5" y="619" font-size="12.5" text-anchor="start" fill="#222" font-family='"DejaVu Sans", "Liberation Sans", sans-serif' >x</text>
<text x="87.5" y="624" font-size="12.5" text-anchor="start" fill="#222" font-family='"DejaVu Sans", "Liberation Sans", sans-serif' >z</text></g>
<g id="stars"><g filter="url(#soft)"><path d="M86.7 366.6L130.8 366.6L108.6 404.6Z" fill="none" stroke="#f08a8a" stroke-width="0.9"/>
<path d="M108.6 355.2L87.6 391.4L131 392.3Z" fill="none" stroke="#8a9af5" stroke-width="0.9"/>
<path d="M96 355.2L117.5 355.2" stroke="#1a3ae0" stroke-width="1.6" fill="none"/><path d="M121.7 355.2L117.5 357.8L117.5 352.6Z" fill="#1a3ae0"/>
<path d="M96 404.6L117.5 404.6" stroke="#e01818" stroke-width="1.6" fill="none"/><path d="M121.7 404.6L117.5 407.2L117.5 402Z" fill="#e01818"/>
<path d="M93 377.4L81.9 358.8" stroke="#e01818" stroke-width="1.6" fill="none"/><path d="M79.7 355.2L84.1 357.5L79.6 360.1Z" fill="#e01818"/>
<path d="M136.7 355L126.1 373.7" stroke="#e01818" stroke-width="1.6" fill="none"/><path d="M124 377.4L123.8 372.5L128.3 375Z" fill="#e01818"/>
<path d="M93.7 381L83.4 399.3" stroke="#1a3ae0" stroke-width="1.6" fill="none"/><path d="M81.4 403L81.2 398.1L85.7 400.6Z" fill="#1a3ae0"/>
<path d="M138 403L126.2 385.5" stroke="#1a3ae0" stroke-width="1.6" fill="none"/><path d="M123.8 382L128.3 384L124 386.9Z" fill="#1a3ae0"/>
<circle cx="86.7" cy="366.6" r="4" fill="#e01818" stroke="none" stroke-width="0"/>
<circle cx="130.8" cy="366.6" r="4" fill="#e01818" stroke="none" stroke-width="0"/>
<circle cx="108.6" cy="404.6" r="4" fill="#e01818" stroke="none" stroke-width="0"/>
<circle cx="108.6" cy="355.2" r="4" fill="#1a3ae0" stroke="none" stroke-width="0"/>
<circle cx="108.2" cy="354.8" r="1.4" fill="#5a78f0" stroke="none" stroke-width="0"/>
<circle cx="87.6" cy="391.4" r="4" fill="#1a3ae0" stroke="none" stroke-width="0"/>
<circle cx="87.2" cy="391" r="1.4" fill="#5a78f0" stroke="none" stroke-width="0"/>
<circle cx="131" cy="392.3" r="4" fill="#1a3ae0" stroke="none" stroke-width="0"/>
<circle cx="130.6" cy="391.9" r="1.4" fill="#5a78f0" stroke="none" stroke-width="0"/></g><g filter="url(#soft)"><path d="M224.6 518.6L269.8 518.6L247.6 559Z" fill="none" stroke="#f08a8a" stroke-width="0.9"/>
<path d="M247.6 506.7L224.6 546.4L270.4 544.3Z" fill="none" stroke="#8a9af5" stroke-width="0.9"/>
<path d="M260.5 506.7L238.2 506.7" stroke="#1a3ae0" stroke-width="1.6" fill="none"/><path d="M234 506.7L238.2 504.1L238.2 509.3Z" fill="#1a3ae0"/>
<path d="M260.5 559L238.2 559" stroke="#e01818" stroke-width="1.6" fill="none"/><path d="M234 559L238.2 556.4L238.2 561.6Z" fill="#e01818"/>
<path d="M217.9 507.5L229.8 526.7" stroke="#e01818" stroke-width="1.6" fill="none"/><path d="M232 530.3L227.6 528.1L232 525.4Z" fill="#e01818"/>
<path d="M264 530.3L275.1 510.9" stroke="#e01818" stroke-width="1.6" fill="none"/><path d="M277.2 507.3L277.4 512.2L272.9 509.6Z" fill="#e01818"/>
<path d="M218 557.8L229.7 538.6" stroke="#1a3ae0" stroke-width="1.6" fill="none"/><path d="M231.9 535L231.9 539.9L227.5 537.2Z" fill="#1a3ae0"/>
<path d="M264 533L276.2 552.8" stroke="#1a3ae0" stroke-width="1.6" fill="none"/><path d="M278.4 556.4L274 554.2L278.4 551.5Z" fill="#1a3ae0"/>
<circle cx="224.6" cy="518.6" r="4" fill="#e01818" stroke="none" stroke-width="0"/>
<circle cx="269.8" cy="518.6" r="4" fill="#e01818" stroke="none" stroke-width="0"/>
<circle cx="247.6" cy="559" r="4" fill="#e01818" stroke="none" stroke-width="0"/>
<circle cx="247.6" cy="506.7" r="4" fill="#1a3ae0" stroke="none" stroke-width="0"/>
<circle cx="247.2" cy="506.3" r="1.4" fill="#5a78f0" stroke="none" stroke-width="0"/>
<circle cx="224.6" cy="546.4" r="4" fill="#1a3ae0" stroke="none" stroke-width="0"/>
<circle cx="224.2" cy="546" r="1.4" fill="#5a78f0" stroke="none" stroke-width="0"/>
<circle cx="270.4" cy="544.3" r="4" fill="#1a3ae0" stroke="none" stroke-width="0"/>
<circle cx="270" cy="543.9" r="1.4" fill="#5a78f0" stroke="none" stroke-width="0"/></g></g>
<g id="photo"><g clip-path="url(#pclip)">
<rect x="437" y="254" width="184" height="135" fill="url(#pgreen)"/>
<path d="M560 248L600 248L575 262L552 274L545 270Z" fill="#4f9485" filter="url(#pblur3)"/>
<g filter="url(#pblur)">
<path d="M594 248L627 248L627 334L570 334L560 300L547 276Z" fill="#8d99a5"/>
<path d="M600 248L627 248L627 300L606 290Z" fill="#9ba6b0"/>
<path d="M575 300L627 296L627 330L570 330Z" fill="#87929b"/>
</g>
<g filter="url(#pblur2)">
<path d="M433 288L449 288.3L456 293.5L463 300L470 308L490 333L507 353L507 357L433 376Z" fill="#7e8894"/>
<path d="M433 300L455 304L470 326L478 346L433 356Z" fill="#87919c"/>
<path d="M433 292L452 294L452 297L433 297Z" fill="#9c9a6c"/>
<path d="M433 372L507 353L508 358L492 365L433 392Z" fill="#5d857b"/>
<path d="M433 371.5L507 352.5L507 355L433 375Z" fill="#aeb8b4"/>
<path d="M433 380L490 362.5L491 364.5L433 383Z" fill="#1f3a33"/>
<path d="M433 386L480 371L481 373L433 389Z" fill="#27423a"/>
<path d="M490 331L507 352L507 357L490 347Z" fill="#8d9793"/>
<path d="M562 322L627 314L627 350L573 361L566 345Z" fill="#6f8179"/>
<path d="M563 321L627 313L627 330L596 337L567 330Z" fill="#8b979c"/>
<path d="M567 329L596 336L627 330L627 333L578 345L570 340Z" fill="#77857f"/>
<path d="M574 344.5L627 330.5L627 338L576 351Z" fill="#3f8a72"/>
<path d="M575 351L627 338L627 340L576 353Z" fill="#20352e"/>
<path d="M570 353L627 340.5L627 351L573 360Z" fill="#5f877a"/>
<path d="M572 360L627 351L627 353L573 362Z" fill="#2a463c"/>
<path d="M469.5 298L486 292L530 279.5L556 272.5L560 279L575 305L574 307L535 318L491 331L472 311Z" fill="#1d2422"/>
<path d="M556 274L561 281L575 305L570 312L556 300Z" fill="#3f4c46"/>
<path d="M491 331L535 318L574 306L576 316L536 331L492 346L489 339Z" fill="#9fa8a4"/>
<path d="M492 339L536 325L575 311L576 316L536 331L492 346Z" fill="#76817c"/>
<path d="M472 311L491 331L492 346L485 340L477 323Z" fill="#454a47"/>
</g>
<path d="M469.5 298L486 292L530 279.5L556 272.5L575 305L576 316L536 331L492 346L472 311Z" fill="#cfd6d2" filter="url(#speck)" opacity="0.4"/>
<g filter="url(#pblur2)">
<path d="M540 294L549 290L552 297L544 301Z" fill="#5d6662"/>
<path d="M497 252L496.7 268L495 284" stroke="#58a034" stroke-width="5.5" fill="none"/>
<path d="M499 252L498.5 268L497 282" stroke="#3fc23f" stroke-width="1" fill="none"/>
<path d="M512 252L512.6 300L516.5 322" stroke="#cdb83c" stroke-width="4.6" fill="none"/>
<path d="M510 252L510.5 300" stroke="#e0812a" stroke-width="1.1" fill="none"/>
<path d="M514.4 252L514.9 300L518 320" stroke="#7fbf3a" stroke-width="1" fill="none"/>
<path d="M477 321L482 352L487.5 372L493 392" stroke="#f04a35" stroke-width="6.4" fill="none" stroke-linecap="round"/>
<path d="M576.5 302L583.5 310.3L593 313L605.7 306.8L614 307.5L619.5 317L621.5 330" stroke="#d84030" stroke-width="4.2" fill="none" stroke-linejoin="round"/>
<path d="M546 316L552 338L563.4 366.5L579 391" stroke="#7660a8" stroke-width="4.2" fill="none" stroke-linejoin="round"/>
<path d="M544.6 334L556 356L563 366.5" stroke="#8a74bc" stroke-width="3" fill="none"/>
<path d="M563.4 366.5L555.7 373.5L542 379L534 388" stroke="#8770b8" stroke-width="5" fill="none" stroke-linejoin="round" stroke-linecap="round"/>
<ellipse cx="571.3" cy="289" rx="14" ry="12.6" fill="#d6ab9b"/>
<ellipse cx="568" cy="286" rx="8" ry="7" fill="#e2bfae"/>
<path d="M573 297L580 305L576 306L568 300Z" fill="#d39f8e"/>
<ellipse cx="476" cy="313.5" rx="8.3" ry="8" fill="#d6a7a2"/>
<ellipse cx="475" cy="311.5" rx="4.5" ry="4" fill="#e4bfba"/>
<circle cx="464.8" cy="302.6" r="2.3" fill="#c0603a"/>
<circle cx="560" cy="341.6" r="1.6" fill="#c9703a"/>
<ellipse cx="494.6" cy="286.7" rx="6.6" ry="7.6" fill="#a4d99c"/>
<ellipse cx="517" cy="326.5" rx="6.3" ry="6" fill="#8ecb89"/>
<ellipse cx="546" cy="313.7" rx="7.6" ry="6.8" fill="#8d86c8"/>
<ellipse cx="544.6" cy="334" rx="4.4" ry="4.2" fill="#9890d0"/>
<circle cx="563.4" cy="366.5" r="3.6" fill="#a793d4"/>
</g>
<g filter="url(#soft)">
<text x="470.5" y="277" font-size="24" fill="#fff" font-family='"Liberation Sans", sans-serif'>V<tspan font-size="17" dy="5" dx="-0.5">y</tspan></text>
<text x="526" y="356.6" font-size="23" fill="#fff" font-family='"Liberation Sans", sans-serif'>V<tspan font-size="17" dy="6" dx="-1">z</tspan></text>
<text transform="translate(433.6,327.3) scale(1.3,1)" font-size="28" fill="#f26a48" font-family='"Liberation Mono", monospace'>I</text>
<text x="452.7" y="336.8" font-size="22" fill="#f26a48" font-family='"Liberation Sans", sans-serif'>+</text>
<text transform="translate(583.4,281.8) scale(1.3,1)" font-size="28" fill="#f26a48" font-family='"Liberation Mono", monospace'>I</text>
<text x="603.8" y="287.3" font-size="16" font-weight="bold" fill="#f26a48" font-family='"Liberation Sans", sans-serif'>−</text>
</g>
</g></g>
<g id="arrows3d"><g filter="url(#soft)">
<g transform="translate(285.6,335.5) rotate(-118)"><path d="M0 0L2.6 -2.6L65.8 -2.6L65.8 2.6L2.6 2.6Z" fill="url(#gG)"/><path d="M64.8 -7.8L91.8 0L64.8 7.8Z" fill="url(#gG)"/></g>
<g transform="translate(288,334.5) rotate(-68)"><path d="M0 0L2.4 -2.4L61.9 -2.4L61.9 2.4L2.4 2.4Z" fill="url(#gB)"/><path d="M60.9 -7.5L87.9 0L60.9 7.5Z" fill="url(#gB)"/></g>
<g transform="translate(286.2,337) rotate(-86.5)"><path d="M0 0L3.1 -3.1L45.6 -3.1L45.6 3.1L3.1 3.1Z" fill="url(#gR)"/><path d="M44.6 -9.5L71.6 0L44.6 9.5Z" fill="url(#gR)"/></g>
<ellipse cx="289.6" cy="291.5" rx="9.4" ry="3.2" fill="#b51a1a"/>
<g transform="translate(419.5,595) rotate(94.1)"><path d="M0 0L2.7 -2.7L39.9 -2.7L39.9 2.7L2.7 2.7Z" fill="url(#gR2)"/><path d="M38.9 -7.3L54.9 0L38.9 7.3Z" fill="url(#gR2)"/><ellipse cx="38.9" cy="0" rx="3.3" ry="7.3" fill="#e34a4a"/></g>
<g transform="translate(421,591.5) rotate(113.1)"><path d="M0 0L2.4 -2.4L62.5 -2.4L62.5 2.4L2.4 2.4Z" fill="url(#gB)"/><path d="M61.5 -7.5L87.5 0L61.5 7.5Z" fill="url(#gB)"/></g>
<g transform="translate(421.5,591.5) rotate(62.9)"><path d="M0 0L2.6 -2.6L61.3 -2.6L61.3 2.6L2.6 2.6Z" fill="url(#gG2)"/><path d="M60.3 -7.5L86.3 0L60.3 7.5Z" fill="url(#gG2)"/></g>
</g></g>
<g id="dashes"><path d="M63 271.4H426" stroke="#8e2222" stroke-width="1.1" stroke-dasharray="6 3.5" fill="none"/><path d="M272 646.5H633" stroke="#8e2222" stroke-width="1.1" stroke-dasharray="6 3.5" fill="none"/></g>
</g>
</svg></body></html>
